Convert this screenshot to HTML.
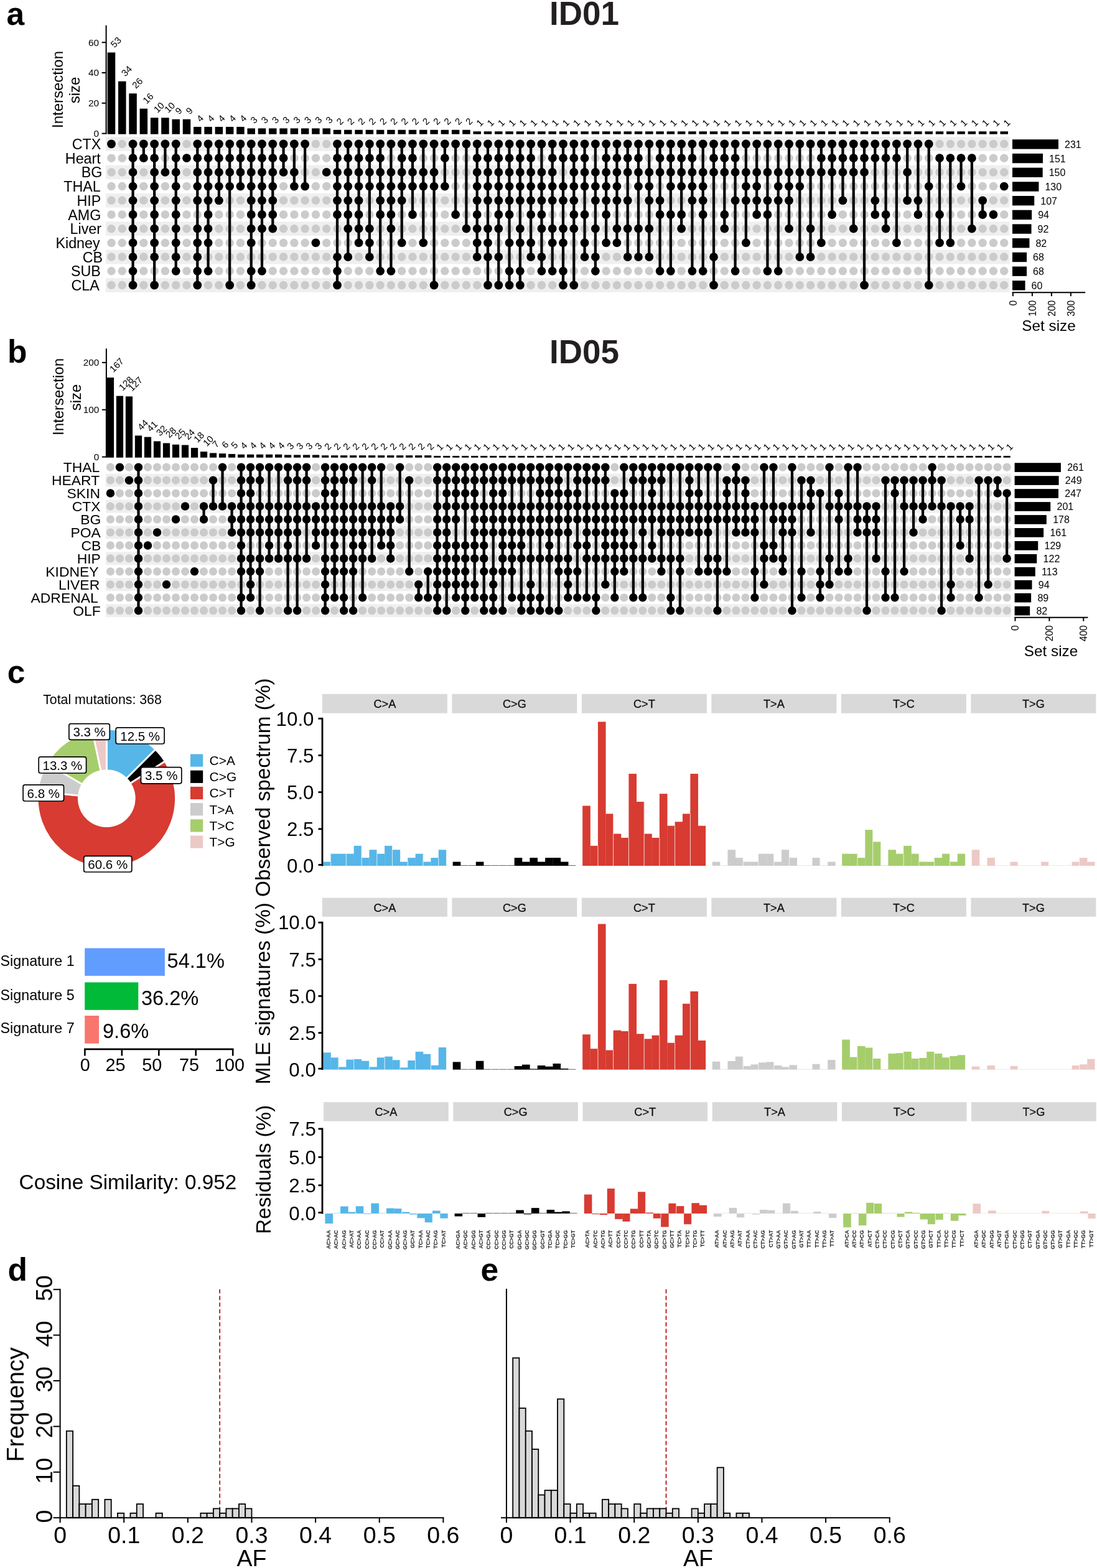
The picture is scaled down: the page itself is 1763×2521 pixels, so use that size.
<!DOCTYPE html>
<html lang="en"><head><meta charset="utf-8"><title>Figure</title>
<style>
html,body{margin:0;padding:0;background:#fff;}
body{width:1763px;height:2521px;overflow:hidden;font-family:"Liberation Sans",sans-serif;}
svg{display:block;}
</style></head><body>
<svg width="1763" height="2521" viewBox="0 0 1763 2521" font-family="'Liberation Sans', sans-serif" fill="#000">
<rect width="1763" height="2521" fill="#fff"/>
<g>
<rect x="169.9" y="220.15" width="1452.6" height="22.7" fill="#efefef"/>
<rect x="169.9" y="265.55" width="1452.6" height="22.7" fill="#efefef"/>
<rect x="169.9" y="310.95" width="1452.6" height="22.7" fill="#efefef"/>
<rect x="169.9" y="356.35" width="1452.6" height="22.7" fill="#efefef"/>
<rect x="169.9" y="401.75" width="1452.6" height="22.7" fill="#efefef"/>
<rect x="169.9" y="447.15" width="1452.6" height="22.7" fill="#efefef"/>
<g fill="#cbcbcb"><circle cx="179" cy="254.2" r="6.75"/><circle cx="179" cy="276.9" r="6.75"/><circle cx="179" cy="299.6" r="6.75"/><circle cx="179" cy="322.3" r="6.75"/><circle cx="179" cy="345" r="6.75"/><circle cx="179" cy="367.7" r="6.75"/><circle cx="179" cy="390.4" r="6.75"/><circle cx="179" cy="413.1" r="6.75"/><circle cx="179" cy="435.8" r="6.75"/><circle cx="179" cy="458.5" r="6.75"/><circle cx="196.29" cy="231.5" r="6.75"/><circle cx="196.29" cy="254.2" r="6.75"/><circle cx="196.29" cy="276.9" r="6.75"/><circle cx="196.29" cy="299.6" r="6.75"/><circle cx="196.29" cy="322.3" r="6.75"/><circle cx="196.29" cy="345" r="6.75"/><circle cx="196.29" cy="367.7" r="6.75"/><circle cx="196.29" cy="390.4" r="6.75"/><circle cx="196.29" cy="413.1" r="6.75"/><circle cx="196.29" cy="435.8" r="6.75"/><circle cx="196.29" cy="458.5" r="6.75"/><circle cx="230.86" cy="276.9" r="6.75"/><circle cx="230.86" cy="299.6" r="6.75"/><circle cx="230.86" cy="322.3" r="6.75"/><circle cx="230.86" cy="345" r="6.75"/><circle cx="230.86" cy="367.7" r="6.75"/><circle cx="230.86" cy="390.4" r="6.75"/><circle cx="230.86" cy="413.1" r="6.75"/><circle cx="230.86" cy="435.8" r="6.75"/><circle cx="230.86" cy="458.5" r="6.75"/><circle cx="248.14" cy="435.8" r="6.75"/><circle cx="265.43" cy="254.2" r="6.75"/><circle cx="265.43" cy="299.6" r="6.75"/><circle cx="265.43" cy="322.3" r="6.75"/><circle cx="265.43" cy="345" r="6.75"/><circle cx="265.43" cy="367.7" r="6.75"/><circle cx="265.43" cy="390.4" r="6.75"/><circle cx="265.43" cy="413.1" r="6.75"/><circle cx="265.43" cy="435.8" r="6.75"/><circle cx="265.43" cy="458.5" r="6.75"/><circle cx="282.72" cy="458.5" r="6.75"/><circle cx="300" cy="231.5" r="6.75"/><circle cx="300" cy="276.9" r="6.75"/><circle cx="300" cy="299.6" r="6.75"/><circle cx="300" cy="322.3" r="6.75"/><circle cx="300" cy="345" r="6.75"/><circle cx="300" cy="367.7" r="6.75"/><circle cx="300" cy="390.4" r="6.75"/><circle cx="300" cy="413.1" r="6.75"/><circle cx="300" cy="435.8" r="6.75"/><circle cx="300" cy="458.5" r="6.75"/><circle cx="317.29" cy="345" r="6.75"/><circle cx="334.57" cy="413.1" r="6.75"/><circle cx="334.57" cy="458.5" r="6.75"/><circle cx="351.86" cy="345" r="6.75"/><circle cx="351.86" cy="367.7" r="6.75"/><circle cx="351.86" cy="390.4" r="6.75"/><circle cx="351.86" cy="413.1" r="6.75"/><circle cx="351.86" cy="435.8" r="6.75"/><circle cx="351.86" cy="458.5" r="6.75"/><circle cx="369.15" cy="322.3" r="6.75"/><circle cx="369.15" cy="345" r="6.75"/><circle cx="369.15" cy="367.7" r="6.75"/><circle cx="369.15" cy="390.4" r="6.75"/><circle cx="369.15" cy="413.1" r="6.75"/><circle cx="369.15" cy="435.8" r="6.75"/><circle cx="386.43" cy="322.3" r="6.75"/><circle cx="386.43" cy="345" r="6.75"/><circle cx="386.43" cy="367.7" r="6.75"/><circle cx="386.43" cy="390.4" r="6.75"/><circle cx="386.43" cy="413.1" r="6.75"/><circle cx="386.43" cy="435.8" r="6.75"/><circle cx="386.43" cy="458.5" r="6.75"/><circle cx="403.72" cy="413.1" r="6.75"/><circle cx="421" cy="390.4" r="6.75"/><circle cx="421" cy="413.1" r="6.75"/><circle cx="421" cy="458.5" r="6.75"/><circle cx="438.29" cy="390.4" r="6.75"/><circle cx="438.29" cy="413.1" r="6.75"/><circle cx="438.29" cy="435.8" r="6.75"/><circle cx="438.29" cy="458.5" r="6.75"/><circle cx="455.58" cy="299.6" r="6.75"/><circle cx="455.58" cy="322.3" r="6.75"/><circle cx="455.58" cy="345" r="6.75"/><circle cx="455.58" cy="367.7" r="6.75"/><circle cx="455.58" cy="390.4" r="6.75"/><circle cx="455.58" cy="413.1" r="6.75"/><circle cx="455.58" cy="435.8" r="6.75"/><circle cx="455.58" cy="458.5" r="6.75"/><circle cx="472.86" cy="254.2" r="6.75"/><circle cx="472.86" cy="322.3" r="6.75"/><circle cx="472.86" cy="345" r="6.75"/><circle cx="472.86" cy="367.7" r="6.75"/><circle cx="472.86" cy="390.4" r="6.75"/><circle cx="472.86" cy="413.1" r="6.75"/><circle cx="472.86" cy="435.8" r="6.75"/><circle cx="472.86" cy="458.5" r="6.75"/><circle cx="490.15" cy="254.2" r="6.75"/><circle cx="490.15" cy="276.9" r="6.75"/><circle cx="490.15" cy="322.3" r="6.75"/><circle cx="490.15" cy="345" r="6.75"/><circle cx="490.15" cy="367.7" r="6.75"/><circle cx="490.15" cy="390.4" r="6.75"/><circle cx="490.15" cy="413.1" r="6.75"/><circle cx="490.15" cy="435.8" r="6.75"/><circle cx="490.15" cy="458.5" r="6.75"/><circle cx="507.43" cy="231.5" r="6.75"/><circle cx="507.43" cy="254.2" r="6.75"/><circle cx="507.43" cy="276.9" r="6.75"/><circle cx="507.43" cy="299.6" r="6.75"/><circle cx="507.43" cy="322.3" r="6.75"/><circle cx="507.43" cy="345" r="6.75"/><circle cx="507.43" cy="367.7" r="6.75"/><circle cx="507.43" cy="413.1" r="6.75"/><circle cx="507.43" cy="435.8" r="6.75"/><circle cx="507.43" cy="458.5" r="6.75"/><circle cx="524.72" cy="231.5" r="6.75"/><circle cx="524.72" cy="254.2" r="6.75"/><circle cx="524.72" cy="299.6" r="6.75"/><circle cx="524.72" cy="322.3" r="6.75"/><circle cx="524.72" cy="345" r="6.75"/><circle cx="524.72" cy="367.7" r="6.75"/><circle cx="524.72" cy="390.4" r="6.75"/><circle cx="524.72" cy="413.1" r="6.75"/><circle cx="524.72" cy="435.8" r="6.75"/><circle cx="524.72" cy="458.5" r="6.75"/><circle cx="542.01" cy="367.7" r="6.75"/><circle cx="542.01" cy="390.4" r="6.75"/><circle cx="559.29" cy="390.4" r="6.75"/><circle cx="559.29" cy="435.8" r="6.75"/><circle cx="559.29" cy="458.5" r="6.75"/><circle cx="576.58" cy="413.1" r="6.75"/><circle cx="576.58" cy="435.8" r="6.75"/><circle cx="576.58" cy="458.5" r="6.75"/><circle cx="593.86" cy="322.3" r="6.75"/><circle cx="593.86" cy="345" r="6.75"/><circle cx="593.86" cy="435.8" r="6.75"/><circle cx="593.86" cy="458.5" r="6.75"/><circle cx="611.15" cy="367.7" r="6.75"/><circle cx="611.15" cy="390.4" r="6.75"/><circle cx="611.15" cy="413.1" r="6.75"/><circle cx="611.15" cy="458.5" r="6.75"/><circle cx="628.44" cy="254.2" r="6.75"/><circle cx="628.44" cy="390.4" r="6.75"/><circle cx="628.44" cy="413.1" r="6.75"/><circle cx="628.44" cy="458.5" r="6.75"/><circle cx="645.72" cy="345" r="6.75"/><circle cx="645.72" cy="367.7" r="6.75"/><circle cx="645.72" cy="413.1" r="6.75"/><circle cx="645.72" cy="435.8" r="6.75"/><circle cx="645.72" cy="458.5" r="6.75"/><circle cx="663.01" cy="322.3" r="6.75"/><circle cx="663.01" cy="367.7" r="6.75"/><circle cx="663.01" cy="390.4" r="6.75"/><circle cx="663.01" cy="413.1" r="6.75"/><circle cx="663.01" cy="435.8" r="6.75"/><circle cx="663.01" cy="458.5" r="6.75"/><circle cx="680.29" cy="254.2" r="6.75"/><circle cx="680.29" cy="322.3" r="6.75"/><circle cx="680.29" cy="345" r="6.75"/><circle cx="680.29" cy="367.7" r="6.75"/><circle cx="680.29" cy="413.1" r="6.75"/><circle cx="680.29" cy="435.8" r="6.75"/><circle cx="680.29" cy="458.5" r="6.75"/><circle cx="697.58" cy="254.2" r="6.75"/><circle cx="697.58" cy="322.3" r="6.75"/><circle cx="697.58" cy="345" r="6.75"/><circle cx="697.58" cy="367.7" r="6.75"/><circle cx="697.58" cy="390.4" r="6.75"/><circle cx="697.58" cy="413.1" r="6.75"/><circle cx="697.58" cy="435.8" r="6.75"/><circle cx="714.87" cy="276.9" r="6.75"/><circle cx="714.87" cy="322.3" r="6.75"/><circle cx="714.87" cy="345" r="6.75"/><circle cx="714.87" cy="367.7" r="6.75"/><circle cx="714.87" cy="390.4" r="6.75"/><circle cx="714.87" cy="413.1" r="6.75"/><circle cx="714.87" cy="435.8" r="6.75"/><circle cx="714.87" cy="458.5" r="6.75"/><circle cx="732.15" cy="254.2" r="6.75"/><circle cx="732.15" cy="276.9" r="6.75"/><circle cx="732.15" cy="299.6" r="6.75"/><circle cx="732.15" cy="322.3" r="6.75"/><circle cx="732.15" cy="367.7" r="6.75"/><circle cx="732.15" cy="390.4" r="6.75"/><circle cx="732.15" cy="413.1" r="6.75"/><circle cx="732.15" cy="435.8" r="6.75"/><circle cx="732.15" cy="458.5" r="6.75"/><circle cx="749.44" cy="254.2" r="6.75"/><circle cx="749.44" cy="276.9" r="6.75"/><circle cx="749.44" cy="299.6" r="6.75"/><circle cx="749.44" cy="322.3" r="6.75"/><circle cx="749.44" cy="345" r="6.75"/><circle cx="749.44" cy="390.4" r="6.75"/><circle cx="749.44" cy="413.1" r="6.75"/><circle cx="749.44" cy="435.8" r="6.75"/><circle cx="749.44" cy="458.5" r="6.75"/><circle cx="766.72" cy="435.8" r="6.75"/><circle cx="766.72" cy="458.5" r="6.75"/><circle cx="784.01" cy="345" r="6.75"/><circle cx="784.01" cy="435.8" r="6.75"/><circle cx="801.3" cy="390.4" r="6.75"/><circle cx="801.3" cy="435.8" r="6.75"/><circle cx="818.58" cy="367.7" r="6.75"/><circle cx="818.58" cy="413.1" r="6.75"/><circle cx="835.87" cy="345" r="6.75"/><circle cx="835.87" cy="413.1" r="6.75"/><circle cx="853.15" cy="367.7" r="6.75"/><circle cx="853.15" cy="435.8" r="6.75"/><circle cx="853.15" cy="458.5" r="6.75"/><circle cx="870.44" cy="254.2" r="6.75"/><circle cx="870.44" cy="390.4" r="6.75"/><circle cx="870.44" cy="458.5" r="6.75"/><circle cx="887.73" cy="345" r="6.75"/><circle cx="887.73" cy="413.1" r="6.75"/><circle cx="887.73" cy="458.5" r="6.75"/><circle cx="905.01" cy="276.9" r="6.75"/><circle cx="905.01" cy="345" r="6.75"/><circle cx="905.01" cy="413.1" r="6.75"/><circle cx="922.3" cy="390.4" r="6.75"/><circle cx="922.3" cy="413.1" r="6.75"/><circle cx="922.3" cy="435.8" r="6.75"/><circle cx="939.58" cy="322.3" r="6.75"/><circle cx="939.58" cy="367.7" r="6.75"/><circle cx="939.58" cy="435.8" r="6.75"/><circle cx="939.58" cy="458.5" r="6.75"/><circle cx="956.87" cy="254.2" r="6.75"/><circle cx="956.87" cy="345" r="6.75"/><circle cx="956.87" cy="390.4" r="6.75"/><circle cx="956.87" cy="458.5" r="6.75"/><circle cx="974.16" cy="367.7" r="6.75"/><circle cx="974.16" cy="413.1" r="6.75"/><circle cx="974.16" cy="435.8" r="6.75"/><circle cx="974.16" cy="458.5" r="6.75"/><circle cx="991.44" cy="345" r="6.75"/><circle cx="991.44" cy="413.1" r="6.75"/><circle cx="991.44" cy="435.8" r="6.75"/><circle cx="991.44" cy="458.5" r="6.75"/><circle cx="1008.73" cy="299.6" r="6.75"/><circle cx="1008.73" cy="345" r="6.75"/><circle cx="1008.73" cy="390.4" r="6.75"/><circle cx="1008.73" cy="435.8" r="6.75"/><circle cx="1008.73" cy="458.5" r="6.75"/><circle cx="1026.01" cy="322.3" r="6.75"/><circle cx="1026.01" cy="345" r="6.75"/><circle cx="1026.01" cy="390.4" r="6.75"/><circle cx="1026.01" cy="435.8" r="6.75"/><circle cx="1026.01" cy="458.5" r="6.75"/><circle cx="1043.3" cy="254.2" r="6.75"/><circle cx="1043.3" cy="345" r="6.75"/><circle cx="1043.3" cy="390.4" r="6.75"/><circle cx="1043.3" cy="435.8" r="6.75"/><circle cx="1043.3" cy="458.5" r="6.75"/><circle cx="1060.59" cy="299.6" r="6.75"/><circle cx="1060.59" cy="367.7" r="6.75"/><circle cx="1060.59" cy="390.4" r="6.75"/><circle cx="1060.59" cy="413.1" r="6.75"/><circle cx="1060.59" cy="458.5" r="6.75"/><circle cx="1077.87" cy="322.3" r="6.75"/><circle cx="1077.87" cy="367.7" r="6.75"/><circle cx="1077.87" cy="390.4" r="6.75"/><circle cx="1077.87" cy="413.1" r="6.75"/><circle cx="1077.87" cy="458.5" r="6.75"/><circle cx="1095.16" cy="322.3" r="6.75"/><circle cx="1095.16" cy="390.4" r="6.75"/><circle cx="1095.16" cy="413.1" r="6.75"/><circle cx="1095.16" cy="435.8" r="6.75"/><circle cx="1095.16" cy="458.5" r="6.75"/><circle cx="1112.44" cy="345" r="6.75"/><circle cx="1112.44" cy="367.7" r="6.75"/><circle cx="1112.44" cy="390.4" r="6.75"/><circle cx="1112.44" cy="413.1" r="6.75"/><circle cx="1112.44" cy="458.5" r="6.75"/><circle cx="1129.73" cy="254.2" r="6.75"/><circle cx="1129.73" cy="367.7" r="6.75"/><circle cx="1129.73" cy="390.4" r="6.75"/><circle cx="1129.73" cy="413.1" r="6.75"/><circle cx="1129.73" cy="458.5" r="6.75"/><circle cx="1147.02" cy="299.6" r="6.75"/><circle cx="1147.02" cy="322.3" r="6.75"/><circle cx="1147.02" cy="345" r="6.75"/><circle cx="1147.02" cy="367.7" r="6.75"/><circle cx="1147.02" cy="390.4" r="6.75"/><circle cx="1147.02" cy="435.8" r="6.75"/><circle cx="1164.3" cy="299.6" r="6.75"/><circle cx="1164.3" cy="322.3" r="6.75"/><circle cx="1164.3" cy="390.4" r="6.75"/><circle cx="1164.3" cy="413.1" r="6.75"/><circle cx="1164.3" cy="435.8" r="6.75"/><circle cx="1164.3" cy="458.5" r="6.75"/><circle cx="1181.59" cy="299.6" r="6.75"/><circle cx="1181.59" cy="345" r="6.75"/><circle cx="1181.59" cy="367.7" r="6.75"/><circle cx="1181.59" cy="390.4" r="6.75"/><circle cx="1181.59" cy="413.1" r="6.75"/><circle cx="1181.59" cy="458.5" r="6.75"/><circle cx="1198.87" cy="254.2" r="6.75"/><circle cx="1198.87" cy="345" r="6.75"/><circle cx="1198.87" cy="367.7" r="6.75"/><circle cx="1198.87" cy="413.1" r="6.75"/><circle cx="1198.87" cy="435.8" r="6.75"/><circle cx="1198.87" cy="458.5" r="6.75"/><circle cx="1216.16" cy="254.2" r="6.75"/><circle cx="1216.16" cy="367.7" r="6.75"/><circle cx="1216.16" cy="390.4" r="6.75"/><circle cx="1216.16" cy="413.1" r="6.75"/><circle cx="1216.16" cy="435.8" r="6.75"/><circle cx="1216.16" cy="458.5" r="6.75"/><circle cx="1233.45" cy="254.2" r="6.75"/><circle cx="1233.45" cy="299.6" r="6.75"/><circle cx="1233.45" cy="367.7" r="6.75"/><circle cx="1233.45" cy="390.4" r="6.75"/><circle cx="1233.45" cy="413.1" r="6.75"/><circle cx="1233.45" cy="458.5" r="6.75"/><circle cx="1250.73" cy="254.2" r="6.75"/><circle cx="1250.73" cy="345" r="6.75"/><circle cx="1250.73" cy="367.7" r="6.75"/><circle cx="1250.73" cy="390.4" r="6.75"/><circle cx="1250.73" cy="413.1" r="6.75"/><circle cx="1250.73" cy="458.5" r="6.75"/><circle cx="1268.02" cy="254.2" r="6.75"/><circle cx="1268.02" cy="345" r="6.75"/><circle cx="1268.02" cy="390.4" r="6.75"/><circle cx="1268.02" cy="413.1" r="6.75"/><circle cx="1268.02" cy="435.8" r="6.75"/><circle cx="1268.02" cy="458.5" r="6.75"/><circle cx="1285.3" cy="254.2" r="6.75"/><circle cx="1285.3" cy="322.3" r="6.75"/><circle cx="1285.3" cy="345" r="6.75"/><circle cx="1285.3" cy="367.7" r="6.75"/><circle cx="1285.3" cy="390.4" r="6.75"/><circle cx="1285.3" cy="435.8" r="6.75"/><circle cx="1285.3" cy="458.5" r="6.75"/><circle cx="1302.59" cy="254.2" r="6.75"/><circle cx="1302.59" cy="299.6" r="6.75"/><circle cx="1302.59" cy="322.3" r="6.75"/><circle cx="1302.59" cy="345" r="6.75"/><circle cx="1302.59" cy="390.4" r="6.75"/><circle cx="1302.59" cy="435.8" r="6.75"/><circle cx="1302.59" cy="458.5" r="6.75"/><circle cx="1319.88" cy="299.6" r="6.75"/><circle cx="1319.88" cy="322.3" r="6.75"/><circle cx="1319.88" cy="345" r="6.75"/><circle cx="1319.88" cy="367.7" r="6.75"/><circle cx="1319.88" cy="413.1" r="6.75"/><circle cx="1319.88" cy="435.8" r="6.75"/><circle cx="1319.88" cy="458.5" r="6.75"/><circle cx="1337.16" cy="299.6" r="6.75"/><circle cx="1337.16" cy="322.3" r="6.75"/><circle cx="1337.16" cy="367.7" r="6.75"/><circle cx="1337.16" cy="390.4" r="6.75"/><circle cx="1337.16" cy="413.1" r="6.75"/><circle cx="1337.16" cy="435.8" r="6.75"/><circle cx="1337.16" cy="458.5" r="6.75"/><circle cx="1354.45" cy="299.6" r="6.75"/><circle cx="1354.45" cy="345" r="6.75"/><circle cx="1354.45" cy="367.7" r="6.75"/><circle cx="1354.45" cy="390.4" r="6.75"/><circle cx="1354.45" cy="413.1" r="6.75"/><circle cx="1354.45" cy="435.8" r="6.75"/><circle cx="1354.45" cy="458.5" r="6.75"/><circle cx="1371.73" cy="299.6" r="6.75"/><circle cx="1371.73" cy="322.3" r="6.75"/><circle cx="1371.73" cy="345" r="6.75"/><circle cx="1371.73" cy="390.4" r="6.75"/><circle cx="1371.73" cy="413.1" r="6.75"/><circle cx="1371.73" cy="435.8" r="6.75"/><circle cx="1371.73" cy="458.5" r="6.75"/><circle cx="1389.02" cy="299.6" r="6.75"/><circle cx="1389.02" cy="322.3" r="6.75"/><circle cx="1389.02" cy="345" r="6.75"/><circle cx="1389.02" cy="367.7" r="6.75"/><circle cx="1389.02" cy="390.4" r="6.75"/><circle cx="1389.02" cy="413.1" r="6.75"/><circle cx="1389.02" cy="435.8" r="6.75"/><circle cx="1406.31" cy="276.9" r="6.75"/><circle cx="1406.31" cy="299.6" r="6.75"/><circle cx="1406.31" cy="367.7" r="6.75"/><circle cx="1406.31" cy="390.4" r="6.75"/><circle cx="1406.31" cy="413.1" r="6.75"/><circle cx="1406.31" cy="435.8" r="6.75"/><circle cx="1406.31" cy="458.5" r="6.75"/><circle cx="1423.59" cy="276.9" r="6.75"/><circle cx="1423.59" cy="299.6" r="6.75"/><circle cx="1423.59" cy="322.3" r="6.75"/><circle cx="1423.59" cy="390.4" r="6.75"/><circle cx="1423.59" cy="413.1" r="6.75"/><circle cx="1423.59" cy="435.8" r="6.75"/><circle cx="1423.59" cy="458.5" r="6.75"/><circle cx="1440.88" cy="276.9" r="6.75"/><circle cx="1440.88" cy="299.6" r="6.75"/><circle cx="1440.88" cy="322.3" r="6.75"/><circle cx="1440.88" cy="345" r="6.75"/><circle cx="1440.88" cy="367.7" r="6.75"/><circle cx="1440.88" cy="413.1" r="6.75"/><circle cx="1440.88" cy="435.8" r="6.75"/><circle cx="1440.88" cy="458.5" r="6.75"/><circle cx="1458.16" cy="254.2" r="6.75"/><circle cx="1458.16" cy="299.6" r="6.75"/><circle cx="1458.16" cy="345" r="6.75"/><circle cx="1458.16" cy="367.7" r="6.75"/><circle cx="1458.16" cy="390.4" r="6.75"/><circle cx="1458.16" cy="413.1" r="6.75"/><circle cx="1458.16" cy="435.8" r="6.75"/><circle cx="1458.16" cy="458.5" r="6.75"/><circle cx="1475.45" cy="254.2" r="6.75"/><circle cx="1475.45" cy="276.9" r="6.75"/><circle cx="1475.45" cy="299.6" r="6.75"/><circle cx="1475.45" cy="367.7" r="6.75"/><circle cx="1475.45" cy="390.4" r="6.75"/><circle cx="1475.45" cy="413.1" r="6.75"/><circle cx="1475.45" cy="435.8" r="6.75"/><circle cx="1475.45" cy="458.5" r="6.75"/><circle cx="1492.74" cy="254.2" r="6.75"/><circle cx="1492.74" cy="276.9" r="6.75"/><circle cx="1492.74" cy="322.3" r="6.75"/><circle cx="1492.74" cy="345" r="6.75"/><circle cx="1492.74" cy="367.7" r="6.75"/><circle cx="1492.74" cy="390.4" r="6.75"/><circle cx="1492.74" cy="413.1" r="6.75"/><circle cx="1492.74" cy="435.8" r="6.75"/><circle cx="1510.02" cy="231.5" r="6.75"/><circle cx="1510.02" cy="276.9" r="6.75"/><circle cx="1510.02" cy="299.6" r="6.75"/><circle cx="1510.02" cy="322.3" r="6.75"/><circle cx="1510.02" cy="367.7" r="6.75"/><circle cx="1510.02" cy="413.1" r="6.75"/><circle cx="1510.02" cy="435.8" r="6.75"/><circle cx="1510.02" cy="458.5" r="6.75"/><circle cx="1527.31" cy="231.5" r="6.75"/><circle cx="1527.31" cy="276.9" r="6.75"/><circle cx="1527.31" cy="299.6" r="6.75"/><circle cx="1527.31" cy="322.3" r="6.75"/><circle cx="1527.31" cy="345" r="6.75"/><circle cx="1527.31" cy="367.7" r="6.75"/><circle cx="1527.31" cy="413.1" r="6.75"/><circle cx="1527.31" cy="435.8" r="6.75"/><circle cx="1527.31" cy="458.5" r="6.75"/><circle cx="1544.59" cy="231.5" r="6.75"/><circle cx="1544.59" cy="276.9" r="6.75"/><circle cx="1544.59" cy="322.3" r="6.75"/><circle cx="1544.59" cy="345" r="6.75"/><circle cx="1544.59" cy="367.7" r="6.75"/><circle cx="1544.59" cy="390.4" r="6.75"/><circle cx="1544.59" cy="413.1" r="6.75"/><circle cx="1544.59" cy="435.8" r="6.75"/><circle cx="1544.59" cy="458.5" r="6.75"/><circle cx="1561.88" cy="231.5" r="6.75"/><circle cx="1561.88" cy="276.9" r="6.75"/><circle cx="1561.88" cy="299.6" r="6.75"/><circle cx="1561.88" cy="322.3" r="6.75"/><circle cx="1561.88" cy="345" r="6.75"/><circle cx="1561.88" cy="390.4" r="6.75"/><circle cx="1561.88" cy="413.1" r="6.75"/><circle cx="1561.88" cy="435.8" r="6.75"/><circle cx="1561.88" cy="458.5" r="6.75"/><circle cx="1579.17" cy="231.5" r="6.75"/><circle cx="1579.17" cy="254.2" r="6.75"/><circle cx="1579.17" cy="276.9" r="6.75"/><circle cx="1579.17" cy="299.6" r="6.75"/><circle cx="1579.17" cy="367.7" r="6.75"/><circle cx="1579.17" cy="390.4" r="6.75"/><circle cx="1579.17" cy="413.1" r="6.75"/><circle cx="1579.17" cy="435.8" r="6.75"/><circle cx="1579.17" cy="458.5" r="6.75"/><circle cx="1596.45" cy="231.5" r="6.75"/><circle cx="1596.45" cy="254.2" r="6.75"/><circle cx="1596.45" cy="276.9" r="6.75"/><circle cx="1596.45" cy="299.6" r="6.75"/><circle cx="1596.45" cy="322.3" r="6.75"/><circle cx="1596.45" cy="367.7" r="6.75"/><circle cx="1596.45" cy="390.4" r="6.75"/><circle cx="1596.45" cy="413.1" r="6.75"/><circle cx="1596.45" cy="435.8" r="6.75"/><circle cx="1596.45" cy="458.5" r="6.75"/><circle cx="1613.74" cy="231.5" r="6.75"/><circle cx="1613.74" cy="254.2" r="6.75"/><circle cx="1613.74" cy="276.9" r="6.75"/><circle cx="1613.74" cy="322.3" r="6.75"/><circle cx="1613.74" cy="345" r="6.75"/><circle cx="1613.74" cy="367.7" r="6.75"/><circle cx="1613.74" cy="390.4" r="6.75"/><circle cx="1613.74" cy="413.1" r="6.75"/><circle cx="1613.74" cy="435.8" r="6.75"/><circle cx="1613.74" cy="458.5" r="6.75"/></g>
<g stroke="#000" stroke-width="4.2"><line x1="213.57" y1="231.5" x2="213.57" y2="458.5"/><line x1="230.86" y1="231.5" x2="230.86" y2="254.2"/><line x1="248.14" y1="231.5" x2="248.14" y2="458.5"/><line x1="265.43" y1="231.5" x2="265.43" y2="276.9"/><line x1="282.72" y1="231.5" x2="282.72" y2="435.8"/><line x1="317.29" y1="231.5" x2="317.29" y2="458.5"/><line x1="334.57" y1="231.5" x2="334.57" y2="435.8"/><line x1="351.86" y1="231.5" x2="351.86" y2="322.3"/><line x1="369.15" y1="231.5" x2="369.15" y2="458.5"/><line x1="386.43" y1="231.5" x2="386.43" y2="299.6"/><line x1="403.72" y1="231.5" x2="403.72" y2="458.5"/><line x1="421" y1="231.5" x2="421" y2="435.8"/><line x1="438.29" y1="231.5" x2="438.29" y2="367.7"/><line x1="455.58" y1="231.5" x2="455.58" y2="276.9"/><line x1="472.86" y1="231.5" x2="472.86" y2="299.6"/><line x1="490.15" y1="231.5" x2="490.15" y2="299.6"/><line x1="542.01" y1="231.5" x2="542.01" y2="458.5"/><line x1="559.29" y1="231.5" x2="559.29" y2="413.1"/><line x1="576.58" y1="231.5" x2="576.58" y2="390.4"/><line x1="593.86" y1="231.5" x2="593.86" y2="413.1"/><line x1="611.15" y1="231.5" x2="611.15" y2="435.8"/><line x1="628.44" y1="231.5" x2="628.44" y2="435.8"/><line x1="645.72" y1="231.5" x2="645.72" y2="390.4"/><line x1="663.01" y1="231.5" x2="663.01" y2="345"/><line x1="680.29" y1="231.5" x2="680.29" y2="390.4"/><line x1="697.58" y1="231.5" x2="697.58" y2="458.5"/><line x1="714.87" y1="231.5" x2="714.87" y2="299.6"/><line x1="732.15" y1="231.5" x2="732.15" y2="345"/><line x1="749.44" y1="231.5" x2="749.44" y2="367.7"/><line x1="766.72" y1="231.5" x2="766.72" y2="413.1"/><line x1="784.01" y1="231.5" x2="784.01" y2="458.5"/><line x1="801.3" y1="231.5" x2="801.3" y2="458.5"/><line x1="818.58" y1="231.5" x2="818.58" y2="458.5"/><line x1="835.87" y1="231.5" x2="835.87" y2="458.5"/><line x1="853.15" y1="231.5" x2="853.15" y2="413.1"/><line x1="870.44" y1="231.5" x2="870.44" y2="435.8"/><line x1="887.73" y1="231.5" x2="887.73" y2="435.8"/><line x1="905.01" y1="231.5" x2="905.01" y2="458.5"/><line x1="922.3" y1="231.5" x2="922.3" y2="458.5"/><line x1="939.58" y1="231.5" x2="939.58" y2="413.1"/><line x1="956.87" y1="231.5" x2="956.87" y2="435.8"/><line x1="974.16" y1="231.5" x2="974.16" y2="390.4"/><line x1="991.44" y1="231.5" x2="991.44" y2="390.4"/><line x1="1008.73" y1="231.5" x2="1008.73" y2="413.1"/><line x1="1026.01" y1="231.5" x2="1026.01" y2="413.1"/><line x1="1043.3" y1="231.5" x2="1043.3" y2="413.1"/><line x1="1060.59" y1="231.5" x2="1060.59" y2="435.8"/><line x1="1077.87" y1="231.5" x2="1077.87" y2="435.8"/><line x1="1095.16" y1="231.5" x2="1095.16" y2="367.7"/><line x1="1112.44" y1="231.5" x2="1112.44" y2="435.8"/><line x1="1129.73" y1="231.5" x2="1129.73" y2="435.8"/><line x1="1147.02" y1="231.5" x2="1147.02" y2="458.5"/><line x1="1164.3" y1="231.5" x2="1164.3" y2="367.7"/><line x1="1181.59" y1="231.5" x2="1181.59" y2="435.8"/><line x1="1198.87" y1="231.5" x2="1198.87" y2="390.4"/><line x1="1216.16" y1="231.5" x2="1216.16" y2="345"/><line x1="1233.45" y1="231.5" x2="1233.45" y2="435.8"/><line x1="1250.73" y1="231.5" x2="1250.73" y2="435.8"/><line x1="1268.02" y1="231.5" x2="1268.02" y2="367.7"/><line x1="1285.3" y1="231.5" x2="1285.3" y2="413.1"/><line x1="1302.59" y1="231.5" x2="1302.59" y2="413.1"/><line x1="1319.88" y1="231.5" x2="1319.88" y2="390.4"/><line x1="1337.16" y1="231.5" x2="1337.16" y2="345"/><line x1="1354.45" y1="231.5" x2="1354.45" y2="322.3"/><line x1="1371.73" y1="231.5" x2="1371.73" y2="367.7"/><line x1="1389.02" y1="231.5" x2="1389.02" y2="458.5"/><line x1="1406.31" y1="231.5" x2="1406.31" y2="345"/><line x1="1423.59" y1="231.5" x2="1423.59" y2="367.7"/><line x1="1440.88" y1="231.5" x2="1440.88" y2="390.4"/><line x1="1458.16" y1="231.5" x2="1458.16" y2="322.3"/><line x1="1475.45" y1="231.5" x2="1475.45" y2="345"/><line x1="1492.74" y1="231.5" x2="1492.74" y2="458.5"/><line x1="1510.02" y1="254.2" x2="1510.02" y2="390.4"/><line x1="1527.31" y1="254.2" x2="1527.31" y2="390.4"/><line x1="1544.59" y1="254.2" x2="1544.59" y2="299.6"/><line x1="1561.88" y1="254.2" x2="1561.88" y2="367.7"/><line x1="1579.17" y1="322.3" x2="1579.17" y2="345"/></g>
<g fill="#000"><circle cx="179" cy="231.5" r="6.9"/><circle cx="213.57" cy="231.5" r="6.9"/><circle cx="213.57" cy="254.2" r="6.9"/><circle cx="213.57" cy="276.9" r="6.9"/><circle cx="213.57" cy="299.6" r="6.9"/><circle cx="213.57" cy="322.3" r="6.9"/><circle cx="213.57" cy="345" r="6.9"/><circle cx="213.57" cy="367.7" r="6.9"/><circle cx="213.57" cy="390.4" r="6.9"/><circle cx="213.57" cy="413.1" r="6.9"/><circle cx="213.57" cy="435.8" r="6.9"/><circle cx="213.57" cy="458.5" r="6.9"/><circle cx="230.86" cy="231.5" r="6.9"/><circle cx="230.86" cy="254.2" r="6.9"/><circle cx="248.14" cy="231.5" r="6.9"/><circle cx="248.14" cy="254.2" r="6.9"/><circle cx="248.14" cy="276.9" r="6.9"/><circle cx="248.14" cy="299.6" r="6.9"/><circle cx="248.14" cy="322.3" r="6.9"/><circle cx="248.14" cy="345" r="6.9"/><circle cx="248.14" cy="367.7" r="6.9"/><circle cx="248.14" cy="390.4" r="6.9"/><circle cx="248.14" cy="413.1" r="6.9"/><circle cx="248.14" cy="458.5" r="6.9"/><circle cx="265.43" cy="231.5" r="6.9"/><circle cx="265.43" cy="276.9" r="6.9"/><circle cx="282.72" cy="231.5" r="6.9"/><circle cx="282.72" cy="254.2" r="6.9"/><circle cx="282.72" cy="276.9" r="6.9"/><circle cx="282.72" cy="299.6" r="6.9"/><circle cx="282.72" cy="322.3" r="6.9"/><circle cx="282.72" cy="345" r="6.9"/><circle cx="282.72" cy="367.7" r="6.9"/><circle cx="282.72" cy="390.4" r="6.9"/><circle cx="282.72" cy="413.1" r="6.9"/><circle cx="282.72" cy="435.8" r="6.9"/><circle cx="300" cy="254.2" r="6.9"/><circle cx="317.29" cy="231.5" r="6.9"/><circle cx="317.29" cy="254.2" r="6.9"/><circle cx="317.29" cy="276.9" r="6.9"/><circle cx="317.29" cy="299.6" r="6.9"/><circle cx="317.29" cy="322.3" r="6.9"/><circle cx="317.29" cy="367.7" r="6.9"/><circle cx="317.29" cy="390.4" r="6.9"/><circle cx="317.29" cy="413.1" r="6.9"/><circle cx="317.29" cy="435.8" r="6.9"/><circle cx="317.29" cy="458.5" r="6.9"/><circle cx="334.57" cy="231.5" r="6.9"/><circle cx="334.57" cy="254.2" r="6.9"/><circle cx="334.57" cy="276.9" r="6.9"/><circle cx="334.57" cy="299.6" r="6.9"/><circle cx="334.57" cy="322.3" r="6.9"/><circle cx="334.57" cy="345" r="6.9"/><circle cx="334.57" cy="367.7" r="6.9"/><circle cx="334.57" cy="390.4" r="6.9"/><circle cx="334.57" cy="435.8" r="6.9"/><circle cx="351.86" cy="231.5" r="6.9"/><circle cx="351.86" cy="254.2" r="6.9"/><circle cx="351.86" cy="276.9" r="6.9"/><circle cx="351.86" cy="299.6" r="6.9"/><circle cx="351.86" cy="322.3" r="6.9"/><circle cx="369.15" cy="231.5" r="6.9"/><circle cx="369.15" cy="254.2" r="6.9"/><circle cx="369.15" cy="276.9" r="6.9"/><circle cx="369.15" cy="299.6" r="6.9"/><circle cx="369.15" cy="458.5" r="6.9"/><circle cx="386.43" cy="231.5" r="6.9"/><circle cx="386.43" cy="254.2" r="6.9"/><circle cx="386.43" cy="276.9" r="6.9"/><circle cx="386.43" cy="299.6" r="6.9"/><circle cx="403.72" cy="231.5" r="6.9"/><circle cx="403.72" cy="254.2" r="6.9"/><circle cx="403.72" cy="276.9" r="6.9"/><circle cx="403.72" cy="299.6" r="6.9"/><circle cx="403.72" cy="322.3" r="6.9"/><circle cx="403.72" cy="345" r="6.9"/><circle cx="403.72" cy="367.7" r="6.9"/><circle cx="403.72" cy="390.4" r="6.9"/><circle cx="403.72" cy="435.8" r="6.9"/><circle cx="403.72" cy="458.5" r="6.9"/><circle cx="421" cy="231.5" r="6.9"/><circle cx="421" cy="254.2" r="6.9"/><circle cx="421" cy="276.9" r="6.9"/><circle cx="421" cy="299.6" r="6.9"/><circle cx="421" cy="322.3" r="6.9"/><circle cx="421" cy="345" r="6.9"/><circle cx="421" cy="367.7" r="6.9"/><circle cx="421" cy="435.8" r="6.9"/><circle cx="438.29" cy="231.5" r="6.9"/><circle cx="438.29" cy="254.2" r="6.9"/><circle cx="438.29" cy="276.9" r="6.9"/><circle cx="438.29" cy="299.6" r="6.9"/><circle cx="438.29" cy="322.3" r="6.9"/><circle cx="438.29" cy="345" r="6.9"/><circle cx="438.29" cy="367.7" r="6.9"/><circle cx="455.58" cy="231.5" r="6.9"/><circle cx="455.58" cy="254.2" r="6.9"/><circle cx="455.58" cy="276.9" r="6.9"/><circle cx="472.86" cy="231.5" r="6.9"/><circle cx="472.86" cy="276.9" r="6.9"/><circle cx="472.86" cy="299.6" r="6.9"/><circle cx="490.15" cy="231.5" r="6.9"/><circle cx="490.15" cy="299.6" r="6.9"/><circle cx="507.43" cy="390.4" r="6.9"/><circle cx="524.72" cy="276.9" r="6.9"/><circle cx="542.01" cy="231.5" r="6.9"/><circle cx="542.01" cy="254.2" r="6.9"/><circle cx="542.01" cy="276.9" r="6.9"/><circle cx="542.01" cy="299.6" r="6.9"/><circle cx="542.01" cy="322.3" r="6.9"/><circle cx="542.01" cy="345" r="6.9"/><circle cx="542.01" cy="413.1" r="6.9"/><circle cx="542.01" cy="435.8" r="6.9"/><circle cx="542.01" cy="458.5" r="6.9"/><circle cx="559.29" cy="231.5" r="6.9"/><circle cx="559.29" cy="254.2" r="6.9"/><circle cx="559.29" cy="276.9" r="6.9"/><circle cx="559.29" cy="299.6" r="6.9"/><circle cx="559.29" cy="322.3" r="6.9"/><circle cx="559.29" cy="345" r="6.9"/><circle cx="559.29" cy="367.7" r="6.9"/><circle cx="559.29" cy="413.1" r="6.9"/><circle cx="576.58" cy="231.5" r="6.9"/><circle cx="576.58" cy="254.2" r="6.9"/><circle cx="576.58" cy="276.9" r="6.9"/><circle cx="576.58" cy="299.6" r="6.9"/><circle cx="576.58" cy="322.3" r="6.9"/><circle cx="576.58" cy="345" r="6.9"/><circle cx="576.58" cy="367.7" r="6.9"/><circle cx="576.58" cy="390.4" r="6.9"/><circle cx="593.86" cy="231.5" r="6.9"/><circle cx="593.86" cy="254.2" r="6.9"/><circle cx="593.86" cy="276.9" r="6.9"/><circle cx="593.86" cy="299.6" r="6.9"/><circle cx="593.86" cy="367.7" r="6.9"/><circle cx="593.86" cy="390.4" r="6.9"/><circle cx="593.86" cy="413.1" r="6.9"/><circle cx="611.15" cy="231.5" r="6.9"/><circle cx="611.15" cy="254.2" r="6.9"/><circle cx="611.15" cy="276.9" r="6.9"/><circle cx="611.15" cy="299.6" r="6.9"/><circle cx="611.15" cy="322.3" r="6.9"/><circle cx="611.15" cy="345" r="6.9"/><circle cx="611.15" cy="435.8" r="6.9"/><circle cx="628.44" cy="231.5" r="6.9"/><circle cx="628.44" cy="276.9" r="6.9"/><circle cx="628.44" cy="299.6" r="6.9"/><circle cx="628.44" cy="322.3" r="6.9"/><circle cx="628.44" cy="345" r="6.9"/><circle cx="628.44" cy="367.7" r="6.9"/><circle cx="628.44" cy="435.8" r="6.9"/><circle cx="645.72" cy="231.5" r="6.9"/><circle cx="645.72" cy="254.2" r="6.9"/><circle cx="645.72" cy="276.9" r="6.9"/><circle cx="645.72" cy="299.6" r="6.9"/><circle cx="645.72" cy="322.3" r="6.9"/><circle cx="645.72" cy="390.4" r="6.9"/><circle cx="663.01" cy="231.5" r="6.9"/><circle cx="663.01" cy="254.2" r="6.9"/><circle cx="663.01" cy="276.9" r="6.9"/><circle cx="663.01" cy="299.6" r="6.9"/><circle cx="663.01" cy="345" r="6.9"/><circle cx="680.29" cy="231.5" r="6.9"/><circle cx="680.29" cy="276.9" r="6.9"/><circle cx="680.29" cy="299.6" r="6.9"/><circle cx="680.29" cy="390.4" r="6.9"/><circle cx="697.58" cy="231.5" r="6.9"/><circle cx="697.58" cy="276.9" r="6.9"/><circle cx="697.58" cy="299.6" r="6.9"/><circle cx="697.58" cy="458.5" r="6.9"/><circle cx="714.87" cy="231.5" r="6.9"/><circle cx="714.87" cy="254.2" r="6.9"/><circle cx="714.87" cy="299.6" r="6.9"/><circle cx="732.15" cy="231.5" r="6.9"/><circle cx="732.15" cy="345" r="6.9"/><circle cx="749.44" cy="231.5" r="6.9"/><circle cx="749.44" cy="367.7" r="6.9"/><circle cx="766.72" cy="231.5" r="6.9"/><circle cx="766.72" cy="254.2" r="6.9"/><circle cx="766.72" cy="276.9" r="6.9"/><circle cx="766.72" cy="299.6" r="6.9"/><circle cx="766.72" cy="322.3" r="6.9"/><circle cx="766.72" cy="345" r="6.9"/><circle cx="766.72" cy="367.7" r="6.9"/><circle cx="766.72" cy="390.4" r="6.9"/><circle cx="766.72" cy="413.1" r="6.9"/><circle cx="784.01" cy="231.5" r="6.9"/><circle cx="784.01" cy="254.2" r="6.9"/><circle cx="784.01" cy="276.9" r="6.9"/><circle cx="784.01" cy="299.6" r="6.9"/><circle cx="784.01" cy="322.3" r="6.9"/><circle cx="784.01" cy="367.7" r="6.9"/><circle cx="784.01" cy="390.4" r="6.9"/><circle cx="784.01" cy="413.1" r="6.9"/><circle cx="784.01" cy="458.5" r="6.9"/><circle cx="801.3" cy="231.5" r="6.9"/><circle cx="801.3" cy="254.2" r="6.9"/><circle cx="801.3" cy="276.9" r="6.9"/><circle cx="801.3" cy="299.6" r="6.9"/><circle cx="801.3" cy="322.3" r="6.9"/><circle cx="801.3" cy="345" r="6.9"/><circle cx="801.3" cy="367.7" r="6.9"/><circle cx="801.3" cy="413.1" r="6.9"/><circle cx="801.3" cy="458.5" r="6.9"/><circle cx="818.58" cy="231.5" r="6.9"/><circle cx="818.58" cy="254.2" r="6.9"/><circle cx="818.58" cy="276.9" r="6.9"/><circle cx="818.58" cy="299.6" r="6.9"/><circle cx="818.58" cy="322.3" r="6.9"/><circle cx="818.58" cy="345" r="6.9"/><circle cx="818.58" cy="390.4" r="6.9"/><circle cx="818.58" cy="435.8" r="6.9"/><circle cx="818.58" cy="458.5" r="6.9"/><circle cx="835.87" cy="231.5" r="6.9"/><circle cx="835.87" cy="254.2" r="6.9"/><circle cx="835.87" cy="276.9" r="6.9"/><circle cx="835.87" cy="299.6" r="6.9"/><circle cx="835.87" cy="322.3" r="6.9"/><circle cx="835.87" cy="367.7" r="6.9"/><circle cx="835.87" cy="390.4" r="6.9"/><circle cx="835.87" cy="435.8" r="6.9"/><circle cx="835.87" cy="458.5" r="6.9"/><circle cx="853.15" cy="231.5" r="6.9"/><circle cx="853.15" cy="254.2" r="6.9"/><circle cx="853.15" cy="276.9" r="6.9"/><circle cx="853.15" cy="299.6" r="6.9"/><circle cx="853.15" cy="322.3" r="6.9"/><circle cx="853.15" cy="345" r="6.9"/><circle cx="853.15" cy="390.4" r="6.9"/><circle cx="853.15" cy="413.1" r="6.9"/><circle cx="870.44" cy="231.5" r="6.9"/><circle cx="870.44" cy="276.9" r="6.9"/><circle cx="870.44" cy="299.6" r="6.9"/><circle cx="870.44" cy="322.3" r="6.9"/><circle cx="870.44" cy="345" r="6.9"/><circle cx="870.44" cy="367.7" r="6.9"/><circle cx="870.44" cy="413.1" r="6.9"/><circle cx="870.44" cy="435.8" r="6.9"/><circle cx="887.73" cy="231.5" r="6.9"/><circle cx="887.73" cy="254.2" r="6.9"/><circle cx="887.73" cy="276.9" r="6.9"/><circle cx="887.73" cy="299.6" r="6.9"/><circle cx="887.73" cy="322.3" r="6.9"/><circle cx="887.73" cy="367.7" r="6.9"/><circle cx="887.73" cy="390.4" r="6.9"/><circle cx="887.73" cy="435.8" r="6.9"/><circle cx="905.01" cy="231.5" r="6.9"/><circle cx="905.01" cy="254.2" r="6.9"/><circle cx="905.01" cy="299.6" r="6.9"/><circle cx="905.01" cy="322.3" r="6.9"/><circle cx="905.01" cy="367.7" r="6.9"/><circle cx="905.01" cy="390.4" r="6.9"/><circle cx="905.01" cy="435.8" r="6.9"/><circle cx="905.01" cy="458.5" r="6.9"/><circle cx="922.3" cy="231.5" r="6.9"/><circle cx="922.3" cy="254.2" r="6.9"/><circle cx="922.3" cy="276.9" r="6.9"/><circle cx="922.3" cy="299.6" r="6.9"/><circle cx="922.3" cy="322.3" r="6.9"/><circle cx="922.3" cy="345" r="6.9"/><circle cx="922.3" cy="367.7" r="6.9"/><circle cx="922.3" cy="458.5" r="6.9"/><circle cx="939.58" cy="231.5" r="6.9"/><circle cx="939.58" cy="254.2" r="6.9"/><circle cx="939.58" cy="276.9" r="6.9"/><circle cx="939.58" cy="299.6" r="6.9"/><circle cx="939.58" cy="345" r="6.9"/><circle cx="939.58" cy="390.4" r="6.9"/><circle cx="939.58" cy="413.1" r="6.9"/><circle cx="956.87" cy="231.5" r="6.9"/><circle cx="956.87" cy="276.9" r="6.9"/><circle cx="956.87" cy="299.6" r="6.9"/><circle cx="956.87" cy="322.3" r="6.9"/><circle cx="956.87" cy="367.7" r="6.9"/><circle cx="956.87" cy="413.1" r="6.9"/><circle cx="956.87" cy="435.8" r="6.9"/><circle cx="974.16" cy="231.5" r="6.9"/><circle cx="974.16" cy="254.2" r="6.9"/><circle cx="974.16" cy="276.9" r="6.9"/><circle cx="974.16" cy="299.6" r="6.9"/><circle cx="974.16" cy="322.3" r="6.9"/><circle cx="974.16" cy="345" r="6.9"/><circle cx="974.16" cy="390.4" r="6.9"/><circle cx="991.44" cy="231.5" r="6.9"/><circle cx="991.44" cy="254.2" r="6.9"/><circle cx="991.44" cy="276.9" r="6.9"/><circle cx="991.44" cy="299.6" r="6.9"/><circle cx="991.44" cy="322.3" r="6.9"/><circle cx="991.44" cy="367.7" r="6.9"/><circle cx="991.44" cy="390.4" r="6.9"/><circle cx="1008.73" cy="231.5" r="6.9"/><circle cx="1008.73" cy="254.2" r="6.9"/><circle cx="1008.73" cy="276.9" r="6.9"/><circle cx="1008.73" cy="322.3" r="6.9"/><circle cx="1008.73" cy="367.7" r="6.9"/><circle cx="1008.73" cy="413.1" r="6.9"/><circle cx="1026.01" cy="231.5" r="6.9"/><circle cx="1026.01" cy="254.2" r="6.9"/><circle cx="1026.01" cy="276.9" r="6.9"/><circle cx="1026.01" cy="299.6" r="6.9"/><circle cx="1026.01" cy="367.7" r="6.9"/><circle cx="1026.01" cy="413.1" r="6.9"/><circle cx="1043.3" cy="231.5" r="6.9"/><circle cx="1043.3" cy="276.9" r="6.9"/><circle cx="1043.3" cy="299.6" r="6.9"/><circle cx="1043.3" cy="322.3" r="6.9"/><circle cx="1043.3" cy="367.7" r="6.9"/><circle cx="1043.3" cy="413.1" r="6.9"/><circle cx="1060.59" cy="231.5" r="6.9"/><circle cx="1060.59" cy="254.2" r="6.9"/><circle cx="1060.59" cy="276.9" r="6.9"/><circle cx="1060.59" cy="322.3" r="6.9"/><circle cx="1060.59" cy="345" r="6.9"/><circle cx="1060.59" cy="435.8" r="6.9"/><circle cx="1077.87" cy="231.5" r="6.9"/><circle cx="1077.87" cy="254.2" r="6.9"/><circle cx="1077.87" cy="276.9" r="6.9"/><circle cx="1077.87" cy="299.6" r="6.9"/><circle cx="1077.87" cy="345" r="6.9"/><circle cx="1077.87" cy="435.8" r="6.9"/><circle cx="1095.16" cy="231.5" r="6.9"/><circle cx="1095.16" cy="254.2" r="6.9"/><circle cx="1095.16" cy="276.9" r="6.9"/><circle cx="1095.16" cy="299.6" r="6.9"/><circle cx="1095.16" cy="345" r="6.9"/><circle cx="1095.16" cy="367.7" r="6.9"/><circle cx="1112.44" cy="231.5" r="6.9"/><circle cx="1112.44" cy="254.2" r="6.9"/><circle cx="1112.44" cy="276.9" r="6.9"/><circle cx="1112.44" cy="299.6" r="6.9"/><circle cx="1112.44" cy="322.3" r="6.9"/><circle cx="1112.44" cy="435.8" r="6.9"/><circle cx="1129.73" cy="231.5" r="6.9"/><circle cx="1129.73" cy="276.9" r="6.9"/><circle cx="1129.73" cy="299.6" r="6.9"/><circle cx="1129.73" cy="322.3" r="6.9"/><circle cx="1129.73" cy="345" r="6.9"/><circle cx="1129.73" cy="435.8" r="6.9"/><circle cx="1147.02" cy="231.5" r="6.9"/><circle cx="1147.02" cy="254.2" r="6.9"/><circle cx="1147.02" cy="276.9" r="6.9"/><circle cx="1147.02" cy="413.1" r="6.9"/><circle cx="1147.02" cy="458.5" r="6.9"/><circle cx="1164.3" cy="231.5" r="6.9"/><circle cx="1164.3" cy="254.2" r="6.9"/><circle cx="1164.3" cy="276.9" r="6.9"/><circle cx="1164.3" cy="345" r="6.9"/><circle cx="1164.3" cy="367.7" r="6.9"/><circle cx="1181.59" cy="231.5" r="6.9"/><circle cx="1181.59" cy="254.2" r="6.9"/><circle cx="1181.59" cy="276.9" r="6.9"/><circle cx="1181.59" cy="322.3" r="6.9"/><circle cx="1181.59" cy="435.8" r="6.9"/><circle cx="1198.87" cy="231.5" r="6.9"/><circle cx="1198.87" cy="276.9" r="6.9"/><circle cx="1198.87" cy="299.6" r="6.9"/><circle cx="1198.87" cy="322.3" r="6.9"/><circle cx="1198.87" cy="390.4" r="6.9"/><circle cx="1216.16" cy="231.5" r="6.9"/><circle cx="1216.16" cy="276.9" r="6.9"/><circle cx="1216.16" cy="299.6" r="6.9"/><circle cx="1216.16" cy="322.3" r="6.9"/><circle cx="1216.16" cy="345" r="6.9"/><circle cx="1233.45" cy="231.5" r="6.9"/><circle cx="1233.45" cy="276.9" r="6.9"/><circle cx="1233.45" cy="322.3" r="6.9"/><circle cx="1233.45" cy="345" r="6.9"/><circle cx="1233.45" cy="435.8" r="6.9"/><circle cx="1250.73" cy="231.5" r="6.9"/><circle cx="1250.73" cy="276.9" r="6.9"/><circle cx="1250.73" cy="299.6" r="6.9"/><circle cx="1250.73" cy="322.3" r="6.9"/><circle cx="1250.73" cy="435.8" r="6.9"/><circle cx="1268.02" cy="231.5" r="6.9"/><circle cx="1268.02" cy="276.9" r="6.9"/><circle cx="1268.02" cy="299.6" r="6.9"/><circle cx="1268.02" cy="322.3" r="6.9"/><circle cx="1268.02" cy="367.7" r="6.9"/><circle cx="1285.3" cy="231.5" r="6.9"/><circle cx="1285.3" cy="276.9" r="6.9"/><circle cx="1285.3" cy="299.6" r="6.9"/><circle cx="1285.3" cy="413.1" r="6.9"/><circle cx="1302.59" cy="231.5" r="6.9"/><circle cx="1302.59" cy="276.9" r="6.9"/><circle cx="1302.59" cy="367.7" r="6.9"/><circle cx="1302.59" cy="413.1" r="6.9"/><circle cx="1319.88" cy="231.5" r="6.9"/><circle cx="1319.88" cy="254.2" r="6.9"/><circle cx="1319.88" cy="276.9" r="6.9"/><circle cx="1319.88" cy="390.4" r="6.9"/><circle cx="1337.16" cy="231.5" r="6.9"/><circle cx="1337.16" cy="254.2" r="6.9"/><circle cx="1337.16" cy="276.9" r="6.9"/><circle cx="1337.16" cy="345" r="6.9"/><circle cx="1354.45" cy="231.5" r="6.9"/><circle cx="1354.45" cy="254.2" r="6.9"/><circle cx="1354.45" cy="276.9" r="6.9"/><circle cx="1354.45" cy="322.3" r="6.9"/><circle cx="1371.73" cy="231.5" r="6.9"/><circle cx="1371.73" cy="254.2" r="6.9"/><circle cx="1371.73" cy="276.9" r="6.9"/><circle cx="1371.73" cy="367.7" r="6.9"/><circle cx="1389.02" cy="231.5" r="6.9"/><circle cx="1389.02" cy="254.2" r="6.9"/><circle cx="1389.02" cy="276.9" r="6.9"/><circle cx="1389.02" cy="458.5" r="6.9"/><circle cx="1406.31" cy="231.5" r="6.9"/><circle cx="1406.31" cy="254.2" r="6.9"/><circle cx="1406.31" cy="322.3" r="6.9"/><circle cx="1406.31" cy="345" r="6.9"/><circle cx="1423.59" cy="231.5" r="6.9"/><circle cx="1423.59" cy="254.2" r="6.9"/><circle cx="1423.59" cy="345" r="6.9"/><circle cx="1423.59" cy="367.7" r="6.9"/><circle cx="1440.88" cy="231.5" r="6.9"/><circle cx="1440.88" cy="254.2" r="6.9"/><circle cx="1440.88" cy="390.4" r="6.9"/><circle cx="1458.16" cy="231.5" r="6.9"/><circle cx="1458.16" cy="276.9" r="6.9"/><circle cx="1458.16" cy="322.3" r="6.9"/><circle cx="1475.45" cy="231.5" r="6.9"/><circle cx="1475.45" cy="322.3" r="6.9"/><circle cx="1475.45" cy="345" r="6.9"/><circle cx="1492.74" cy="231.5" r="6.9"/><circle cx="1492.74" cy="299.6" r="6.9"/><circle cx="1492.74" cy="458.5" r="6.9"/><circle cx="1510.02" cy="254.2" r="6.9"/><circle cx="1510.02" cy="345" r="6.9"/><circle cx="1510.02" cy="390.4" r="6.9"/><circle cx="1527.31" cy="254.2" r="6.9"/><circle cx="1527.31" cy="390.4" r="6.9"/><circle cx="1544.59" cy="254.2" r="6.9"/><circle cx="1544.59" cy="299.6" r="6.9"/><circle cx="1561.88" cy="254.2" r="6.9"/><circle cx="1561.88" cy="367.7" r="6.9"/><circle cx="1579.17" cy="322.3" r="6.9"/><circle cx="1579.17" cy="345" r="6.9"/><circle cx="1596.45" cy="345" r="6.9"/><circle cx="1613.74" cy="299.6" r="6.9"/></g>
<g fill="#000"><rect x="172.75" y="84.38" width="12.5" height="131.32"/><rect x="190.04" y="130.74" width="12.5" height="84.96"/><rect x="207.32" y="150.26" width="12.5" height="65.44"/><rect x="224.61" y="174.66" width="12.5" height="41.04"/><rect x="241.89" y="189.3" width="12.5" height="26.4"/><rect x="259.18" y="189.3" width="12.5" height="26.4"/><rect x="276.47" y="191.74" width="12.5" height="23.96"/><rect x="293.75" y="191.74" width="12.5" height="23.96"/><rect x="311.04" y="203.94" width="12.5" height="11.76"/><rect x="328.32" y="203.94" width="12.5" height="11.76"/><rect x="345.61" y="203.94" width="12.5" height="11.76"/><rect x="362.9" y="203.94" width="12.5" height="11.76"/><rect x="380.18" y="203.94" width="12.5" height="11.76"/><rect x="397.47" y="206.38" width="12.5" height="9.32"/><rect x="414.75" y="206.38" width="12.5" height="9.32"/><rect x="432.04" y="206.38" width="12.5" height="9.32"/><rect x="449.33" y="206.38" width="12.5" height="9.32"/><rect x="466.61" y="206.38" width="12.5" height="9.32"/><rect x="483.9" y="206.38" width="12.5" height="9.32"/><rect x="501.18" y="206.38" width="12.5" height="9.32"/><rect x="518.47" y="206.38" width="12.5" height="9.32"/><rect x="535.76" y="208.82" width="12.5" height="6.88"/><rect x="553.04" y="208.82" width="12.5" height="6.88"/><rect x="570.33" y="208.82" width="12.5" height="6.88"/><rect x="587.61" y="208.82" width="12.5" height="6.88"/><rect x="604.9" y="208.82" width="12.5" height="6.88"/><rect x="622.19" y="208.82" width="12.5" height="6.88"/><rect x="639.47" y="208.82" width="12.5" height="6.88"/><rect x="656.76" y="208.82" width="12.5" height="6.88"/><rect x="674.04" y="208.82" width="12.5" height="6.88"/><rect x="691.33" y="208.82" width="12.5" height="6.88"/><rect x="708.62" y="208.82" width="12.5" height="6.88"/><rect x="725.9" y="208.82" width="12.5" height="6.88"/><rect x="743.19" y="208.82" width="12.5" height="6.88"/><rect x="760.47" y="211.26" width="12.5" height="4.44"/><rect x="777.76" y="211.26" width="12.5" height="4.44"/><rect x="795.05" y="211.26" width="12.5" height="4.44"/><rect x="812.33" y="211.26" width="12.5" height="4.44"/><rect x="829.62" y="211.26" width="12.5" height="4.44"/><rect x="846.9" y="211.26" width="12.5" height="4.44"/><rect x="864.19" y="211.26" width="12.5" height="4.44"/><rect x="881.48" y="211.26" width="12.5" height="4.44"/><rect x="898.76" y="211.26" width="12.5" height="4.44"/><rect x="916.05" y="211.26" width="12.5" height="4.44"/><rect x="933.33" y="211.26" width="12.5" height="4.44"/><rect x="950.62" y="211.26" width="12.5" height="4.44"/><rect x="967.91" y="211.26" width="12.5" height="4.44"/><rect x="985.19" y="211.26" width="12.5" height="4.44"/><rect x="1002.48" y="211.26" width="12.5" height="4.44"/><rect x="1019.76" y="211.26" width="12.5" height="4.44"/><rect x="1037.05" y="211.26" width="12.5" height="4.44"/><rect x="1054.34" y="211.26" width="12.5" height="4.44"/><rect x="1071.62" y="211.26" width="12.5" height="4.44"/><rect x="1088.91" y="211.26" width="12.5" height="4.44"/><rect x="1106.19" y="211.26" width="12.5" height="4.44"/><rect x="1123.48" y="211.26" width="12.5" height="4.44"/><rect x="1140.77" y="211.26" width="12.5" height="4.44"/><rect x="1158.05" y="211.26" width="12.5" height="4.44"/><rect x="1175.34" y="211.26" width="12.5" height="4.44"/><rect x="1192.62" y="211.26" width="12.5" height="4.44"/><rect x="1209.91" y="211.26" width="12.5" height="4.44"/><rect x="1227.2" y="211.26" width="12.5" height="4.44"/><rect x="1244.48" y="211.26" width="12.5" height="4.44"/><rect x="1261.77" y="211.26" width="12.5" height="4.44"/><rect x="1279.05" y="211.26" width="12.5" height="4.44"/><rect x="1296.34" y="211.26" width="12.5" height="4.44"/><rect x="1313.63" y="211.26" width="12.5" height="4.44"/><rect x="1330.91" y="211.26" width="12.5" height="4.44"/><rect x="1348.2" y="211.26" width="12.5" height="4.44"/><rect x="1365.48" y="211.26" width="12.5" height="4.44"/><rect x="1382.77" y="211.26" width="12.5" height="4.44"/><rect x="1400.06" y="211.26" width="12.5" height="4.44"/><rect x="1417.34" y="211.26" width="12.5" height="4.44"/><rect x="1434.63" y="211.26" width="12.5" height="4.44"/><rect x="1451.91" y="211.26" width="12.5" height="4.44"/><rect x="1469.2" y="211.26" width="12.5" height="4.44"/><rect x="1486.49" y="211.26" width="12.5" height="4.44"/><rect x="1503.77" y="211.26" width="12.5" height="4.44"/><rect x="1521.06" y="211.26" width="12.5" height="4.44"/><rect x="1538.34" y="211.26" width="12.5" height="4.44"/><rect x="1555.63" y="211.26" width="12.5" height="4.44"/><rect x="1572.92" y="211.26" width="12.5" height="4.44"/><rect x="1590.2" y="211.26" width="12.5" height="4.44"/><rect x="1607.49" y="211.26" width="12.5" height="4.44"/></g>
<g font-size="15">
<text transform="translate(184 77.38) rotate(-45)">53</text>
<text transform="translate(201.29 123.74) rotate(-45)">34</text>
<text transform="translate(218.57 143.26) rotate(-45)">26</text>
<text transform="translate(235.86 167.66) rotate(-45)">16</text>
<text transform="translate(253.14 182.3) rotate(-45)">10</text>
<text transform="translate(270.43 182.3) rotate(-45)">10</text>
<text transform="translate(287.72 184.74) rotate(-45)">9</text>
<text transform="translate(305 184.74) rotate(-45)">9</text>
<text transform="translate(322.29 196.94) rotate(-45)">4</text>
<text transform="translate(339.57 196.94) rotate(-45)">4</text>
<text transform="translate(356.86 196.94) rotate(-45)">4</text>
<text transform="translate(374.15 196.94) rotate(-45)">4</text>
<text transform="translate(391.43 196.94) rotate(-45)">4</text>
<text transform="translate(408.72 199.38) rotate(-45)">3</text>
<text transform="translate(426 199.38) rotate(-45)">3</text>
<text transform="translate(443.29 199.38) rotate(-45)">3</text>
<text transform="translate(460.58 199.38) rotate(-45)">3</text>
<text transform="translate(477.86 199.38) rotate(-45)">3</text>
<text transform="translate(495.15 199.38) rotate(-45)">3</text>
<text transform="translate(512.43 199.38) rotate(-45)">3</text>
<text transform="translate(529.72 199.38) rotate(-45)">3</text>
<text transform="translate(547.01 201.82) rotate(-45)">2</text>
<text transform="translate(564.29 201.82) rotate(-45)">2</text>
<text transform="translate(581.58 201.82) rotate(-45)">2</text>
<text transform="translate(598.86 201.82) rotate(-45)">2</text>
<text transform="translate(616.15 201.82) rotate(-45)">2</text>
<text transform="translate(633.44 201.82) rotate(-45)">2</text>
<text transform="translate(650.72 201.82) rotate(-45)">2</text>
<text transform="translate(668.01 201.82) rotate(-45)">2</text>
<text transform="translate(685.29 201.82) rotate(-45)">2</text>
<text transform="translate(702.58 201.82) rotate(-45)">2</text>
<text transform="translate(719.87 201.82) rotate(-45)">2</text>
<text transform="translate(737.15 201.82) rotate(-45)">2</text>
<text transform="translate(754.44 201.82) rotate(-45)">2</text>
<text transform="translate(771.72 204.26) rotate(-45)">1</text>
<text transform="translate(789.01 204.26) rotate(-45)">1</text>
<text transform="translate(806.3 204.26) rotate(-45)">1</text>
<text transform="translate(823.58 204.26) rotate(-45)">1</text>
<text transform="translate(840.87 204.26) rotate(-45)">1</text>
<text transform="translate(858.15 204.26) rotate(-45)">1</text>
<text transform="translate(875.44 204.26) rotate(-45)">1</text>
<text transform="translate(892.73 204.26) rotate(-45)">1</text>
<text transform="translate(910.01 204.26) rotate(-45)">1</text>
<text transform="translate(927.3 204.26) rotate(-45)">1</text>
<text transform="translate(944.58 204.26) rotate(-45)">1</text>
<text transform="translate(961.87 204.26) rotate(-45)">1</text>
<text transform="translate(979.16 204.26) rotate(-45)">1</text>
<text transform="translate(996.44 204.26) rotate(-45)">1</text>
<text transform="translate(1013.73 204.26) rotate(-45)">1</text>
<text transform="translate(1031.01 204.26) rotate(-45)">1</text>
<text transform="translate(1048.3 204.26) rotate(-45)">1</text>
<text transform="translate(1065.59 204.26) rotate(-45)">1</text>
<text transform="translate(1082.87 204.26) rotate(-45)">1</text>
<text transform="translate(1100.16 204.26) rotate(-45)">1</text>
<text transform="translate(1117.44 204.26) rotate(-45)">1</text>
<text transform="translate(1134.73 204.26) rotate(-45)">1</text>
<text transform="translate(1152.02 204.26) rotate(-45)">1</text>
<text transform="translate(1169.3 204.26) rotate(-45)">1</text>
<text transform="translate(1186.59 204.26) rotate(-45)">1</text>
<text transform="translate(1203.87 204.26) rotate(-45)">1</text>
<text transform="translate(1221.16 204.26) rotate(-45)">1</text>
<text transform="translate(1238.45 204.26) rotate(-45)">1</text>
<text transform="translate(1255.73 204.26) rotate(-45)">1</text>
<text transform="translate(1273.02 204.26) rotate(-45)">1</text>
<text transform="translate(1290.3 204.26) rotate(-45)">1</text>
<text transform="translate(1307.59 204.26) rotate(-45)">1</text>
<text transform="translate(1324.88 204.26) rotate(-45)">1</text>
<text transform="translate(1342.16 204.26) rotate(-45)">1</text>
<text transform="translate(1359.45 204.26) rotate(-45)">1</text>
<text transform="translate(1376.73 204.26) rotate(-45)">1</text>
<text transform="translate(1394.02 204.26) rotate(-45)">1</text>
<text transform="translate(1411.31 204.26) rotate(-45)">1</text>
<text transform="translate(1428.59 204.26) rotate(-45)">1</text>
<text transform="translate(1445.88 204.26) rotate(-45)">1</text>
<text transform="translate(1463.16 204.26) rotate(-45)">1</text>
<text transform="translate(1480.45 204.26) rotate(-45)">1</text>
<text transform="translate(1497.74 204.26) rotate(-45)">1</text>
<text transform="translate(1515.02 204.26) rotate(-45)">1</text>
<text transform="translate(1532.31 204.26) rotate(-45)">1</text>
<text transform="translate(1549.59 204.26) rotate(-45)">1</text>
<text transform="translate(1566.88 204.26) rotate(-45)">1</text>
<text transform="translate(1584.17 204.26) rotate(-45)">1</text>
<text transform="translate(1601.45 204.26) rotate(-45)">1</text>
<text transform="translate(1618.74 204.26) rotate(-45)">1</text>
</g>
<line x1="170.6" y1="40.7" x2="170.6" y2="215.6" stroke="#000" stroke-width="2"/>
<line x1="163.6" y1="214.6" x2="170.6" y2="214.6" stroke="#000" stroke-width="2"/>
<text x="159.1" y="220" text-anchor="end" font-size="15.4">0</text>
<line x1="163.6" y1="165.8" x2="170.6" y2="165.8" stroke="#000" stroke-width="2"/>
<text x="159.1" y="171.2" text-anchor="end" font-size="15.4">20</text>
<line x1="163.6" y1="117" x2="170.6" y2="117" stroke="#000" stroke-width="2"/>
<text x="159.1" y="122.4" text-anchor="end" font-size="15.4">40</text>
<line x1="163.6" y1="68.2" x2="170.6" y2="68.2" stroke="#000" stroke-width="2"/>
<text x="159.1" y="73.6" text-anchor="end" font-size="15.4">60</text>
<text text-anchor="middle" transform="translate(100.8 144) rotate(-90)" font-size="24">Intersection</text>
<text text-anchor="middle" transform="translate(128 145) rotate(-90)" font-size="24">size</text>
<text x="162.3" y="240" text-anchor="end" font-size="23.3">CTX</text>
<text x="161.8" y="262.7" text-anchor="end" font-size="23.3">Heart</text>
<text x="164.5" y="285.4" text-anchor="end" font-size="23.3">BG</text>
<text x="161.8" y="308.1" text-anchor="end" font-size="23.3">THAL</text>
<text x="162.3" y="330.8" text-anchor="end" font-size="23.3">HIP</text>
<text x="162.3" y="353.5" text-anchor="end" font-size="23.3">AMG</text>
<text x="163.1" y="376.2" text-anchor="end" font-size="23.3">Liver</text>
<text x="160.7" y="398.9" text-anchor="end" font-size="23.3">Kidney</text>
<text x="165" y="421.6" text-anchor="end" font-size="23.3">CB</text>
<text x="161.8" y="444.3" text-anchor="end" font-size="23.3">SUB</text>
<text x="159.8" y="467" text-anchor="end" font-size="23.3">CLA</text>
<rect x="1627" y="224.2" width="73.99" height="15.4" fill="#000"/>
<text x="1710.99" y="237.8" font-size="16">231</text>
<rect x="1627" y="246.9" width="48.99" height="15.4" fill="#000"/>
<text x="1685.99" y="260.5" font-size="16">151</text>
<rect x="1627" y="269.6" width="48.67" height="15.4" fill="#000"/>
<text x="1685.67" y="283.2" font-size="16">150</text>
<rect x="1627" y="292.3" width="42.42" height="15.4" fill="#000"/>
<text x="1679.42" y="305.9" font-size="16">130</text>
<rect x="1627" y="315" width="35.24" height="15.4" fill="#000"/>
<text x="1672.24" y="328.6" font-size="16">107</text>
<rect x="1627" y="337.7" width="31.18" height="15.4" fill="#000"/>
<text x="1668.17" y="351.3" font-size="16">94</text>
<rect x="1627" y="360.4" width="30.55" height="15.4" fill="#000"/>
<text x="1667.55" y="374" font-size="16">92</text>
<rect x="1627" y="383.1" width="27.43" height="15.4" fill="#000"/>
<text x="1664.42" y="396.7" font-size="16">82</text>
<rect x="1627" y="405.8" width="23.05" height="15.4" fill="#000"/>
<text x="1660.05" y="419.4" font-size="16">68</text>
<rect x="1627" y="428.5" width="23.05" height="15.4" fill="#000"/>
<text x="1660.05" y="442.1" font-size="16">68</text>
<rect x="1627" y="451.2" width="20.55" height="15.4" fill="#000"/>
<text x="1657.55" y="464.8" font-size="16">60</text>
<line x1="1626.7" y1="470.2" x2="1744.2" y2="470.2" stroke="#000" stroke-width="2"/>
<line x1="1627.9" y1="470.2" x2="1627.9" y2="476.2" stroke="#000" stroke-width="2"/>
<text text-anchor="end" transform="translate(1633.5 482.7) rotate(-90)" font-size="15.6">0</text>
<line x1="1658.9" y1="470.2" x2="1658.9" y2="476.2" stroke="#000" stroke-width="2"/>
<text text-anchor="end" transform="translate(1664.5 482.7) rotate(-90)" font-size="15.6">100</text>
<line x1="1689.9" y1="470.2" x2="1689.9" y2="476.2" stroke="#000" stroke-width="2"/>
<text text-anchor="end" transform="translate(1695.5 482.7) rotate(-90)" font-size="15.6">200</text>
<line x1="1720.9" y1="470.2" x2="1720.9" y2="476.2" stroke="#000" stroke-width="2"/>
<text text-anchor="end" transform="translate(1726.5 482.7) rotate(-90)" font-size="15.6">300</text>
<text x="1685.5" y="531.9" text-anchor="middle" font-size="24.3">Set size</text>
<text x="939" y="39.8" text-anchor="middle" font-weight="bold" fill="#231f20" font-size="53">ID01</text>
<text x="10.6" y="40.2" font-weight="bold" font-size="51.5">a</text>
</g>
<g>
<rect x="169.86" y="761.67" width="1455.64" height="20.96" fill="#efefef"/>
<rect x="169.86" y="803.58" width="1455.64" height="20.96" fill="#efefef"/>
<rect x="169.86" y="845.5" width="1455.64" height="20.96" fill="#efefef"/>
<rect x="169.86" y="887.41" width="1455.64" height="20.96" fill="#efefef"/>
<rect x="169.86" y="929.32" width="1455.64" height="20.96" fill="#efefef"/>
<rect x="169.86" y="971.24" width="1455.64" height="20.96" fill="#efefef"/>
<g fill="#cbcbcb"><circle cx="177.47" cy="751.19" r="6.6"/><circle cx="177.47" cy="772.15" r="6.6"/><circle cx="177.47" cy="814.06" r="6.6"/><circle cx="177.47" cy="835.02" r="6.6"/><circle cx="177.47" cy="855.98" r="6.6"/><circle cx="177.47" cy="876.93" r="6.6"/><circle cx="177.47" cy="897.89" r="6.6"/><circle cx="177.47" cy="918.85" r="6.6"/><circle cx="177.47" cy="939.8" r="6.6"/><circle cx="177.47" cy="960.76" r="6.6"/><circle cx="177.47" cy="981.72" r="6.6"/><circle cx="192.48" cy="772.15" r="6.6"/><circle cx="192.48" cy="793.1" r="6.6"/><circle cx="192.48" cy="814.06" r="6.6"/><circle cx="192.48" cy="835.02" r="6.6"/><circle cx="192.48" cy="855.98" r="6.6"/><circle cx="192.48" cy="876.93" r="6.6"/><circle cx="192.48" cy="897.89" r="6.6"/><circle cx="192.48" cy="918.85" r="6.6"/><circle cx="192.48" cy="939.8" r="6.6"/><circle cx="192.48" cy="960.76" r="6.6"/><circle cx="192.48" cy="981.72" r="6.6"/><circle cx="207.48" cy="751.19" r="6.6"/><circle cx="207.48" cy="793.1" r="6.6"/><circle cx="207.48" cy="814.06" r="6.6"/><circle cx="207.48" cy="835.02" r="6.6"/><circle cx="207.48" cy="855.98" r="6.6"/><circle cx="207.48" cy="876.93" r="6.6"/><circle cx="207.48" cy="897.89" r="6.6"/><circle cx="207.48" cy="918.85" r="6.6"/><circle cx="207.48" cy="939.8" r="6.6"/><circle cx="207.48" cy="960.76" r="6.6"/><circle cx="207.48" cy="981.72" r="6.6"/><circle cx="237.5" cy="751.19" r="6.6"/><circle cx="237.5" cy="772.15" r="6.6"/><circle cx="237.5" cy="793.1" r="6.6"/><circle cx="237.5" cy="814.06" r="6.6"/><circle cx="237.5" cy="835.02" r="6.6"/><circle cx="237.5" cy="855.98" r="6.6"/><circle cx="237.5" cy="897.89" r="6.6"/><circle cx="237.5" cy="918.85" r="6.6"/><circle cx="237.5" cy="939.8" r="6.6"/><circle cx="237.5" cy="960.76" r="6.6"/><circle cx="237.5" cy="981.72" r="6.6"/><circle cx="252.5" cy="751.19" r="6.6"/><circle cx="252.5" cy="772.15" r="6.6"/><circle cx="252.5" cy="793.1" r="6.6"/><circle cx="252.5" cy="814.06" r="6.6"/><circle cx="252.5" cy="835.02" r="6.6"/><circle cx="252.5" cy="876.93" r="6.6"/><circle cx="252.5" cy="897.89" r="6.6"/><circle cx="252.5" cy="918.85" r="6.6"/><circle cx="252.5" cy="939.8" r="6.6"/><circle cx="252.5" cy="960.76" r="6.6"/><circle cx="252.5" cy="981.72" r="6.6"/><circle cx="267.51" cy="751.19" r="6.6"/><circle cx="267.51" cy="772.15" r="6.6"/><circle cx="267.51" cy="793.1" r="6.6"/><circle cx="267.51" cy="814.06" r="6.6"/><circle cx="267.51" cy="835.02" r="6.6"/><circle cx="267.51" cy="855.98" r="6.6"/><circle cx="267.51" cy="876.93" r="6.6"/><circle cx="267.51" cy="897.89" r="6.6"/><circle cx="267.51" cy="918.85" r="6.6"/><circle cx="267.51" cy="960.76" r="6.6"/><circle cx="267.51" cy="981.72" r="6.6"/><circle cx="282.52" cy="751.19" r="6.6"/><circle cx="282.52" cy="772.15" r="6.6"/><circle cx="282.52" cy="793.1" r="6.6"/><circle cx="282.52" cy="814.06" r="6.6"/><circle cx="282.52" cy="855.98" r="6.6"/><circle cx="282.52" cy="876.93" r="6.6"/><circle cx="282.52" cy="897.89" r="6.6"/><circle cx="282.52" cy="918.85" r="6.6"/><circle cx="282.52" cy="939.8" r="6.6"/><circle cx="282.52" cy="960.76" r="6.6"/><circle cx="282.52" cy="981.72" r="6.6"/><circle cx="297.53" cy="751.19" r="6.6"/><circle cx="297.53" cy="772.15" r="6.6"/><circle cx="297.53" cy="793.1" r="6.6"/><circle cx="297.53" cy="835.02" r="6.6"/><circle cx="297.53" cy="855.98" r="6.6"/><circle cx="297.53" cy="876.93" r="6.6"/><circle cx="297.53" cy="897.89" r="6.6"/><circle cx="297.53" cy="918.85" r="6.6"/><circle cx="297.53" cy="939.8" r="6.6"/><circle cx="297.53" cy="960.76" r="6.6"/><circle cx="297.53" cy="981.72" r="6.6"/><circle cx="312.53" cy="751.19" r="6.6"/><circle cx="312.53" cy="772.15" r="6.6"/><circle cx="312.53" cy="793.1" r="6.6"/><circle cx="312.53" cy="814.06" r="6.6"/><circle cx="312.53" cy="835.02" r="6.6"/><circle cx="312.53" cy="855.98" r="6.6"/><circle cx="312.53" cy="876.93" r="6.6"/><circle cx="312.53" cy="897.89" r="6.6"/><circle cx="312.53" cy="939.8" r="6.6"/><circle cx="312.53" cy="960.76" r="6.6"/><circle cx="312.53" cy="981.72" r="6.6"/><circle cx="327.54" cy="751.19" r="6.6"/><circle cx="327.54" cy="772.15" r="6.6"/><circle cx="327.54" cy="793.1" r="6.6"/><circle cx="327.54" cy="855.98" r="6.6"/><circle cx="327.54" cy="876.93" r="6.6"/><circle cx="327.54" cy="897.89" r="6.6"/><circle cx="327.54" cy="918.85" r="6.6"/><circle cx="327.54" cy="939.8" r="6.6"/><circle cx="327.54" cy="960.76" r="6.6"/><circle cx="327.54" cy="981.72" r="6.6"/><circle cx="342.55" cy="751.19" r="6.6"/><circle cx="342.55" cy="793.1" r="6.6"/><circle cx="342.55" cy="835.02" r="6.6"/><circle cx="342.55" cy="855.98" r="6.6"/><circle cx="342.55" cy="876.93" r="6.6"/><circle cx="342.55" cy="897.89" r="6.6"/><circle cx="342.55" cy="918.85" r="6.6"/><circle cx="342.55" cy="939.8" r="6.6"/><circle cx="342.55" cy="960.76" r="6.6"/><circle cx="342.55" cy="981.72" r="6.6"/><circle cx="357.55" cy="772.15" r="6.6"/><circle cx="357.55" cy="793.1" r="6.6"/><circle cx="357.55" cy="835.02" r="6.6"/><circle cx="357.55" cy="855.98" r="6.6"/><circle cx="357.55" cy="876.93" r="6.6"/><circle cx="357.55" cy="897.89" r="6.6"/><circle cx="357.55" cy="918.85" r="6.6"/><circle cx="357.55" cy="939.8" r="6.6"/><circle cx="357.55" cy="960.76" r="6.6"/><circle cx="357.55" cy="981.72" r="6.6"/><circle cx="372.56" cy="751.19" r="6.6"/><circle cx="372.56" cy="772.15" r="6.6"/><circle cx="372.56" cy="793.1" r="6.6"/><circle cx="372.56" cy="876.93" r="6.6"/><circle cx="372.56" cy="897.89" r="6.6"/><circle cx="372.56" cy="918.85" r="6.6"/><circle cx="372.56" cy="939.8" r="6.6"/><circle cx="372.56" cy="960.76" r="6.6"/><circle cx="372.56" cy="981.72" r="6.6"/><circle cx="387.57" cy="939.8" r="6.6"/><circle cx="402.57" cy="876.93" r="6.6"/><circle cx="402.57" cy="981.72" r="6.6"/><circle cx="417.58" cy="793.1" r="6.6"/><circle cx="417.58" cy="876.93" r="6.6"/><circle cx="417.58" cy="939.8" r="6.6"/><circle cx="417.58" cy="960.76" r="6.6"/><circle cx="432.59" cy="772.15" r="6.6"/><circle cx="432.59" cy="793.1" r="6.6"/><circle cx="432.59" cy="918.85" r="6.6"/><circle cx="432.59" cy="939.8" r="6.6"/><circle cx="432.59" cy="960.76" r="6.6"/><circle cx="432.59" cy="981.72" r="6.6"/><circle cx="447.6" cy="772.15" r="6.6"/><circle cx="447.6" cy="793.1" r="6.6"/><circle cx="447.6" cy="876.93" r="6.6"/><circle cx="447.6" cy="918.85" r="6.6"/><circle cx="447.6" cy="939.8" r="6.6"/><circle cx="447.6" cy="960.76" r="6.6"/><circle cx="447.6" cy="981.72" r="6.6"/><circle cx="462.6" cy="793.1" r="6.6"/><circle cx="462.6" cy="918.85" r="6.6"/><circle cx="462.6" cy="939.8" r="6.6"/><circle cx="462.6" cy="960.76" r="6.6"/><circle cx="477.61" cy="793.1" r="6.6"/><circle cx="477.61" cy="876.93" r="6.6"/><circle cx="477.61" cy="918.85" r="6.6"/><circle cx="477.61" cy="939.8" r="6.6"/><circle cx="477.61" cy="960.76" r="6.6"/><circle cx="492.62" cy="793.1" r="6.6"/><circle cx="492.62" cy="855.98" r="6.6"/><circle cx="492.62" cy="876.93" r="6.6"/><circle cx="492.62" cy="918.85" r="6.6"/><circle cx="492.62" cy="939.8" r="6.6"/><circle cx="492.62" cy="960.76" r="6.6"/><circle cx="492.62" cy="981.72" r="6.6"/><circle cx="507.62" cy="751.19" r="6.6"/><circle cx="507.62" cy="772.15" r="6.6"/><circle cx="507.62" cy="793.1" r="6.6"/><circle cx="507.62" cy="897.89" r="6.6"/><circle cx="507.62" cy="918.85" r="6.6"/><circle cx="507.62" cy="939.8" r="6.6"/><circle cx="507.62" cy="960.76" r="6.6"/><circle cx="507.62" cy="981.72" r="6.6"/><circle cx="522.63" cy="876.93" r="6.6"/><circle cx="537.64" cy="939.8" r="6.6"/><circle cx="537.64" cy="981.72" r="6.6"/><circle cx="552.64" cy="793.1" r="6.6"/><circle cx="552.64" cy="876.93" r="6.6"/><circle cx="552.64" cy="939.8" r="6.6"/><circle cx="567.65" cy="793.1" r="6.6"/><circle cx="567.65" cy="939.8" r="6.6"/><circle cx="567.65" cy="960.76" r="6.6"/><circle cx="582.66" cy="772.15" r="6.6"/><circle cx="582.66" cy="793.1" r="6.6"/><circle cx="582.66" cy="918.85" r="6.6"/><circle cx="582.66" cy="939.8" r="6.6"/><circle cx="582.66" cy="981.72" r="6.6"/><circle cx="597.67" cy="793.1" r="6.6"/><circle cx="597.67" cy="876.93" r="6.6"/><circle cx="597.67" cy="918.85" r="6.6"/><circle cx="597.67" cy="939.8" r="6.6"/><circle cx="597.67" cy="960.76" r="6.6"/><circle cx="597.67" cy="981.72" r="6.6"/><circle cx="612.67" cy="772.15" r="6.6"/><circle cx="612.67" cy="793.1" r="6.6"/><circle cx="612.67" cy="897.89" r="6.6"/><circle cx="612.67" cy="918.85" r="6.6"/><circle cx="612.67" cy="939.8" r="6.6"/><circle cx="612.67" cy="960.76" r="6.6"/><circle cx="612.67" cy="981.72" r="6.6"/><circle cx="627.68" cy="751.19" r="6.6"/><circle cx="627.68" cy="772.15" r="6.6"/><circle cx="627.68" cy="793.1" r="6.6"/><circle cx="627.68" cy="918.85" r="6.6"/><circle cx="627.68" cy="939.8" r="6.6"/><circle cx="627.68" cy="960.76" r="6.6"/><circle cx="627.68" cy="981.72" r="6.6"/><circle cx="642.69" cy="772.15" r="6.6"/><circle cx="642.69" cy="793.1" r="6.6"/><circle cx="642.69" cy="855.98" r="6.6"/><circle cx="642.69" cy="876.93" r="6.6"/><circle cx="642.69" cy="897.89" r="6.6"/><circle cx="642.69" cy="918.85" r="6.6"/><circle cx="642.69" cy="939.8" r="6.6"/><circle cx="642.69" cy="960.76" r="6.6"/><circle cx="642.69" cy="981.72" r="6.6"/><circle cx="657.69" cy="751.19" r="6.6"/><circle cx="657.69" cy="793.1" r="6.6"/><circle cx="657.69" cy="814.06" r="6.6"/><circle cx="657.69" cy="835.02" r="6.6"/><circle cx="657.69" cy="855.98" r="6.6"/><circle cx="657.69" cy="876.93" r="6.6"/><circle cx="657.69" cy="897.89" r="6.6"/><circle cx="657.69" cy="939.8" r="6.6"/><circle cx="657.69" cy="960.76" r="6.6"/><circle cx="657.69" cy="981.72" r="6.6"/><circle cx="672.7" cy="751.19" r="6.6"/><circle cx="672.7" cy="772.15" r="6.6"/><circle cx="672.7" cy="793.1" r="6.6"/><circle cx="672.7" cy="814.06" r="6.6"/><circle cx="672.7" cy="835.02" r="6.6"/><circle cx="672.7" cy="855.98" r="6.6"/><circle cx="672.7" cy="876.93" r="6.6"/><circle cx="672.7" cy="897.89" r="6.6"/><circle cx="672.7" cy="918.85" r="6.6"/><circle cx="672.7" cy="981.72" r="6.6"/><circle cx="687.71" cy="751.19" r="6.6"/><circle cx="687.71" cy="772.15" r="6.6"/><circle cx="687.71" cy="793.1" r="6.6"/><circle cx="687.71" cy="814.06" r="6.6"/><circle cx="687.71" cy="835.02" r="6.6"/><circle cx="687.71" cy="855.98" r="6.6"/><circle cx="687.71" cy="876.93" r="6.6"/><circle cx="687.71" cy="897.89" r="6.6"/><circle cx="687.71" cy="939.8" r="6.6"/><circle cx="687.71" cy="981.72" r="6.6"/><circle cx="702.72" cy="793.1" r="6.6"/><circle cx="717.72" cy="960.76" r="6.6"/><circle cx="732.73" cy="855.98" r="6.6"/><circle cx="732.73" cy="981.72" r="6.6"/><circle cx="747.74" cy="835.02" r="6.6"/><circle cx="747.74" cy="855.98" r="6.6"/><circle cx="762.74" cy="918.85" r="6.6"/><circle cx="762.74" cy="981.72" r="6.6"/><circle cx="777.75" cy="793.1" r="6.6"/><circle cx="777.75" cy="939.8" r="6.6"/><circle cx="792.76" cy="876.93" r="6.6"/><circle cx="792.76" cy="897.89" r="6.6"/><circle cx="807.76" cy="939.8" r="6.6"/><circle cx="807.76" cy="960.76" r="6.6"/><circle cx="822.77" cy="793.1" r="6.6"/><circle cx="822.77" cy="939.8" r="6.6"/><circle cx="822.77" cy="981.72" r="6.6"/><circle cx="837.78" cy="793.1" r="6.6"/><circle cx="837.78" cy="918.85" r="6.6"/><circle cx="837.78" cy="939.8" r="6.6"/><circle cx="852.78" cy="793.1" r="6.6"/><circle cx="852.78" cy="876.93" r="6.6"/><circle cx="852.78" cy="918.85" r="6.6"/><circle cx="867.79" cy="876.93" r="6.6"/><circle cx="867.79" cy="918.85" r="6.6"/><circle cx="867.79" cy="939.8" r="6.6"/><circle cx="882.8" cy="918.85" r="6.6"/><circle cx="882.8" cy="939.8" r="6.6"/><circle cx="882.8" cy="960.76" r="6.6"/><circle cx="897.81" cy="876.93" r="6.6"/><circle cx="897.81" cy="939.8" r="6.6"/><circle cx="897.81" cy="960.76" r="6.6"/><circle cx="912.81" cy="772.15" r="6.6"/><circle cx="912.81" cy="876.93" r="6.6"/><circle cx="912.81" cy="981.72" r="6.6"/><circle cx="927.82" cy="855.98" r="6.6"/><circle cx="927.82" cy="897.89" r="6.6"/><circle cx="927.82" cy="939.8" r="6.6"/><circle cx="927.82" cy="981.72" r="6.6"/><circle cx="942.83" cy="793.1" r="6.6"/><circle cx="942.83" cy="918.85" r="6.6"/><circle cx="942.83" cy="939.8" r="6.6"/><circle cx="942.83" cy="981.72" r="6.6"/><circle cx="957.83" cy="793.1" r="6.6"/><circle cx="957.83" cy="876.93" r="6.6"/><circle cx="957.83" cy="918.85" r="6.6"/><circle cx="957.83" cy="939.8" r="6.6"/><circle cx="972.84" cy="793.1" r="6.6"/><circle cx="972.84" cy="918.85" r="6.6"/><circle cx="972.84" cy="960.76" r="6.6"/><circle cx="972.84" cy="981.72" r="6.6"/><circle cx="987.85" cy="751.19" r="6.6"/><circle cx="987.85" cy="772.15" r="6.6"/><circle cx="987.85" cy="939.8" r="6.6"/><circle cx="987.85" cy="981.72" r="6.6"/><circle cx="1002.86" cy="772.15" r="6.6"/><circle cx="1002.86" cy="939.8" r="6.6"/><circle cx="1002.86" cy="960.76" r="6.6"/><circle cx="1002.86" cy="981.72" r="6.6"/><circle cx="1017.86" cy="793.1" r="6.6"/><circle cx="1017.86" cy="855.98" r="6.6"/><circle cx="1017.86" cy="918.85" r="6.6"/><circle cx="1017.86" cy="939.8" r="6.6"/><circle cx="1017.86" cy="981.72" r="6.6"/><circle cx="1032.87" cy="793.1" r="6.6"/><circle cx="1032.87" cy="876.93" r="6.6"/><circle cx="1032.87" cy="918.85" r="6.6"/><circle cx="1032.87" cy="939.8" r="6.6"/><circle cx="1032.87" cy="981.72" r="6.6"/><circle cx="1047.88" cy="855.98" r="6.6"/><circle cx="1047.88" cy="918.85" r="6.6"/><circle cx="1047.88" cy="939.8" r="6.6"/><circle cx="1047.88" cy="960.76" r="6.6"/><circle cx="1047.88" cy="981.72" r="6.6"/><circle cx="1062.88" cy="793.1" r="6.6"/><circle cx="1062.88" cy="876.93" r="6.6"/><circle cx="1062.88" cy="939.8" r="6.6"/><circle cx="1062.88" cy="960.76" r="6.6"/><circle cx="1062.88" cy="981.72" r="6.6"/><circle cx="1077.89" cy="772.15" r="6.6"/><circle cx="1077.89" cy="793.1" r="6.6"/><circle cx="1077.89" cy="876.93" r="6.6"/><circle cx="1077.89" cy="918.85" r="6.6"/><circle cx="1077.89" cy="939.8" r="6.6"/><circle cx="1092.9" cy="772.15" r="6.6"/><circle cx="1092.9" cy="793.1" r="6.6"/><circle cx="1092.9" cy="876.93" r="6.6"/><circle cx="1092.9" cy="939.8" r="6.6"/><circle cx="1092.9" cy="960.76" r="6.6"/><circle cx="1107.9" cy="876.93" r="6.6"/><circle cx="1107.9" cy="897.89" r="6.6"/><circle cx="1107.9" cy="918.85" r="6.6"/><circle cx="1107.9" cy="939.8" r="6.6"/><circle cx="1107.9" cy="960.76" r="6.6"/><circle cx="1107.9" cy="981.72" r="6.6"/><circle cx="1122.91" cy="772.15" r="6.6"/><circle cx="1122.91" cy="876.93" r="6.6"/><circle cx="1122.91" cy="897.89" r="6.6"/><circle cx="1122.91" cy="939.8" r="6.6"/><circle cx="1122.91" cy="960.76" r="6.6"/><circle cx="1122.91" cy="981.72" r="6.6"/><circle cx="1137.92" cy="772.15" r="6.6"/><circle cx="1137.92" cy="793.1" r="6.6"/><circle cx="1137.92" cy="876.93" r="6.6"/><circle cx="1137.92" cy="939.8" r="6.6"/><circle cx="1137.92" cy="960.76" r="6.6"/><circle cx="1137.92" cy="981.72" r="6.6"/><circle cx="1152.92" cy="772.15" r="6.6"/><circle cx="1152.92" cy="793.1" r="6.6"/><circle cx="1152.92" cy="855.98" r="6.6"/><circle cx="1152.92" cy="876.93" r="6.6"/><circle cx="1152.92" cy="939.8" r="6.6"/><circle cx="1152.92" cy="960.76" r="6.6"/><circle cx="1167.93" cy="751.19" r="6.6"/><circle cx="1167.93" cy="855.98" r="6.6"/><circle cx="1167.93" cy="876.93" r="6.6"/><circle cx="1167.93" cy="897.89" r="6.6"/><circle cx="1167.93" cy="939.8" r="6.6"/><circle cx="1167.93" cy="960.76" r="6.6"/><circle cx="1167.93" cy="981.72" r="6.6"/><circle cx="1182.94" cy="793.1" r="6.6"/><circle cx="1182.94" cy="876.93" r="6.6"/><circle cx="1182.94" cy="897.89" r="6.6"/><circle cx="1182.94" cy="918.85" r="6.6"/><circle cx="1182.94" cy="939.8" r="6.6"/><circle cx="1182.94" cy="960.76" r="6.6"/><circle cx="1182.94" cy="981.72" r="6.6"/><circle cx="1197.95" cy="751.19" r="6.6"/><circle cx="1197.95" cy="876.93" r="6.6"/><circle cx="1197.95" cy="897.89" r="6.6"/><circle cx="1197.95" cy="918.85" r="6.6"/><circle cx="1197.95" cy="939.8" r="6.6"/><circle cx="1197.95" cy="960.76" r="6.6"/><circle cx="1197.95" cy="981.72" r="6.6"/><circle cx="1212.95" cy="751.19" r="6.6"/><circle cx="1212.95" cy="772.15" r="6.6"/><circle cx="1212.95" cy="793.1" r="6.6"/><circle cx="1212.95" cy="876.93" r="6.6"/><circle cx="1212.95" cy="897.89" r="6.6"/><circle cx="1212.95" cy="939.8" r="6.6"/><circle cx="1212.95" cy="981.72" r="6.6"/><circle cx="1227.96" cy="772.15" r="6.6"/><circle cx="1227.96" cy="793.1" r="6.6"/><circle cx="1227.96" cy="835.02" r="6.6"/><circle cx="1227.96" cy="855.98" r="6.6"/><circle cx="1227.96" cy="918.85" r="6.6"/><circle cx="1227.96" cy="960.76" r="6.6"/><circle cx="1227.96" cy="981.72" r="6.6"/><circle cx="1242.97" cy="772.15" r="6.6"/><circle cx="1242.97" cy="793.1" r="6.6"/><circle cx="1242.97" cy="855.98" r="6.6"/><circle cx="1242.97" cy="918.85" r="6.6"/><circle cx="1242.97" cy="939.8" r="6.6"/><circle cx="1242.97" cy="960.76" r="6.6"/><circle cx="1242.97" cy="981.72" r="6.6"/><circle cx="1257.97" cy="751.19" r="6.6"/><circle cx="1257.97" cy="772.15" r="6.6"/><circle cx="1257.97" cy="793.1" r="6.6"/><circle cx="1257.97" cy="876.93" r="6.6"/><circle cx="1257.97" cy="939.8" r="6.6"/><circle cx="1257.97" cy="960.76" r="6.6"/><circle cx="1257.97" cy="981.72" r="6.6"/><circle cx="1272.98" cy="772.15" r="6.6"/><circle cx="1272.98" cy="793.1" r="6.6"/><circle cx="1272.98" cy="876.93" r="6.6"/><circle cx="1272.98" cy="897.89" r="6.6"/><circle cx="1272.98" cy="918.85" r="6.6"/><circle cx="1272.98" cy="939.8" r="6.6"/><circle cx="1272.98" cy="960.76" r="6.6"/><circle cx="1287.99" cy="751.19" r="6.6"/><circle cx="1287.99" cy="793.1" r="6.6"/><circle cx="1287.99" cy="835.02" r="6.6"/><circle cx="1287.99" cy="855.98" r="6.6"/><circle cx="1287.99" cy="876.93" r="6.6"/><circle cx="1287.99" cy="897.89" r="6.6"/><circle cx="1287.99" cy="939.8" r="6.6"/><circle cx="1287.99" cy="981.72" r="6.6"/><circle cx="1302.99" cy="751.19" r="6.6"/><circle cx="1302.99" cy="835.02" r="6.6"/><circle cx="1302.99" cy="876.93" r="6.6"/><circle cx="1302.99" cy="897.89" r="6.6"/><circle cx="1302.99" cy="918.85" r="6.6"/><circle cx="1302.99" cy="939.8" r="6.6"/><circle cx="1302.99" cy="960.76" r="6.6"/><circle cx="1302.99" cy="981.72" r="6.6"/><circle cx="1318" cy="751.19" r="6.6"/><circle cx="1318" cy="772.15" r="6.6"/><circle cx="1318" cy="814.06" r="6.6"/><circle cx="1318" cy="835.02" r="6.6"/><circle cx="1318" cy="855.98" r="6.6"/><circle cx="1318" cy="876.93" r="6.6"/><circle cx="1318" cy="897.89" r="6.6"/><circle cx="1318" cy="981.72" r="6.6"/><circle cx="1333.01" cy="772.15" r="6.6"/><circle cx="1333.01" cy="793.1" r="6.6"/><circle cx="1333.01" cy="835.02" r="6.6"/><circle cx="1333.01" cy="855.98" r="6.6"/><circle cx="1333.01" cy="876.93" r="6.6"/><circle cx="1333.01" cy="918.85" r="6.6"/><circle cx="1333.01" cy="960.76" r="6.6"/><circle cx="1333.01" cy="981.72" r="6.6"/><circle cx="1348.02" cy="751.19" r="6.6"/><circle cx="1348.02" cy="772.15" r="6.6"/><circle cx="1348.02" cy="855.98" r="6.6"/><circle cx="1348.02" cy="876.93" r="6.6"/><circle cx="1348.02" cy="897.89" r="6.6"/><circle cx="1348.02" cy="939.8" r="6.6"/><circle cx="1348.02" cy="960.76" r="6.6"/><circle cx="1348.02" cy="981.72" r="6.6"/><circle cx="1363.02" cy="772.15" r="6.6"/><circle cx="1363.02" cy="793.1" r="6.6"/><circle cx="1363.02" cy="835.02" r="6.6"/><circle cx="1363.02" cy="855.98" r="6.6"/><circle cx="1363.02" cy="876.93" r="6.6"/><circle cx="1363.02" cy="939.8" r="6.6"/><circle cx="1363.02" cy="960.76" r="6.6"/><circle cx="1363.02" cy="981.72" r="6.6"/><circle cx="1378.03" cy="772.15" r="6.6"/><circle cx="1378.03" cy="793.1" r="6.6"/><circle cx="1378.03" cy="876.93" r="6.6"/><circle cx="1378.03" cy="897.89" r="6.6"/><circle cx="1378.03" cy="918.85" r="6.6"/><circle cx="1378.03" cy="939.8" r="6.6"/><circle cx="1378.03" cy="960.76" r="6.6"/><circle cx="1378.03" cy="981.72" r="6.6"/><circle cx="1393.04" cy="751.19" r="6.6"/><circle cx="1393.04" cy="772.15" r="6.6"/><circle cx="1393.04" cy="793.1" r="6.6"/><circle cx="1393.04" cy="876.93" r="6.6"/><circle cx="1393.04" cy="897.89" r="6.6"/><circle cx="1393.04" cy="918.85" r="6.6"/><circle cx="1393.04" cy="939.8" r="6.6"/><circle cx="1393.04" cy="960.76" r="6.6"/><circle cx="1408.04" cy="751.19" r="6.6"/><circle cx="1408.04" cy="772.15" r="6.6"/><circle cx="1408.04" cy="793.1" r="6.6"/><circle cx="1408.04" cy="876.93" r="6.6"/><circle cx="1408.04" cy="918.85" r="6.6"/><circle cx="1408.04" cy="939.8" r="6.6"/><circle cx="1408.04" cy="960.76" r="6.6"/><circle cx="1408.04" cy="981.72" r="6.6"/><circle cx="1423.05" cy="751.19" r="6.6"/><circle cx="1423.05" cy="793.1" r="6.6"/><circle cx="1423.05" cy="814.06" r="6.6"/><circle cx="1423.05" cy="835.02" r="6.6"/><circle cx="1423.05" cy="855.98" r="6.6"/><circle cx="1423.05" cy="876.93" r="6.6"/><circle cx="1423.05" cy="897.89" r="6.6"/><circle cx="1423.05" cy="939.8" r="6.6"/><circle cx="1423.05" cy="981.72" r="6.6"/><circle cx="1438.06" cy="751.19" r="6.6"/><circle cx="1438.06" cy="814.06" r="6.6"/><circle cx="1438.06" cy="835.02" r="6.6"/><circle cx="1438.06" cy="855.98" r="6.6"/><circle cx="1438.06" cy="876.93" r="6.6"/><circle cx="1438.06" cy="897.89" r="6.6"/><circle cx="1438.06" cy="918.85" r="6.6"/><circle cx="1438.06" cy="939.8" r="6.6"/><circle cx="1438.06" cy="981.72" r="6.6"/><circle cx="1453.07" cy="751.19" r="6.6"/><circle cx="1453.07" cy="793.1" r="6.6"/><circle cx="1453.07" cy="835.02" r="6.6"/><circle cx="1453.07" cy="855.98" r="6.6"/><circle cx="1453.07" cy="876.93" r="6.6"/><circle cx="1453.07" cy="897.89" r="6.6"/><circle cx="1453.07" cy="939.8" r="6.6"/><circle cx="1453.07" cy="960.76" r="6.6"/><circle cx="1453.07" cy="981.72" r="6.6"/><circle cx="1468.07" cy="751.19" r="6.6"/><circle cx="1468.07" cy="793.1" r="6.6"/><circle cx="1468.07" cy="835.02" r="6.6"/><circle cx="1468.07" cy="876.93" r="6.6"/><circle cx="1468.07" cy="897.89" r="6.6"/><circle cx="1468.07" cy="918.85" r="6.6"/><circle cx="1468.07" cy="939.8" r="6.6"/><circle cx="1468.07" cy="960.76" r="6.6"/><circle cx="1468.07" cy="981.72" r="6.6"/><circle cx="1483.08" cy="751.19" r="6.6"/><circle cx="1483.08" cy="793.1" r="6.6"/><circle cx="1483.08" cy="855.98" r="6.6"/><circle cx="1483.08" cy="876.93" r="6.6"/><circle cx="1483.08" cy="897.89" r="6.6"/><circle cx="1483.08" cy="918.85" r="6.6"/><circle cx="1483.08" cy="939.8" r="6.6"/><circle cx="1483.08" cy="960.76" r="6.6"/><circle cx="1483.08" cy="981.72" r="6.6"/><circle cx="1498.09" cy="793.1" r="6.6"/><circle cx="1498.09" cy="835.02" r="6.6"/><circle cx="1498.09" cy="855.98" r="6.6"/><circle cx="1498.09" cy="876.93" r="6.6"/><circle cx="1498.09" cy="897.89" r="6.6"/><circle cx="1498.09" cy="918.85" r="6.6"/><circle cx="1498.09" cy="939.8" r="6.6"/><circle cx="1498.09" cy="960.76" r="6.6"/><circle cx="1498.09" cy="981.72" r="6.6"/><circle cx="1513.09" cy="751.19" r="6.6"/><circle cx="1513.09" cy="793.1" r="6.6"/><circle cx="1513.09" cy="835.02" r="6.6"/><circle cx="1513.09" cy="855.98" r="6.6"/><circle cx="1513.09" cy="876.93" r="6.6"/><circle cx="1513.09" cy="897.89" r="6.6"/><circle cx="1513.09" cy="918.85" r="6.6"/><circle cx="1513.09" cy="939.8" r="6.6"/><circle cx="1513.09" cy="960.76" r="6.6"/><circle cx="1528.1" cy="751.19" r="6.6"/><circle cx="1528.1" cy="772.15" r="6.6"/><circle cx="1528.1" cy="793.1" r="6.6"/><circle cx="1528.1" cy="835.02" r="6.6"/><circle cx="1528.1" cy="855.98" r="6.6"/><circle cx="1528.1" cy="876.93" r="6.6"/><circle cx="1528.1" cy="897.89" r="6.6"/><circle cx="1528.1" cy="918.85" r="6.6"/><circle cx="1528.1" cy="981.72" r="6.6"/><circle cx="1543.11" cy="751.19" r="6.6"/><circle cx="1543.11" cy="772.15" r="6.6"/><circle cx="1543.11" cy="793.1" r="6.6"/><circle cx="1543.11" cy="855.98" r="6.6"/><circle cx="1543.11" cy="897.89" r="6.6"/><circle cx="1543.11" cy="918.85" r="6.6"/><circle cx="1543.11" cy="939.8" r="6.6"/><circle cx="1543.11" cy="960.76" r="6.6"/><circle cx="1543.11" cy="981.72" r="6.6"/><circle cx="1558.11" cy="751.19" r="6.6"/><circle cx="1558.11" cy="772.15" r="6.6"/><circle cx="1558.11" cy="793.1" r="6.6"/><circle cx="1558.11" cy="855.98" r="6.6"/><circle cx="1558.11" cy="876.93" r="6.6"/><circle cx="1558.11" cy="918.85" r="6.6"/><circle cx="1558.11" cy="939.8" r="6.6"/><circle cx="1558.11" cy="960.76" r="6.6"/><circle cx="1558.11" cy="981.72" r="6.6"/><circle cx="1573.12" cy="751.19" r="6.6"/><circle cx="1573.12" cy="793.1" r="6.6"/><circle cx="1573.12" cy="814.06" r="6.6"/><circle cx="1573.12" cy="835.02" r="6.6"/><circle cx="1573.12" cy="855.98" r="6.6"/><circle cx="1573.12" cy="876.93" r="6.6"/><circle cx="1573.12" cy="897.89" r="6.6"/><circle cx="1573.12" cy="918.85" r="6.6"/><circle cx="1573.12" cy="939.8" r="6.6"/><circle cx="1573.12" cy="981.72" r="6.6"/><circle cx="1588.13" cy="751.19" r="6.6"/><circle cx="1588.13" cy="793.1" r="6.6"/><circle cx="1588.13" cy="814.06" r="6.6"/><circle cx="1588.13" cy="835.02" r="6.6"/><circle cx="1588.13" cy="855.98" r="6.6"/><circle cx="1588.13" cy="876.93" r="6.6"/><circle cx="1588.13" cy="897.89" r="6.6"/><circle cx="1588.13" cy="918.85" r="6.6"/><circle cx="1588.13" cy="960.76" r="6.6"/><circle cx="1588.13" cy="981.72" r="6.6"/><circle cx="1603.13" cy="751.19" r="6.6"/><circle cx="1603.13" cy="814.06" r="6.6"/><circle cx="1603.13" cy="835.02" r="6.6"/><circle cx="1603.13" cy="855.98" r="6.6"/><circle cx="1603.13" cy="876.93" r="6.6"/><circle cx="1603.13" cy="897.89" r="6.6"/><circle cx="1603.13" cy="918.85" r="6.6"/><circle cx="1603.13" cy="939.8" r="6.6"/><circle cx="1603.13" cy="960.76" r="6.6"/><circle cx="1603.13" cy="981.72" r="6.6"/><circle cx="1618.14" cy="751.19" r="6.6"/><circle cx="1618.14" cy="772.15" r="6.6"/><circle cx="1618.14" cy="814.06" r="6.6"/><circle cx="1618.14" cy="835.02" r="6.6"/><circle cx="1618.14" cy="855.98" r="6.6"/><circle cx="1618.14" cy="876.93" r="6.6"/><circle cx="1618.14" cy="918.85" r="6.6"/><circle cx="1618.14" cy="939.8" r="6.6"/><circle cx="1618.14" cy="960.76" r="6.6"/><circle cx="1618.14" cy="981.72" r="6.6"/></g>
<g stroke="#000" stroke-width="4.2"><line x1="222.49" y1="751.19" x2="222.49" y2="981.72"/><line x1="327.54" y1="814.06" x2="327.54" y2="835.02"/><line x1="342.55" y1="772.15" x2="342.55" y2="814.06"/><line x1="357.55" y1="751.19" x2="357.55" y2="814.06"/><line x1="372.56" y1="814.06" x2="372.56" y2="855.98"/><line x1="387.57" y1="751.19" x2="387.57" y2="981.72"/><line x1="402.57" y1="751.19" x2="402.57" y2="960.76"/><line x1="417.58" y1="751.19" x2="417.58" y2="981.72"/><line x1="432.59" y1="751.19" x2="432.59" y2="897.89"/><line x1="447.6" y1="751.19" x2="447.6" y2="897.89"/><line x1="462.6" y1="751.19" x2="462.6" y2="981.72"/><line x1="477.61" y1="751.19" x2="477.61" y2="981.72"/><line x1="492.62" y1="751.19" x2="492.62" y2="897.89"/><line x1="507.62" y1="814.06" x2="507.62" y2="876.93"/><line x1="522.63" y1="751.19" x2="522.63" y2="981.72"/><line x1="537.64" y1="751.19" x2="537.64" y2="960.76"/><line x1="552.64" y1="751.19" x2="552.64" y2="981.72"/><line x1="567.65" y1="751.19" x2="567.65" y2="981.72"/><line x1="582.66" y1="751.19" x2="582.66" y2="960.76"/><line x1="597.67" y1="751.19" x2="597.67" y2="897.89"/><line x1="612.67" y1="751.19" x2="612.67" y2="876.93"/><line x1="627.68" y1="814.06" x2="627.68" y2="897.89"/><line x1="642.69" y1="751.19" x2="642.69" y2="835.02"/><line x1="657.69" y1="772.15" x2="657.69" y2="918.85"/><line x1="672.7" y1="939.8" x2="672.7" y2="960.76"/><line x1="687.71" y1="918.85" x2="687.71" y2="960.76"/><line x1="702.72" y1="751.19" x2="702.72" y2="981.72"/><line x1="717.72" y1="751.19" x2="717.72" y2="981.72"/><line x1="732.73" y1="751.19" x2="732.73" y2="960.76"/><line x1="747.74" y1="751.19" x2="747.74" y2="981.72"/><line x1="762.74" y1="751.19" x2="762.74" y2="960.76"/><line x1="777.75" y1="751.19" x2="777.75" y2="981.72"/><line x1="792.76" y1="751.19" x2="792.76" y2="981.72"/><line x1="807.76" y1="751.19" x2="807.76" y2="981.72"/><line x1="822.77" y1="751.19" x2="822.77" y2="960.76"/><line x1="837.78" y1="751.19" x2="837.78" y2="981.72"/><line x1="852.78" y1="751.19" x2="852.78" y2="981.72"/><line x1="867.79" y1="751.19" x2="867.79" y2="981.72"/><line x1="882.8" y1="751.19" x2="882.8" y2="981.72"/><line x1="897.81" y1="751.19" x2="897.81" y2="981.72"/><line x1="912.81" y1="751.19" x2="912.81" y2="960.76"/><line x1="927.82" y1="751.19" x2="927.82" y2="960.76"/><line x1="942.83" y1="751.19" x2="942.83" y2="960.76"/><line x1="957.83" y1="751.19" x2="957.83" y2="981.72"/><line x1="972.84" y1="751.19" x2="972.84" y2="939.8"/><line x1="987.85" y1="793.1" x2="987.85" y2="960.76"/><line x1="1002.86" y1="751.19" x2="1002.86" y2="918.85"/><line x1="1017.86" y1="751.19" x2="1017.86" y2="960.76"/><line x1="1032.87" y1="751.19" x2="1032.87" y2="960.76"/><line x1="1047.88" y1="751.19" x2="1047.88" y2="897.89"/><line x1="1062.88" y1="751.19" x2="1062.88" y2="918.85"/><line x1="1077.89" y1="751.19" x2="1077.89" y2="981.72"/><line x1="1092.9" y1="751.19" x2="1092.9" y2="981.72"/><line x1="1107.9" y1="751.19" x2="1107.9" y2="855.98"/><line x1="1122.91" y1="751.19" x2="1122.91" y2="918.85"/><line x1="1137.92" y1="751.19" x2="1137.92" y2="918.85"/><line x1="1152.92" y1="751.19" x2="1152.92" y2="981.72"/><line x1="1167.93" y1="772.15" x2="1167.93" y2="918.85"/><line x1="1182.94" y1="751.19" x2="1182.94" y2="855.98"/><line x1="1197.95" y1="772.15" x2="1197.95" y2="855.98"/><line x1="1212.95" y1="814.06" x2="1212.95" y2="960.76"/><line x1="1227.96" y1="751.19" x2="1227.96" y2="939.8"/><line x1="1242.97" y1="751.19" x2="1242.97" y2="897.89"/><line x1="1257.97" y1="814.06" x2="1257.97" y2="918.85"/><line x1="1272.98" y1="751.19" x2="1272.98" y2="981.72"/><line x1="1287.99" y1="772.15" x2="1287.99" y2="960.76"/><line x1="1302.99" y1="772.15" x2="1302.99" y2="855.98"/><line x1="1318" y1="793.1" x2="1318" y2="960.76"/><line x1="1333.01" y1="751.19" x2="1333.01" y2="939.8"/><line x1="1348.02" y1="793.1" x2="1348.02" y2="918.85"/><line x1="1363.02" y1="751.19" x2="1363.02" y2="918.85"/><line x1="1378.03" y1="751.19" x2="1378.03" y2="855.98"/><line x1="1393.04" y1="814.06" x2="1393.04" y2="981.72"/><line x1="1408.04" y1="814.06" x2="1408.04" y2="897.89"/><line x1="1423.05" y1="772.15" x2="1423.05" y2="960.76"/><line x1="1438.06" y1="772.15" x2="1438.06" y2="960.76"/><line x1="1453.07" y1="772.15" x2="1453.07" y2="918.85"/><line x1="1468.07" y1="772.15" x2="1468.07" y2="855.98"/><line x1="1483.08" y1="772.15" x2="1483.08" y2="835.02"/><line x1="1498.09" y1="751.19" x2="1498.09" y2="814.06"/><line x1="1513.09" y1="772.15" x2="1513.09" y2="981.72"/><line x1="1528.1" y1="814.06" x2="1528.1" y2="960.76"/><line x1="1543.11" y1="814.06" x2="1543.11" y2="876.93"/><line x1="1558.11" y1="814.06" x2="1558.11" y2="897.89"/><line x1="1573.12" y1="772.15" x2="1573.12" y2="960.76"/><line x1="1588.13" y1="772.15" x2="1588.13" y2="939.8"/><line x1="1603.13" y1="772.15" x2="1603.13" y2="793.1"/><line x1="1618.14" y1="793.1" x2="1618.14" y2="897.89"/></g>
<g fill="#000"><circle cx="177.47" cy="793.1" r="6.75"/><circle cx="192.48" cy="751.19" r="6.75"/><circle cx="207.48" cy="772.15" r="6.75"/><circle cx="222.49" cy="751.19" r="6.75"/><circle cx="222.49" cy="772.15" r="6.75"/><circle cx="222.49" cy="793.1" r="6.75"/><circle cx="222.49" cy="814.06" r="6.75"/><circle cx="222.49" cy="835.02" r="6.75"/><circle cx="222.49" cy="855.98" r="6.75"/><circle cx="222.49" cy="876.93" r="6.75"/><circle cx="222.49" cy="897.89" r="6.75"/><circle cx="222.49" cy="918.85" r="6.75"/><circle cx="222.49" cy="939.8" r="6.75"/><circle cx="222.49" cy="960.76" r="6.75"/><circle cx="222.49" cy="981.72" r="6.75"/><circle cx="237.5" cy="876.93" r="6.75"/><circle cx="252.5" cy="855.98" r="6.75"/><circle cx="267.51" cy="939.8" r="6.75"/><circle cx="282.52" cy="835.02" r="6.75"/><circle cx="297.53" cy="814.06" r="6.75"/><circle cx="312.53" cy="918.85" r="6.75"/><circle cx="327.54" cy="814.06" r="6.75"/><circle cx="327.54" cy="835.02" r="6.75"/><circle cx="342.55" cy="772.15" r="6.75"/><circle cx="342.55" cy="814.06" r="6.75"/><circle cx="357.55" cy="751.19" r="6.75"/><circle cx="357.55" cy="814.06" r="6.75"/><circle cx="372.56" cy="814.06" r="6.75"/><circle cx="372.56" cy="835.02" r="6.75"/><circle cx="372.56" cy="855.98" r="6.75"/><circle cx="387.57" cy="751.19" r="6.75"/><circle cx="387.57" cy="772.15" r="6.75"/><circle cx="387.57" cy="793.1" r="6.75"/><circle cx="387.57" cy="814.06" r="6.75"/><circle cx="387.57" cy="835.02" r="6.75"/><circle cx="387.57" cy="855.98" r="6.75"/><circle cx="387.57" cy="876.93" r="6.75"/><circle cx="387.57" cy="897.89" r="6.75"/><circle cx="387.57" cy="918.85" r="6.75"/><circle cx="387.57" cy="960.76" r="6.75"/><circle cx="387.57" cy="981.72" r="6.75"/><circle cx="402.57" cy="751.19" r="6.75"/><circle cx="402.57" cy="772.15" r="6.75"/><circle cx="402.57" cy="793.1" r="6.75"/><circle cx="402.57" cy="814.06" r="6.75"/><circle cx="402.57" cy="835.02" r="6.75"/><circle cx="402.57" cy="855.98" r="6.75"/><circle cx="402.57" cy="897.89" r="6.75"/><circle cx="402.57" cy="918.85" r="6.75"/><circle cx="402.57" cy="939.8" r="6.75"/><circle cx="402.57" cy="960.76" r="6.75"/><circle cx="417.58" cy="751.19" r="6.75"/><circle cx="417.58" cy="772.15" r="6.75"/><circle cx="417.58" cy="814.06" r="6.75"/><circle cx="417.58" cy="835.02" r="6.75"/><circle cx="417.58" cy="855.98" r="6.75"/><circle cx="417.58" cy="897.89" r="6.75"/><circle cx="417.58" cy="918.85" r="6.75"/><circle cx="417.58" cy="981.72" r="6.75"/><circle cx="432.59" cy="751.19" r="6.75"/><circle cx="432.59" cy="814.06" r="6.75"/><circle cx="432.59" cy="835.02" r="6.75"/><circle cx="432.59" cy="855.98" r="6.75"/><circle cx="432.59" cy="876.93" r="6.75"/><circle cx="432.59" cy="897.89" r="6.75"/><circle cx="447.6" cy="751.19" r="6.75"/><circle cx="447.6" cy="814.06" r="6.75"/><circle cx="447.6" cy="835.02" r="6.75"/><circle cx="447.6" cy="855.98" r="6.75"/><circle cx="447.6" cy="897.89" r="6.75"/><circle cx="462.6" cy="751.19" r="6.75"/><circle cx="462.6" cy="772.15" r="6.75"/><circle cx="462.6" cy="814.06" r="6.75"/><circle cx="462.6" cy="835.02" r="6.75"/><circle cx="462.6" cy="855.98" r="6.75"/><circle cx="462.6" cy="876.93" r="6.75"/><circle cx="462.6" cy="897.89" r="6.75"/><circle cx="462.6" cy="981.72" r="6.75"/><circle cx="477.61" cy="751.19" r="6.75"/><circle cx="477.61" cy="772.15" r="6.75"/><circle cx="477.61" cy="814.06" r="6.75"/><circle cx="477.61" cy="835.02" r="6.75"/><circle cx="477.61" cy="855.98" r="6.75"/><circle cx="477.61" cy="897.89" r="6.75"/><circle cx="477.61" cy="981.72" r="6.75"/><circle cx="492.62" cy="751.19" r="6.75"/><circle cx="492.62" cy="772.15" r="6.75"/><circle cx="492.62" cy="814.06" r="6.75"/><circle cx="492.62" cy="835.02" r="6.75"/><circle cx="492.62" cy="897.89" r="6.75"/><circle cx="507.62" cy="814.06" r="6.75"/><circle cx="507.62" cy="835.02" r="6.75"/><circle cx="507.62" cy="855.98" r="6.75"/><circle cx="507.62" cy="876.93" r="6.75"/><circle cx="522.63" cy="751.19" r="6.75"/><circle cx="522.63" cy="772.15" r="6.75"/><circle cx="522.63" cy="793.1" r="6.75"/><circle cx="522.63" cy="814.06" r="6.75"/><circle cx="522.63" cy="835.02" r="6.75"/><circle cx="522.63" cy="855.98" r="6.75"/><circle cx="522.63" cy="897.89" r="6.75"/><circle cx="522.63" cy="918.85" r="6.75"/><circle cx="522.63" cy="939.8" r="6.75"/><circle cx="522.63" cy="960.76" r="6.75"/><circle cx="522.63" cy="981.72" r="6.75"/><circle cx="537.64" cy="751.19" r="6.75"/><circle cx="537.64" cy="772.15" r="6.75"/><circle cx="537.64" cy="793.1" r="6.75"/><circle cx="537.64" cy="814.06" r="6.75"/><circle cx="537.64" cy="835.02" r="6.75"/><circle cx="537.64" cy="855.98" r="6.75"/><circle cx="537.64" cy="876.93" r="6.75"/><circle cx="537.64" cy="897.89" r="6.75"/><circle cx="537.64" cy="918.85" r="6.75"/><circle cx="537.64" cy="960.76" r="6.75"/><circle cx="552.64" cy="751.19" r="6.75"/><circle cx="552.64" cy="772.15" r="6.75"/><circle cx="552.64" cy="814.06" r="6.75"/><circle cx="552.64" cy="835.02" r="6.75"/><circle cx="552.64" cy="855.98" r="6.75"/><circle cx="552.64" cy="897.89" r="6.75"/><circle cx="552.64" cy="918.85" r="6.75"/><circle cx="552.64" cy="960.76" r="6.75"/><circle cx="552.64" cy="981.72" r="6.75"/><circle cx="567.65" cy="751.19" r="6.75"/><circle cx="567.65" cy="772.15" r="6.75"/><circle cx="567.65" cy="814.06" r="6.75"/><circle cx="567.65" cy="835.02" r="6.75"/><circle cx="567.65" cy="855.98" r="6.75"/><circle cx="567.65" cy="876.93" r="6.75"/><circle cx="567.65" cy="897.89" r="6.75"/><circle cx="567.65" cy="918.85" r="6.75"/><circle cx="567.65" cy="981.72" r="6.75"/><circle cx="582.66" cy="751.19" r="6.75"/><circle cx="582.66" cy="814.06" r="6.75"/><circle cx="582.66" cy="835.02" r="6.75"/><circle cx="582.66" cy="855.98" r="6.75"/><circle cx="582.66" cy="876.93" r="6.75"/><circle cx="582.66" cy="897.89" r="6.75"/><circle cx="582.66" cy="960.76" r="6.75"/><circle cx="597.67" cy="751.19" r="6.75"/><circle cx="597.67" cy="772.15" r="6.75"/><circle cx="597.67" cy="814.06" r="6.75"/><circle cx="597.67" cy="835.02" r="6.75"/><circle cx="597.67" cy="855.98" r="6.75"/><circle cx="597.67" cy="897.89" r="6.75"/><circle cx="612.67" cy="751.19" r="6.75"/><circle cx="612.67" cy="814.06" r="6.75"/><circle cx="612.67" cy="835.02" r="6.75"/><circle cx="612.67" cy="855.98" r="6.75"/><circle cx="612.67" cy="876.93" r="6.75"/><circle cx="627.68" cy="814.06" r="6.75"/><circle cx="627.68" cy="835.02" r="6.75"/><circle cx="627.68" cy="855.98" r="6.75"/><circle cx="627.68" cy="876.93" r="6.75"/><circle cx="627.68" cy="897.89" r="6.75"/><circle cx="642.69" cy="751.19" r="6.75"/><circle cx="642.69" cy="814.06" r="6.75"/><circle cx="642.69" cy="835.02" r="6.75"/><circle cx="657.69" cy="772.15" r="6.75"/><circle cx="657.69" cy="918.85" r="6.75"/><circle cx="672.7" cy="939.8" r="6.75"/><circle cx="672.7" cy="960.76" r="6.75"/><circle cx="687.71" cy="918.85" r="6.75"/><circle cx="687.71" cy="960.76" r="6.75"/><circle cx="702.72" cy="751.19" r="6.75"/><circle cx="702.72" cy="772.15" r="6.75"/><circle cx="702.72" cy="814.06" r="6.75"/><circle cx="702.72" cy="835.02" r="6.75"/><circle cx="702.72" cy="855.98" r="6.75"/><circle cx="702.72" cy="876.93" r="6.75"/><circle cx="702.72" cy="897.89" r="6.75"/><circle cx="702.72" cy="918.85" r="6.75"/><circle cx="702.72" cy="939.8" r="6.75"/><circle cx="702.72" cy="960.76" r="6.75"/><circle cx="702.72" cy="981.72" r="6.75"/><circle cx="717.72" cy="751.19" r="6.75"/><circle cx="717.72" cy="772.15" r="6.75"/><circle cx="717.72" cy="793.1" r="6.75"/><circle cx="717.72" cy="814.06" r="6.75"/><circle cx="717.72" cy="835.02" r="6.75"/><circle cx="717.72" cy="855.98" r="6.75"/><circle cx="717.72" cy="876.93" r="6.75"/><circle cx="717.72" cy="897.89" r="6.75"/><circle cx="717.72" cy="918.85" r="6.75"/><circle cx="717.72" cy="939.8" r="6.75"/><circle cx="717.72" cy="981.72" r="6.75"/><circle cx="732.73" cy="751.19" r="6.75"/><circle cx="732.73" cy="772.15" r="6.75"/><circle cx="732.73" cy="793.1" r="6.75"/><circle cx="732.73" cy="814.06" r="6.75"/><circle cx="732.73" cy="835.02" r="6.75"/><circle cx="732.73" cy="876.93" r="6.75"/><circle cx="732.73" cy="897.89" r="6.75"/><circle cx="732.73" cy="918.85" r="6.75"/><circle cx="732.73" cy="939.8" r="6.75"/><circle cx="732.73" cy="960.76" r="6.75"/><circle cx="747.74" cy="751.19" r="6.75"/><circle cx="747.74" cy="772.15" r="6.75"/><circle cx="747.74" cy="793.1" r="6.75"/><circle cx="747.74" cy="814.06" r="6.75"/><circle cx="747.74" cy="876.93" r="6.75"/><circle cx="747.74" cy="897.89" r="6.75"/><circle cx="747.74" cy="918.85" r="6.75"/><circle cx="747.74" cy="939.8" r="6.75"/><circle cx="747.74" cy="960.76" r="6.75"/><circle cx="747.74" cy="981.72" r="6.75"/><circle cx="762.74" cy="751.19" r="6.75"/><circle cx="762.74" cy="772.15" r="6.75"/><circle cx="762.74" cy="793.1" r="6.75"/><circle cx="762.74" cy="814.06" r="6.75"/><circle cx="762.74" cy="835.02" r="6.75"/><circle cx="762.74" cy="855.98" r="6.75"/><circle cx="762.74" cy="876.93" r="6.75"/><circle cx="762.74" cy="897.89" r="6.75"/><circle cx="762.74" cy="939.8" r="6.75"/><circle cx="762.74" cy="960.76" r="6.75"/><circle cx="777.75" cy="751.19" r="6.75"/><circle cx="777.75" cy="772.15" r="6.75"/><circle cx="777.75" cy="814.06" r="6.75"/><circle cx="777.75" cy="835.02" r="6.75"/><circle cx="777.75" cy="855.98" r="6.75"/><circle cx="777.75" cy="876.93" r="6.75"/><circle cx="777.75" cy="897.89" r="6.75"/><circle cx="777.75" cy="918.85" r="6.75"/><circle cx="777.75" cy="960.76" r="6.75"/><circle cx="777.75" cy="981.72" r="6.75"/><circle cx="792.76" cy="751.19" r="6.75"/><circle cx="792.76" cy="772.15" r="6.75"/><circle cx="792.76" cy="793.1" r="6.75"/><circle cx="792.76" cy="814.06" r="6.75"/><circle cx="792.76" cy="835.02" r="6.75"/><circle cx="792.76" cy="855.98" r="6.75"/><circle cx="792.76" cy="918.85" r="6.75"/><circle cx="792.76" cy="939.8" r="6.75"/><circle cx="792.76" cy="960.76" r="6.75"/><circle cx="792.76" cy="981.72" r="6.75"/><circle cx="807.76" cy="751.19" r="6.75"/><circle cx="807.76" cy="772.15" r="6.75"/><circle cx="807.76" cy="793.1" r="6.75"/><circle cx="807.76" cy="814.06" r="6.75"/><circle cx="807.76" cy="835.02" r="6.75"/><circle cx="807.76" cy="855.98" r="6.75"/><circle cx="807.76" cy="876.93" r="6.75"/><circle cx="807.76" cy="897.89" r="6.75"/><circle cx="807.76" cy="918.85" r="6.75"/><circle cx="807.76" cy="981.72" r="6.75"/><circle cx="822.77" cy="751.19" r="6.75"/><circle cx="822.77" cy="772.15" r="6.75"/><circle cx="822.77" cy="814.06" r="6.75"/><circle cx="822.77" cy="835.02" r="6.75"/><circle cx="822.77" cy="855.98" r="6.75"/><circle cx="822.77" cy="876.93" r="6.75"/><circle cx="822.77" cy="897.89" r="6.75"/><circle cx="822.77" cy="918.85" r="6.75"/><circle cx="822.77" cy="960.76" r="6.75"/><circle cx="837.78" cy="751.19" r="6.75"/><circle cx="837.78" cy="772.15" r="6.75"/><circle cx="837.78" cy="814.06" r="6.75"/><circle cx="837.78" cy="835.02" r="6.75"/><circle cx="837.78" cy="855.98" r="6.75"/><circle cx="837.78" cy="876.93" r="6.75"/><circle cx="837.78" cy="897.89" r="6.75"/><circle cx="837.78" cy="960.76" r="6.75"/><circle cx="837.78" cy="981.72" r="6.75"/><circle cx="852.78" cy="751.19" r="6.75"/><circle cx="852.78" cy="772.15" r="6.75"/><circle cx="852.78" cy="814.06" r="6.75"/><circle cx="852.78" cy="835.02" r="6.75"/><circle cx="852.78" cy="855.98" r="6.75"/><circle cx="852.78" cy="897.89" r="6.75"/><circle cx="852.78" cy="939.8" r="6.75"/><circle cx="852.78" cy="960.76" r="6.75"/><circle cx="852.78" cy="981.72" r="6.75"/><circle cx="867.79" cy="751.19" r="6.75"/><circle cx="867.79" cy="772.15" r="6.75"/><circle cx="867.79" cy="793.1" r="6.75"/><circle cx="867.79" cy="814.06" r="6.75"/><circle cx="867.79" cy="835.02" r="6.75"/><circle cx="867.79" cy="855.98" r="6.75"/><circle cx="867.79" cy="897.89" r="6.75"/><circle cx="867.79" cy="960.76" r="6.75"/><circle cx="867.79" cy="981.72" r="6.75"/><circle cx="882.8" cy="751.19" r="6.75"/><circle cx="882.8" cy="772.15" r="6.75"/><circle cx="882.8" cy="793.1" r="6.75"/><circle cx="882.8" cy="814.06" r="6.75"/><circle cx="882.8" cy="835.02" r="6.75"/><circle cx="882.8" cy="855.98" r="6.75"/><circle cx="882.8" cy="876.93" r="6.75"/><circle cx="882.8" cy="897.89" r="6.75"/><circle cx="882.8" cy="981.72" r="6.75"/><circle cx="897.81" cy="751.19" r="6.75"/><circle cx="897.81" cy="772.15" r="6.75"/><circle cx="897.81" cy="793.1" r="6.75"/><circle cx="897.81" cy="814.06" r="6.75"/><circle cx="897.81" cy="835.02" r="6.75"/><circle cx="897.81" cy="855.98" r="6.75"/><circle cx="897.81" cy="897.89" r="6.75"/><circle cx="897.81" cy="918.85" r="6.75"/><circle cx="897.81" cy="981.72" r="6.75"/><circle cx="912.81" cy="751.19" r="6.75"/><circle cx="912.81" cy="793.1" r="6.75"/><circle cx="912.81" cy="814.06" r="6.75"/><circle cx="912.81" cy="835.02" r="6.75"/><circle cx="912.81" cy="855.98" r="6.75"/><circle cx="912.81" cy="897.89" r="6.75"/><circle cx="912.81" cy="918.85" r="6.75"/><circle cx="912.81" cy="939.8" r="6.75"/><circle cx="912.81" cy="960.76" r="6.75"/><circle cx="927.82" cy="751.19" r="6.75"/><circle cx="927.82" cy="772.15" r="6.75"/><circle cx="927.82" cy="793.1" r="6.75"/><circle cx="927.82" cy="814.06" r="6.75"/><circle cx="927.82" cy="835.02" r="6.75"/><circle cx="927.82" cy="876.93" r="6.75"/><circle cx="927.82" cy="918.85" r="6.75"/><circle cx="927.82" cy="960.76" r="6.75"/><circle cx="942.83" cy="751.19" r="6.75"/><circle cx="942.83" cy="772.15" r="6.75"/><circle cx="942.83" cy="814.06" r="6.75"/><circle cx="942.83" cy="835.02" r="6.75"/><circle cx="942.83" cy="855.98" r="6.75"/><circle cx="942.83" cy="876.93" r="6.75"/><circle cx="942.83" cy="897.89" r="6.75"/><circle cx="942.83" cy="960.76" r="6.75"/><circle cx="957.83" cy="751.19" r="6.75"/><circle cx="957.83" cy="772.15" r="6.75"/><circle cx="957.83" cy="814.06" r="6.75"/><circle cx="957.83" cy="835.02" r="6.75"/><circle cx="957.83" cy="855.98" r="6.75"/><circle cx="957.83" cy="897.89" r="6.75"/><circle cx="957.83" cy="960.76" r="6.75"/><circle cx="957.83" cy="981.72" r="6.75"/><circle cx="972.84" cy="751.19" r="6.75"/><circle cx="972.84" cy="772.15" r="6.75"/><circle cx="972.84" cy="814.06" r="6.75"/><circle cx="972.84" cy="835.02" r="6.75"/><circle cx="972.84" cy="855.98" r="6.75"/><circle cx="972.84" cy="876.93" r="6.75"/><circle cx="972.84" cy="897.89" r="6.75"/><circle cx="972.84" cy="939.8" r="6.75"/><circle cx="987.85" cy="793.1" r="6.75"/><circle cx="987.85" cy="814.06" r="6.75"/><circle cx="987.85" cy="835.02" r="6.75"/><circle cx="987.85" cy="855.98" r="6.75"/><circle cx="987.85" cy="876.93" r="6.75"/><circle cx="987.85" cy="897.89" r="6.75"/><circle cx="987.85" cy="918.85" r="6.75"/><circle cx="987.85" cy="960.76" r="6.75"/><circle cx="1002.86" cy="751.19" r="6.75"/><circle cx="1002.86" cy="793.1" r="6.75"/><circle cx="1002.86" cy="814.06" r="6.75"/><circle cx="1002.86" cy="835.02" r="6.75"/><circle cx="1002.86" cy="855.98" r="6.75"/><circle cx="1002.86" cy="876.93" r="6.75"/><circle cx="1002.86" cy="897.89" r="6.75"/><circle cx="1002.86" cy="918.85" r="6.75"/><circle cx="1017.86" cy="751.19" r="6.75"/><circle cx="1017.86" cy="772.15" r="6.75"/><circle cx="1017.86" cy="814.06" r="6.75"/><circle cx="1017.86" cy="835.02" r="6.75"/><circle cx="1017.86" cy="876.93" r="6.75"/><circle cx="1017.86" cy="897.89" r="6.75"/><circle cx="1017.86" cy="960.76" r="6.75"/><circle cx="1032.87" cy="751.19" r="6.75"/><circle cx="1032.87" cy="772.15" r="6.75"/><circle cx="1032.87" cy="814.06" r="6.75"/><circle cx="1032.87" cy="835.02" r="6.75"/><circle cx="1032.87" cy="855.98" r="6.75"/><circle cx="1032.87" cy="897.89" r="6.75"/><circle cx="1032.87" cy="960.76" r="6.75"/><circle cx="1047.88" cy="751.19" r="6.75"/><circle cx="1047.88" cy="772.15" r="6.75"/><circle cx="1047.88" cy="793.1" r="6.75"/><circle cx="1047.88" cy="814.06" r="6.75"/><circle cx="1047.88" cy="835.02" r="6.75"/><circle cx="1047.88" cy="876.93" r="6.75"/><circle cx="1047.88" cy="897.89" r="6.75"/><circle cx="1062.88" cy="751.19" r="6.75"/><circle cx="1062.88" cy="772.15" r="6.75"/><circle cx="1062.88" cy="814.06" r="6.75"/><circle cx="1062.88" cy="835.02" r="6.75"/><circle cx="1062.88" cy="855.98" r="6.75"/><circle cx="1062.88" cy="897.89" r="6.75"/><circle cx="1062.88" cy="918.85" r="6.75"/><circle cx="1077.89" cy="751.19" r="6.75"/><circle cx="1077.89" cy="814.06" r="6.75"/><circle cx="1077.89" cy="835.02" r="6.75"/><circle cx="1077.89" cy="855.98" r="6.75"/><circle cx="1077.89" cy="897.89" r="6.75"/><circle cx="1077.89" cy="960.76" r="6.75"/><circle cx="1077.89" cy="981.72" r="6.75"/><circle cx="1092.9" cy="751.19" r="6.75"/><circle cx="1092.9" cy="814.06" r="6.75"/><circle cx="1092.9" cy="835.02" r="6.75"/><circle cx="1092.9" cy="855.98" r="6.75"/><circle cx="1092.9" cy="897.89" r="6.75"/><circle cx="1092.9" cy="918.85" r="6.75"/><circle cx="1092.9" cy="981.72" r="6.75"/><circle cx="1107.9" cy="751.19" r="6.75"/><circle cx="1107.9" cy="772.15" r="6.75"/><circle cx="1107.9" cy="793.1" r="6.75"/><circle cx="1107.9" cy="814.06" r="6.75"/><circle cx="1107.9" cy="835.02" r="6.75"/><circle cx="1107.9" cy="855.98" r="6.75"/><circle cx="1122.91" cy="751.19" r="6.75"/><circle cx="1122.91" cy="793.1" r="6.75"/><circle cx="1122.91" cy="814.06" r="6.75"/><circle cx="1122.91" cy="835.02" r="6.75"/><circle cx="1122.91" cy="855.98" r="6.75"/><circle cx="1122.91" cy="918.85" r="6.75"/><circle cx="1137.92" cy="751.19" r="6.75"/><circle cx="1137.92" cy="814.06" r="6.75"/><circle cx="1137.92" cy="835.02" r="6.75"/><circle cx="1137.92" cy="855.98" r="6.75"/><circle cx="1137.92" cy="897.89" r="6.75"/><circle cx="1137.92" cy="918.85" r="6.75"/><circle cx="1152.92" cy="751.19" r="6.75"/><circle cx="1152.92" cy="814.06" r="6.75"/><circle cx="1152.92" cy="835.02" r="6.75"/><circle cx="1152.92" cy="897.89" r="6.75"/><circle cx="1152.92" cy="918.85" r="6.75"/><circle cx="1152.92" cy="981.72" r="6.75"/><circle cx="1167.93" cy="772.15" r="6.75"/><circle cx="1167.93" cy="793.1" r="6.75"/><circle cx="1167.93" cy="814.06" r="6.75"/><circle cx="1167.93" cy="835.02" r="6.75"/><circle cx="1167.93" cy="918.85" r="6.75"/><circle cx="1182.94" cy="751.19" r="6.75"/><circle cx="1182.94" cy="772.15" r="6.75"/><circle cx="1182.94" cy="814.06" r="6.75"/><circle cx="1182.94" cy="835.02" r="6.75"/><circle cx="1182.94" cy="855.98" r="6.75"/><circle cx="1197.95" cy="772.15" r="6.75"/><circle cx="1197.95" cy="793.1" r="6.75"/><circle cx="1197.95" cy="814.06" r="6.75"/><circle cx="1197.95" cy="835.02" r="6.75"/><circle cx="1197.95" cy="855.98" r="6.75"/><circle cx="1212.95" cy="814.06" r="6.75"/><circle cx="1212.95" cy="835.02" r="6.75"/><circle cx="1212.95" cy="855.98" r="6.75"/><circle cx="1212.95" cy="918.85" r="6.75"/><circle cx="1212.95" cy="960.76" r="6.75"/><circle cx="1227.96" cy="751.19" r="6.75"/><circle cx="1227.96" cy="814.06" r="6.75"/><circle cx="1227.96" cy="876.93" r="6.75"/><circle cx="1227.96" cy="897.89" r="6.75"/><circle cx="1227.96" cy="939.8" r="6.75"/><circle cx="1242.97" cy="751.19" r="6.75"/><circle cx="1242.97" cy="814.06" r="6.75"/><circle cx="1242.97" cy="835.02" r="6.75"/><circle cx="1242.97" cy="876.93" r="6.75"/><circle cx="1242.97" cy="897.89" r="6.75"/><circle cx="1257.97" cy="814.06" r="6.75"/><circle cx="1257.97" cy="835.02" r="6.75"/><circle cx="1257.97" cy="855.98" r="6.75"/><circle cx="1257.97" cy="897.89" r="6.75"/><circle cx="1257.97" cy="918.85" r="6.75"/><circle cx="1272.98" cy="751.19" r="6.75"/><circle cx="1272.98" cy="814.06" r="6.75"/><circle cx="1272.98" cy="835.02" r="6.75"/><circle cx="1272.98" cy="855.98" r="6.75"/><circle cx="1272.98" cy="981.72" r="6.75"/><circle cx="1287.99" cy="772.15" r="6.75"/><circle cx="1287.99" cy="814.06" r="6.75"/><circle cx="1287.99" cy="918.85" r="6.75"/><circle cx="1287.99" cy="960.76" r="6.75"/><circle cx="1302.99" cy="772.15" r="6.75"/><circle cx="1302.99" cy="793.1" r="6.75"/><circle cx="1302.99" cy="814.06" r="6.75"/><circle cx="1302.99" cy="855.98" r="6.75"/><circle cx="1318" cy="793.1" r="6.75"/><circle cx="1318" cy="918.85" r="6.75"/><circle cx="1318" cy="939.8" r="6.75"/><circle cx="1318" cy="960.76" r="6.75"/><circle cx="1333.01" cy="751.19" r="6.75"/><circle cx="1333.01" cy="814.06" r="6.75"/><circle cx="1333.01" cy="897.89" r="6.75"/><circle cx="1333.01" cy="939.8" r="6.75"/><circle cx="1348.02" cy="793.1" r="6.75"/><circle cx="1348.02" cy="814.06" r="6.75"/><circle cx="1348.02" cy="835.02" r="6.75"/><circle cx="1348.02" cy="918.85" r="6.75"/><circle cx="1363.02" cy="751.19" r="6.75"/><circle cx="1363.02" cy="814.06" r="6.75"/><circle cx="1363.02" cy="897.89" r="6.75"/><circle cx="1363.02" cy="918.85" r="6.75"/><circle cx="1378.03" cy="751.19" r="6.75"/><circle cx="1378.03" cy="814.06" r="6.75"/><circle cx="1378.03" cy="835.02" r="6.75"/><circle cx="1378.03" cy="855.98" r="6.75"/><circle cx="1393.04" cy="814.06" r="6.75"/><circle cx="1393.04" cy="835.02" r="6.75"/><circle cx="1393.04" cy="855.98" r="6.75"/><circle cx="1393.04" cy="981.72" r="6.75"/><circle cx="1408.04" cy="814.06" r="6.75"/><circle cx="1408.04" cy="835.02" r="6.75"/><circle cx="1408.04" cy="855.98" r="6.75"/><circle cx="1408.04" cy="897.89" r="6.75"/><circle cx="1423.05" cy="772.15" r="6.75"/><circle cx="1423.05" cy="918.85" r="6.75"/><circle cx="1423.05" cy="960.76" r="6.75"/><circle cx="1438.06" cy="772.15" r="6.75"/><circle cx="1438.06" cy="793.1" r="6.75"/><circle cx="1438.06" cy="960.76" r="6.75"/><circle cx="1453.07" cy="772.15" r="6.75"/><circle cx="1453.07" cy="814.06" r="6.75"/><circle cx="1453.07" cy="918.85" r="6.75"/><circle cx="1468.07" cy="772.15" r="6.75"/><circle cx="1468.07" cy="814.06" r="6.75"/><circle cx="1468.07" cy="855.98" r="6.75"/><circle cx="1483.08" cy="772.15" r="6.75"/><circle cx="1483.08" cy="814.06" r="6.75"/><circle cx="1483.08" cy="835.02" r="6.75"/><circle cx="1498.09" cy="751.19" r="6.75"/><circle cx="1498.09" cy="772.15" r="6.75"/><circle cx="1498.09" cy="814.06" r="6.75"/><circle cx="1513.09" cy="772.15" r="6.75"/><circle cx="1513.09" cy="814.06" r="6.75"/><circle cx="1513.09" cy="981.72" r="6.75"/><circle cx="1528.1" cy="814.06" r="6.75"/><circle cx="1528.1" cy="939.8" r="6.75"/><circle cx="1528.1" cy="960.76" r="6.75"/><circle cx="1543.11" cy="814.06" r="6.75"/><circle cx="1543.11" cy="835.02" r="6.75"/><circle cx="1543.11" cy="876.93" r="6.75"/><circle cx="1558.11" cy="814.06" r="6.75"/><circle cx="1558.11" cy="835.02" r="6.75"/><circle cx="1558.11" cy="897.89" r="6.75"/><circle cx="1573.12" cy="772.15" r="6.75"/><circle cx="1573.12" cy="960.76" r="6.75"/><circle cx="1588.13" cy="772.15" r="6.75"/><circle cx="1588.13" cy="939.8" r="6.75"/><circle cx="1603.13" cy="772.15" r="6.75"/><circle cx="1603.13" cy="793.1" r="6.75"/><circle cx="1618.14" cy="793.1" r="6.75"/><circle cx="1618.14" cy="897.89" r="6.75"/></g>
<g fill="#000"><rect x="171.87" y="607.03" width="11.2" height="128.67"/><rect x="186.88" y="636.61" width="11.2" height="99.09"/><rect x="201.88" y="637.37" width="11.2" height="98.33"/><rect x="216.89" y="700.33" width="11.2" height="35.37"/><rect x="231.9" y="702.6" width="11.2" height="33.1"/><rect x="246.91" y="709.43" width="11.2" height="26.27"/><rect x="261.91" y="712.46" width="11.2" height="23.24"/><rect x="276.92" y="714.74" width="11.2" height="20.96"/><rect x="291.93" y="715.5" width="11.2" height="20.2"/><rect x="306.93" y="720.05" width="11.2" height="15.65"/><rect x="321.94" y="726.12" width="11.2" height="9.59"/><rect x="336.95" y="728.39" width="11.2" height="7.31"/><rect x="351.95" y="729.15" width="11.2" height="6.55"/><rect x="366.96" y="729.91" width="11.2" height="5.79"/><rect x="381.97" y="730.67" width="11.2" height="5.03"/><rect x="396.97" y="730.67" width="11.2" height="5.03"/><rect x="411.98" y="730.67" width="11.2" height="5.03"/><rect x="426.99" y="730.67" width="11.2" height="5.03"/><rect x="442" y="730.67" width="11.2" height="5.03"/><rect x="457" y="731.42" width="11.2" height="4.28"/><rect x="472.01" y="731.42" width="11.2" height="4.28"/><rect x="487.02" y="731.42" width="11.2" height="4.28"/><rect x="502.02" y="731.42" width="11.2" height="4.28"/><rect x="517.03" y="732.18" width="11.2" height="3.52"/><rect x="532.04" y="732.18" width="11.2" height="3.52"/><rect x="547.04" y="732.18" width="11.2" height="3.52"/><rect x="562.05" y="732.18" width="11.2" height="3.52"/><rect x="577.06" y="732.18" width="11.2" height="3.52"/><rect x="592.07" y="732.18" width="11.2" height="3.52"/><rect x="607.07" y="732.18" width="11.2" height="3.52"/><rect x="622.08" y="732.18" width="11.2" height="3.52"/><rect x="637.09" y="732.18" width="11.2" height="3.52"/><rect x="652.09" y="732.18" width="11.2" height="3.52"/><rect x="667.1" y="732.18" width="11.2" height="3.52"/><rect x="682.11" y="732.18" width="11.2" height="3.52"/><rect x="697.12" y="732.94" width="11.2" height="2.76"/><rect x="712.12" y="732.94" width="11.2" height="2.76"/><rect x="727.13" y="732.94" width="11.2" height="2.76"/><rect x="742.14" y="732.94" width="11.2" height="2.76"/><rect x="757.14" y="732.94" width="11.2" height="2.76"/><rect x="772.15" y="732.94" width="11.2" height="2.76"/><rect x="787.16" y="732.94" width="11.2" height="2.76"/><rect x="802.16" y="732.94" width="11.2" height="2.76"/><rect x="817.17" y="732.94" width="11.2" height="2.76"/><rect x="832.18" y="732.94" width="11.2" height="2.76"/><rect x="847.18" y="732.94" width="11.2" height="2.76"/><rect x="862.19" y="732.94" width="11.2" height="2.76"/><rect x="877.2" y="732.94" width="11.2" height="2.76"/><rect x="892.21" y="732.94" width="11.2" height="2.76"/><rect x="907.21" y="732.94" width="11.2" height="2.76"/><rect x="922.22" y="732.94" width="11.2" height="2.76"/><rect x="937.23" y="732.94" width="11.2" height="2.76"/><rect x="952.23" y="732.94" width="11.2" height="2.76"/><rect x="967.24" y="732.94" width="11.2" height="2.76"/><rect x="982.25" y="732.94" width="11.2" height="2.76"/><rect x="997.25" y="732.94" width="11.2" height="2.76"/><rect x="1012.26" y="732.94" width="11.2" height="2.76"/><rect x="1027.27" y="732.94" width="11.2" height="2.76"/><rect x="1042.28" y="732.94" width="11.2" height="2.76"/><rect x="1057.28" y="732.94" width="11.2" height="2.76"/><rect x="1072.29" y="732.94" width="11.2" height="2.76"/><rect x="1087.3" y="732.94" width="11.2" height="2.76"/><rect x="1102.3" y="732.94" width="11.2" height="2.76"/><rect x="1117.31" y="732.94" width="11.2" height="2.76"/><rect x="1132.32" y="732.94" width="11.2" height="2.76"/><rect x="1147.33" y="732.94" width="11.2" height="2.76"/><rect x="1162.33" y="732.94" width="11.2" height="2.76"/><rect x="1177.34" y="732.94" width="11.2" height="2.76"/><rect x="1192.35" y="732.94" width="11.2" height="2.76"/><rect x="1207.35" y="732.94" width="11.2" height="2.76"/><rect x="1222.36" y="732.94" width="11.2" height="2.76"/><rect x="1237.37" y="732.94" width="11.2" height="2.76"/><rect x="1252.37" y="732.94" width="11.2" height="2.76"/><rect x="1267.38" y="732.94" width="11.2" height="2.76"/><rect x="1282.39" y="732.94" width="11.2" height="2.76"/><rect x="1297.39" y="732.94" width="11.2" height="2.76"/><rect x="1312.4" y="732.94" width="11.2" height="2.76"/><rect x="1327.41" y="732.94" width="11.2" height="2.76"/><rect x="1342.42" y="732.94" width="11.2" height="2.76"/><rect x="1357.42" y="732.94" width="11.2" height="2.76"/><rect x="1372.43" y="732.94" width="11.2" height="2.76"/><rect x="1387.44" y="732.94" width="11.2" height="2.76"/><rect x="1402.44" y="732.94" width="11.2" height="2.76"/><rect x="1417.45" y="732.94" width="11.2" height="2.76"/><rect x="1432.46" y="732.94" width="11.2" height="2.76"/><rect x="1447.47" y="732.94" width="11.2" height="2.76"/><rect x="1462.47" y="732.94" width="11.2" height="2.76"/><rect x="1477.48" y="732.94" width="11.2" height="2.76"/><rect x="1492.49" y="732.94" width="11.2" height="2.76"/><rect x="1507.49" y="732.94" width="11.2" height="2.76"/><rect x="1522.5" y="732.94" width="11.2" height="2.76"/><rect x="1537.51" y="732.94" width="11.2" height="2.76"/><rect x="1552.51" y="732.94" width="11.2" height="2.76"/><rect x="1567.52" y="732.94" width="11.2" height="2.76"/><rect x="1582.53" y="732.94" width="11.2" height="2.76"/><rect x="1597.54" y="732.94" width="11.2" height="2.76"/><rect x="1612.54" y="732.94" width="11.2" height="2.76"/></g>
<g font-size="15">
<text transform="translate(182.32 599.43) rotate(-45)">167</text>
<text transform="translate(197.33 629.01) rotate(-45)">128</text>
<text transform="translate(212.33 629.77) rotate(-45)">127</text>
<text transform="translate(227.34 692.73) rotate(-45)">44</text>
<text transform="translate(242.35 695) rotate(-45)">41</text>
<text transform="translate(257.36 701.83) rotate(-45)">32</text>
<text transform="translate(272.36 704.86) rotate(-45)">28</text>
<text transform="translate(287.37 707.14) rotate(-45)">25</text>
<text transform="translate(302.38 707.9) rotate(-45)">24</text>
<text transform="translate(317.38 712.45) rotate(-45)">18</text>
<text transform="translate(332.39 718.51) rotate(-45)">10</text>
<text transform="translate(347.4 720.79) rotate(-45)">7</text>
<text transform="translate(362.4 721.55) rotate(-45)">6</text>
<text transform="translate(377.41 722.31) rotate(-45)">5</text>
<text transform="translate(392.42 723.07) rotate(-45)">4</text>
<text transform="translate(407.43 723.07) rotate(-45)">4</text>
<text transform="translate(422.43 723.07) rotate(-45)">4</text>
<text transform="translate(437.44 723.07) rotate(-45)">4</text>
<text transform="translate(452.45 723.07) rotate(-45)">4</text>
<text transform="translate(467.45 723.82) rotate(-45)">3</text>
<text transform="translate(482.46 723.82) rotate(-45)">3</text>
<text transform="translate(497.47 723.82) rotate(-45)">3</text>
<text transform="translate(512.47 723.82) rotate(-45)">3</text>
<text transform="translate(527.48 724.58) rotate(-45)">2</text>
<text transform="translate(542.49 724.58) rotate(-45)">2</text>
<text transform="translate(557.5 724.58) rotate(-45)">2</text>
<text transform="translate(572.5 724.58) rotate(-45)">2</text>
<text transform="translate(587.51 724.58) rotate(-45)">2</text>
<text transform="translate(602.52 724.58) rotate(-45)">2</text>
<text transform="translate(617.52 724.58) rotate(-45)">2</text>
<text transform="translate(632.53 724.58) rotate(-45)">2</text>
<text transform="translate(647.54 724.58) rotate(-45)">2</text>
<text transform="translate(662.54 724.58) rotate(-45)">2</text>
<text transform="translate(677.55 724.58) rotate(-45)">2</text>
<text transform="translate(692.56 724.58) rotate(-45)">2</text>
<text transform="translate(707.57 725.34) rotate(-45)">1</text>
<text transform="translate(722.57 725.34) rotate(-45)">1</text>
<text transform="translate(737.58 725.34) rotate(-45)">1</text>
<text transform="translate(752.59 725.34) rotate(-45)">1</text>
<text transform="translate(767.59 725.34) rotate(-45)">1</text>
<text transform="translate(782.6 725.34) rotate(-45)">1</text>
<text transform="translate(797.61 725.34) rotate(-45)">1</text>
<text transform="translate(812.61 725.34) rotate(-45)">1</text>
<text transform="translate(827.62 725.34) rotate(-45)">1</text>
<text transform="translate(842.63 725.34) rotate(-45)">1</text>
<text transform="translate(857.63 725.34) rotate(-45)">1</text>
<text transform="translate(872.64 725.34) rotate(-45)">1</text>
<text transform="translate(887.65 725.34) rotate(-45)">1</text>
<text transform="translate(902.66 725.34) rotate(-45)">1</text>
<text transform="translate(917.66 725.34) rotate(-45)">1</text>
<text transform="translate(932.67 725.34) rotate(-45)">1</text>
<text transform="translate(947.68 725.34) rotate(-45)">1</text>
<text transform="translate(962.68 725.34) rotate(-45)">1</text>
<text transform="translate(977.69 725.34) rotate(-45)">1</text>
<text transform="translate(992.7 725.34) rotate(-45)">1</text>
<text transform="translate(1007.71 725.34) rotate(-45)">1</text>
<text transform="translate(1022.71 725.34) rotate(-45)">1</text>
<text transform="translate(1037.72 725.34) rotate(-45)">1</text>
<text transform="translate(1052.73 725.34) rotate(-45)">1</text>
<text transform="translate(1067.73 725.34) rotate(-45)">1</text>
<text transform="translate(1082.74 725.34) rotate(-45)">1</text>
<text transform="translate(1097.75 725.34) rotate(-45)">1</text>
<text transform="translate(1112.75 725.34) rotate(-45)">1</text>
<text transform="translate(1127.76 725.34) rotate(-45)">1</text>
<text transform="translate(1142.77 725.34) rotate(-45)">1</text>
<text transform="translate(1157.77 725.34) rotate(-45)">1</text>
<text transform="translate(1172.78 725.34) rotate(-45)">1</text>
<text transform="translate(1187.79 725.34) rotate(-45)">1</text>
<text transform="translate(1202.8 725.34) rotate(-45)">1</text>
<text transform="translate(1217.8 725.34) rotate(-45)">1</text>
<text transform="translate(1232.81 725.34) rotate(-45)">1</text>
<text transform="translate(1247.82 725.34) rotate(-45)">1</text>
<text transform="translate(1262.82 725.34) rotate(-45)">1</text>
<text transform="translate(1277.83 725.34) rotate(-45)">1</text>
<text transform="translate(1292.84 725.34) rotate(-45)">1</text>
<text transform="translate(1307.84 725.34) rotate(-45)">1</text>
<text transform="translate(1322.85 725.34) rotate(-45)">1</text>
<text transform="translate(1337.86 725.34) rotate(-45)">1</text>
<text transform="translate(1352.87 725.34) rotate(-45)">1</text>
<text transform="translate(1367.87 725.34) rotate(-45)">1</text>
<text transform="translate(1382.88 725.34) rotate(-45)">1</text>
<text transform="translate(1397.89 725.34) rotate(-45)">1</text>
<text transform="translate(1412.89 725.34) rotate(-45)">1</text>
<text transform="translate(1427.9 725.34) rotate(-45)">1</text>
<text transform="translate(1442.91 725.34) rotate(-45)">1</text>
<text transform="translate(1457.91 725.34) rotate(-45)">1</text>
<text transform="translate(1472.92 725.34) rotate(-45)">1</text>
<text transform="translate(1487.93 725.34) rotate(-45)">1</text>
<text transform="translate(1502.94 725.34) rotate(-45)">1</text>
<text transform="translate(1517.94 725.34) rotate(-45)">1</text>
<text transform="translate(1532.95 725.34) rotate(-45)">1</text>
<text transform="translate(1547.96 725.34) rotate(-45)">1</text>
<text transform="translate(1562.96 725.34) rotate(-45)">1</text>
<text transform="translate(1577.97 725.34) rotate(-45)">1</text>
<text transform="translate(1592.98 725.34) rotate(-45)">1</text>
<text transform="translate(1607.98 725.34) rotate(-45)">1</text>
<text transform="translate(1622.99 725.34) rotate(-45)">1</text>
</g>
<line x1="170.9" y1="560.4" x2="170.9" y2="735.6" stroke="#000" stroke-width="2"/>
<line x1="163.9" y1="734.6" x2="170.9" y2="734.6" stroke="#000" stroke-width="2"/>
<text x="159.4" y="740" text-anchor="end" font-size="15.4">0</text>
<line x1="163.9" y1="658.75" x2="170.9" y2="658.75" stroke="#000" stroke-width="2"/>
<text x="159.4" y="664.15" text-anchor="end" font-size="15.4">100</text>
<line x1="163.9" y1="582.9" x2="170.9" y2="582.9" stroke="#000" stroke-width="2"/>
<text x="159.4" y="588.3" text-anchor="end" font-size="15.4">200</text>
<text text-anchor="middle" transform="translate(101.8 638) rotate(-90)" font-size="24">Intersection</text>
<text text-anchor="middle" transform="translate(130 639) rotate(-90)" font-size="24">size</text>
<text x="160.2" y="759.49" text-anchor="end" font-size="22.9">THAL</text>
<text x="160.2" y="780.45" text-anchor="end" font-size="22.9">HEART</text>
<text x="161" y="801.4" text-anchor="end" font-size="22.9">SKIN</text>
<text x="161.5" y="822.36" text-anchor="end" font-size="22.9">CTX</text>
<text x="162.3" y="843.32" text-anchor="end" font-size="22.9">BG</text>
<text x="161.8" y="864.27" text-anchor="end" font-size="22.9">POA</text>
<text x="162.3" y="885.23" text-anchor="end" font-size="22.9">CB</text>
<text x="161.8" y="906.19" text-anchor="end" font-size="22.9">HIP</text>
<text x="158.5" y="927.15" text-anchor="end" font-size="22.9">KIDNEY</text>
<text x="160.2" y="948.1" text-anchor="end" font-size="22.9">LIVER</text>
<text x="157.7" y="969.06" text-anchor="end" font-size="22.9">ADRENAL</text>
<text x="161.8" y="990.02" text-anchor="end" font-size="22.9">OLF</text>
<rect x="1630.6" y="744.24" width="74.31" height="14.7" fill="#000"/>
<text x="1715.21" y="757.49" font-size="16">261</text>
<rect x="1630.6" y="765.2" width="70.97" height="14.7" fill="#000"/>
<text x="1711.87" y="778.45" font-size="16">249</text>
<rect x="1630.6" y="786.15" width="70.42" height="14.7" fill="#000"/>
<text x="1711.32" y="799.4" font-size="16">247</text>
<rect x="1630.6" y="807.11" width="57.64" height="14.7" fill="#000"/>
<text x="1698.54" y="820.36" font-size="16">201</text>
<rect x="1630.6" y="828.07" width="51.25" height="14.7" fill="#000"/>
<text x="1692.15" y="841.32" font-size="16">178</text>
<rect x="1630.6" y="849.02" width="46.53" height="14.7" fill="#000"/>
<text x="1687.43" y="862.27" font-size="16">161</text>
<rect x="1630.6" y="869.98" width="37.64" height="14.7" fill="#000"/>
<text x="1678.54" y="883.23" font-size="16">129</text>
<rect x="1630.6" y="890.94" width="35.69" height="14.7" fill="#000"/>
<text x="1676.59" y="904.19" font-size="16">122</text>
<rect x="1630.6" y="911.9" width="33.19" height="14.7" fill="#000"/>
<text x="1674.09" y="925.15" font-size="16">113</text>
<rect x="1630.6" y="932.85" width="27.91" height="14.7" fill="#000"/>
<text x="1668.81" y="946.1" font-size="16">94</text>
<rect x="1630.6" y="953.81" width="26.52" height="14.7" fill="#000"/>
<text x="1667.42" y="967.06" font-size="16">89</text>
<rect x="1630.6" y="974.77" width="24.58" height="14.7" fill="#000"/>
<text x="1665.48" y="988.02" font-size="16">82</text>
<line x1="1630.3" y1="992.7" x2="1748.4" y2="992.7" stroke="#000" stroke-width="2"/>
<line x1="1631.5" y1="992.7" x2="1631.5" y2="998.7" stroke="#000" stroke-width="2"/>
<text text-anchor="end" transform="translate(1637.1 1005.2) rotate(-90)" font-size="15.6">0</text>
<line x1="1686.4" y1="992.7" x2="1686.4" y2="998.7" stroke="#000" stroke-width="2"/>
<text text-anchor="end" transform="translate(1692 1005.2) rotate(-90)" font-size="15.6">200</text>
<line x1="1741.3" y1="992.7" x2="1741.3" y2="998.7" stroke="#000" stroke-width="2"/>
<text text-anchor="end" transform="translate(1746.9 1005.2) rotate(-90)" font-size="15.6">400</text>
<text x="1689" y="1055.1" text-anchor="middle" font-size="24.3">Set size</text>
<text x="939" y="583.7" text-anchor="middle" font-weight="bold" fill="#231f20" font-size="53">ID05</text>
<text x="12" y="583" font-weight="bold" font-size="51.5">b</text>
</g>
<g>
<path d="M171.3 1172.4 A111.2 111.2 0 0 1 249.93 1204.97 L203.12 1251.78 A45 45 0 0 0 171.3 1238.6 Z" fill="#56b6e8" stroke="#fff" stroke-width="2.8" stroke-linejoin="round"/>
<path d="M249.93 1204.97 A111.2 111.2 0 0 1 265.19 1224.02 L209.29 1259.49 A45 45 0 0 0 203.12 1251.78 Z" fill="#000000" stroke="#fff" stroke-width="2.8" stroke-linejoin="round"/>
<path d="M265.19 1224.02 A111.2 111.2 0 1 1 60.66 1272.44 L126.53 1279.08 A45 45 0 1 0 209.29 1259.49 Z" fill="#d73b31" stroke="#fff" stroke-width="2.8" stroke-linejoin="round"/>
<path d="M60.66 1272.44 A111.2 111.2 0 0 1 75.23 1227.6 L132.42 1260.94 A45 45 0 0 0 126.53 1279.08 Z" fill="#cccccc" stroke="#fff" stroke-width="2.8" stroke-linejoin="round"/>
<path d="M75.23 1227.6 A111.2 111.2 0 0 1 148.41 1174.78 L162.04 1239.56 A45 45 0 0 0 132.42 1260.94 Z" fill="#a6cd6c" stroke="#fff" stroke-width="2.8" stroke-linejoin="round"/>
<path d="M148.41 1174.78 A111.2 111.2 0 0 1 171.3 1172.4 L171.3 1238.6 A45 45 0 0 0 162.04 1239.56 Z" fill="#edc9c6" stroke="#fff" stroke-width="2.8" stroke-linejoin="round"/>
<rect x="186.2" y="1169.8" width="77.9" height="26.2" rx="3" ry="3" fill="#fff" stroke="#000" stroke-width="1.7"/>
<text x="225.15" y="1190.5" text-anchor="middle" font-size="20.5">12.5 %</text>
<rect x="110.9" y="1163.6" width="65.4" height="25.8" rx="3" ry="3" fill="#fff" stroke="#000" stroke-width="1.7"/>
<text x="143.6" y="1184.1" text-anchor="middle" font-size="20.5">3.3 %</text>
<rect x="62.2" y="1216.9" width="76.4" height="26.1" rx="3" ry="3" fill="#fff" stroke="#000" stroke-width="1.7"/>
<text x="100.4" y="1237.55" text-anchor="middle" font-size="20.5">13.3 %</text>
<rect x="226.5" y="1233.6" width="65.3" height="26.2" rx="3" ry="3" fill="#fff" stroke="#000" stroke-width="1.7"/>
<text x="259.15" y="1254.3" text-anchor="middle" font-size="20.5">3.5 %</text>
<rect x="37.1" y="1261.9" width="65.4" height="26.1" rx="3" ry="3" fill="#fff" stroke="#000" stroke-width="1.7"/>
<text x="69.8" y="1282.55" text-anchor="middle" font-size="20.5">6.8 %</text>
<rect x="134.7" y="1376.4" width="77.1" height="25.6" rx="3" ry="3" fill="#fff" stroke="#000" stroke-width="1.7"/>
<text x="173.25" y="1396.8" text-anchor="middle" font-size="20.5">60.6 %</text>
<text x="164.5" y="1131.5" text-anchor="middle" font-size="21.3">Total mutations: 368</text>
<rect x="306" y="1212.5" width="20.2" height="20.2" fill="#56b6e8"/>
<text x="336.6" y="1229.9" font-size="20.9">C&gt;A</text>
<rect x="306" y="1238.7" width="20.2" height="20.2" fill="#000000"/>
<text x="336.6" y="1256.1" font-size="20.9">C&gt;G</text>
<rect x="306" y="1264.9" width="20.2" height="20.2" fill="#d73b31"/>
<text x="336.6" y="1282.3" font-size="20.9">C&gt;T</text>
<rect x="306" y="1291.1" width="20.2" height="20.2" fill="#cccccc"/>
<text x="336.6" y="1308.5" font-size="20.9">T&gt;A</text>
<rect x="306" y="1317.3" width="20.2" height="20.2" fill="#a6cd6c"/>
<text x="336.6" y="1334.7" font-size="20.9">T&gt;C</text>
<rect x="306" y="1343.5" width="20.2" height="20.2" fill="#edc9c6"/>
<text x="336.6" y="1360.9" font-size="20.9">T&gt;G</text>
<text x="11.7" y="1097.9" font-weight="bold" font-size="51.5">c</text>
</g>
<g>
<rect x="136.2" y="1524.5" width="128.65" height="44.4" fill="#619cff"/>
<text x="0.5" y="1552.7" font-size="23.3">Signature 1</text>
<text x="268.59" y="1556.3" font-size="32.6">54.1%</text>
<rect x="136.2" y="1579.4" width="86.08" height="44.4" fill="#00ba38"/>
<text x="0.5" y="1607.6" font-size="23.3">Signature 5</text>
<text x="226.92" y="1615.7" font-size="32.6">36.2%</text>
<rect x="136.2" y="1633" width="22.83" height="44.7" fill="#f8766d"/>
<text x="0.5" y="1661.2" font-size="23.3">Signature 7</text>
<text x="165" y="1668.8" font-size="32.6">9.6%</text>
<line x1="135.1" y1="1686.9" x2="375.5" y2="1686.9" stroke="#000" stroke-width="2.7"/>
<line x1="136.4" y1="1686.9" x2="136.4" y2="1697.5" stroke="#000" stroke-width="2.6"/>
<text x="136.8" y="1721.6" text-anchor="middle" font-size="28.8">0</text>
<line x1="195.85" y1="1686.9" x2="195.85" y2="1697.5" stroke="#000" stroke-width="2.6"/>
<text x="185.4" y="1721.6" text-anchor="middle" font-size="28.8">25</text>
<line x1="255.3" y1="1686.9" x2="255.3" y2="1697.5" stroke="#000" stroke-width="2.6"/>
<text x="244.2" y="1721.6" text-anchor="middle" font-size="28.8">50</text>
<line x1="314.75" y1="1686.9" x2="314.75" y2="1697.5" stroke="#000" stroke-width="2.6"/>
<text x="304" y="1721.6" text-anchor="middle" font-size="28.8">75</text>
<line x1="374.2" y1="1686.9" x2="374.2" y2="1697.5" stroke="#000" stroke-width="2.6"/>
<text x="369" y="1721.6" text-anchor="middle" font-size="28.8">100</text>
<text x="205.5" y="1911.8" text-anchor="middle" font-size="33.3">Cosine Similarity: 0.952</text>
</g>
<g>
<rect x="517.9" y="1115.8" width="201" height="30.9" fill="#d9d9d9"/>
<text x="618.4" y="1137.8" text-anchor="middle" fill="#111" font-size="18.2" stroke="#111" stroke-width="0.3">C&gt;A</text>
<rect x="726.4" y="1115.8" width="201" height="30.9" fill="#d9d9d9"/>
<text x="826.9" y="1137.8" text-anchor="middle" fill="#111" font-size="18.2" stroke="#111" stroke-width="0.3">C&gt;G</text>
<rect x="934.9" y="1115.8" width="201" height="30.9" fill="#d9d9d9"/>
<text x="1035.4" y="1137.8" text-anchor="middle" fill="#111" font-size="18.2" stroke="#111" stroke-width="0.3">C&gt;T</text>
<rect x="1143.4" y="1115.8" width="201" height="30.9" fill="#d9d9d9"/>
<text x="1243.9" y="1137.8" text-anchor="middle" fill="#111" font-size="18.2" stroke="#111" stroke-width="0.3">T&gt;A</text>
<rect x="1351.9" y="1115.8" width="201" height="30.9" fill="#d9d9d9"/>
<text x="1452.4" y="1137.8" text-anchor="middle" fill="#111" font-size="18.2" stroke="#111" stroke-width="0.3">T&gt;C</text>
<rect x="1560.4" y="1115.8" width="201" height="30.9" fill="#d9d9d9"/>
<text x="1660.9" y="1137.8" text-anchor="middle" fill="#111" font-size="18.2" stroke="#111" stroke-width="0.3">T&gt;G</text>
<g fill="#56b6e8"><rect x="519.2" y="1385.57" width="12.62" height="6.43"/><rect x="531.57" y="1372.7" width="12.62" height="19.3"/><rect x="543.94" y="1372.7" width="12.62" height="19.3"/><rect x="556.31" y="1372.7" width="12.62" height="19.3"/><rect x="568.68" y="1359.84" width="12.62" height="32.16"/><rect x="581.05" y="1379.14" width="12.62" height="12.86"/><rect x="593.42" y="1366.27" width="12.62" height="25.73"/><rect x="605.79" y="1372.7" width="12.62" height="19.3"/><rect x="618.16" y="1359.84" width="12.62" height="32.16"/><rect x="630.53" y="1366.27" width="12.62" height="25.73"/><rect x="642.9" y="1385.57" width="12.62" height="6.43"/><rect x="655.27" y="1379.14" width="12.62" height="12.86"/><rect x="667.64" y="1372.7" width="12.62" height="19.3"/><rect x="680.01" y="1385.57" width="12.62" height="6.43"/><rect x="692.38" y="1379.14" width="12.62" height="12.86"/><rect x="704.75" y="1366.27" width="12.37" height="25.73"/></g>
<g stroke="#fff" stroke-width="1" opacity="0.75"><line x1="531.57" y1="1385.57" x2="531.57" y2="1392"/><line x1="556.31" y1="1372.7" x2="556.31" y2="1392"/><line x1="581.05" y1="1359.84" x2="581.05" y2="1392"/><line x1="605.79" y1="1366.27" x2="605.79" y2="1392"/><line x1="630.53" y1="1359.84" x2="630.53" y2="1392"/><line x1="655.27" y1="1385.57" x2="655.27" y2="1392"/><line x1="680.01" y1="1372.7" x2="680.01" y2="1392"/><line x1="704.75" y1="1379.14" x2="704.75" y2="1392"/></g>
<g fill="#000000"><rect x="727.7" y="1385.57" width="12.62" height="6.43"/><rect x="740.37" y="1391.1" width="11.77" height="0.9" fill="#555" opacity="1"/><rect x="752.74" y="1391.1" width="11.77" height="0.9" fill="#555" opacity="1"/><rect x="764.81" y="1385.57" width="12.62" height="6.43"/><rect x="777.48" y="1391.1" width="11.77" height="0.9" fill="#555" opacity="1"/><rect x="789.85" y="1391.1" width="11.77" height="0.9" fill="#555" opacity="1"/><rect x="802.22" y="1391.1" width="11.77" height="0.9" fill="#555" opacity="1"/><rect x="814.59" y="1391.1" width="11.77" height="0.9" fill="#555" opacity="1"/><rect x="826.66" y="1379.14" width="12.62" height="12.86"/><rect x="839.03" y="1385.57" width="12.62" height="6.43"/><rect x="851.4" y="1379.14" width="12.62" height="12.86"/><rect x="863.77" y="1385.57" width="12.62" height="6.43"/><rect x="876.14" y="1379.14" width="12.62" height="12.86"/><rect x="888.51" y="1379.14" width="12.62" height="12.86"/><rect x="900.88" y="1385.57" width="12.62" height="6.43"/><rect x="913.55" y="1391.1" width="11.77" height="0.9" fill="#555" opacity="1"/></g>
<g fill="#d73b31"><rect x="936.2" y="1295.52" width="12.62" height="96.48"/><rect x="948.57" y="1359.84" width="12.62" height="32.16"/><rect x="960.94" y="1160.45" width="12.62" height="231.55"/><rect x="973.31" y="1308.38" width="12.62" height="83.62"/><rect x="985.68" y="1340.54" width="12.62" height="51.46"/><rect x="998.05" y="1346.98" width="12.62" height="45.02"/><rect x="1010.42" y="1244.06" width="12.62" height="147.94"/><rect x="1022.79" y="1289.09" width="12.62" height="102.91"/><rect x="1035.16" y="1340.54" width="12.62" height="51.46"/><rect x="1047.53" y="1346.98" width="12.62" height="45.02"/><rect x="1059.9" y="1276.22" width="12.62" height="115.78"/><rect x="1072.27" y="1327.68" width="12.62" height="64.32"/><rect x="1084.64" y="1321.25" width="12.62" height="70.75"/><rect x="1097.01" y="1308.38" width="12.62" height="83.62"/><rect x="1109.38" y="1244.06" width="12.62" height="147.94"/><rect x="1121.75" y="1327.68" width="12.37" height="64.32"/></g>
<g stroke="#fff" stroke-width="1" opacity="0.75"><line x1="960.94" y1="1359.84" x2="960.94" y2="1392"/><line x1="985.68" y1="1308.38" x2="985.68" y2="1392"/><line x1="1010.42" y1="1346.98" x2="1010.42" y2="1392"/><line x1="1035.16" y1="1289.09" x2="1035.16" y2="1392"/><line x1="1059.9" y1="1346.98" x2="1059.9" y2="1392"/><line x1="1084.64" y1="1327.68" x2="1084.64" y2="1392"/><line x1="1109.38" y1="1308.38" x2="1109.38" y2="1392"/></g>
<g fill="#cccccc"><rect x="1144.7" y="1385.57" width="12.62" height="6.43"/><rect x="1157.37" y="1391.2" width="11.77" height="0.8" fill="#cccccc" opacity="0.6"/><rect x="1169.44" y="1366.27" width="12.62" height="25.73"/><rect x="1181.81" y="1379.14" width="12.62" height="12.86"/><rect x="1194.18" y="1385.57" width="12.62" height="6.43"/><rect x="1206.55" y="1385.57" width="12.62" height="6.43"/><rect x="1218.92" y="1372.7" width="12.62" height="19.3"/><rect x="1231.29" y="1372.7" width="12.62" height="19.3"/><rect x="1243.66" y="1385.57" width="12.62" height="6.43"/><rect x="1256.03" y="1366.27" width="12.62" height="25.73"/><rect x="1268.4" y="1379.14" width="12.62" height="12.86"/><rect x="1281.07" y="1391.2" width="11.77" height="0.8" fill="#cccccc" opacity="0.6"/><rect x="1293.44" y="1391.2" width="11.77" height="0.8" fill="#cccccc" opacity="0.6"/><rect x="1305.51" y="1379.14" width="12.62" height="12.86"/><rect x="1318.18" y="1391.2" width="11.77" height="0.8" fill="#cccccc" opacity="0.6"/><rect x="1330.25" y="1385.57" width="12.37" height="6.43"/></g>
<g stroke="#fff" stroke-width="1" opacity="0.75"><line x1="1194.18" y1="1379.14" x2="1194.18" y2="1392"/><line x1="1218.92" y1="1385.57" x2="1218.92" y2="1392"/><line x1="1243.66" y1="1372.7" x2="1243.66" y2="1392"/><line x1="1268.4" y1="1366.27" x2="1268.4" y2="1392"/><line x1="1317.88" y1="1379.14" x2="1317.88" y2="1392"/></g>
<g fill="#a6cd6c"><rect x="1353.2" y="1372.7" width="12.62" height="19.3"/><rect x="1365.57" y="1372.7" width="12.62" height="19.3"/><rect x="1377.94" y="1379.14" width="12.62" height="12.86"/><rect x="1390.31" y="1334.11" width="12.62" height="57.89"/><rect x="1402.68" y="1353.41" width="12.62" height="38.59"/><rect x="1415.35" y="1391.2" width="11.77" height="0.8" fill="#a6cd6c" opacity="0.6"/><rect x="1427.42" y="1366.27" width="12.62" height="25.73"/><rect x="1439.79" y="1372.7" width="12.62" height="19.3"/><rect x="1452.16" y="1359.84" width="12.62" height="32.16"/><rect x="1464.53" y="1372.7" width="12.62" height="19.3"/><rect x="1476.9" y="1385.57" width="12.62" height="6.43"/><rect x="1489.27" y="1385.57" width="12.62" height="6.43"/><rect x="1501.64" y="1379.14" width="12.62" height="12.86"/><rect x="1514.01" y="1372.7" width="12.62" height="19.3"/><rect x="1526.38" y="1385.57" width="12.62" height="6.43"/><rect x="1538.75" y="1372.7" width="12.37" height="19.3"/></g>
<g stroke="#fff" stroke-width="1" opacity="0.75"><line x1="1377.94" y1="1372.7" x2="1377.94" y2="1392"/><line x1="1402.68" y1="1334.11" x2="1402.68" y2="1392"/><line x1="1452.16" y1="1372.7" x2="1452.16" y2="1392"/><line x1="1476.9" y1="1372.7" x2="1476.9" y2="1392"/><line x1="1501.64" y1="1385.57" x2="1501.64" y2="1392"/><line x1="1526.38" y1="1372.7" x2="1526.38" y2="1392"/></g>
<g fill="#edc9c6"><rect x="1561.7" y="1366.27" width="12.62" height="25.73"/><rect x="1574.37" y="1391.2" width="11.77" height="0.8" fill="#edc9c6" opacity="0.6"/><rect x="1586.44" y="1379.14" width="12.62" height="12.86"/><rect x="1599.11" y="1391.2" width="11.77" height="0.8" fill="#edc9c6" opacity="0.6"/><rect x="1611.48" y="1391.2" width="11.77" height="0.8" fill="#edc9c6" opacity="0.6"/><rect x="1623.55" y="1385.57" width="12.62" height="6.43"/><rect x="1636.22" y="1391.2" width="11.77" height="0.8" fill="#edc9c6" opacity="0.6"/><rect x="1648.59" y="1391.2" width="11.77" height="0.8" fill="#edc9c6" opacity="0.6"/><rect x="1660.96" y="1391.2" width="11.77" height="0.8" fill="#edc9c6" opacity="0.6"/><rect x="1673.03" y="1385.57" width="12.62" height="6.43"/><rect x="1685.7" y="1391.2" width="11.77" height="0.8" fill="#edc9c6" opacity="0.6"/><rect x="1698.07" y="1391.2" width="11.77" height="0.8" fill="#edc9c6" opacity="0.6"/><rect x="1710.44" y="1391.2" width="11.77" height="0.8" fill="#edc9c6" opacity="0.6"/><rect x="1722.51" y="1385.57" width="12.62" height="6.43"/><rect x="1734.88" y="1379.14" width="12.62" height="12.86"/><rect x="1747.25" y="1385.57" width="12.37" height="6.43"/></g>
<g stroke="#fff" stroke-width="1" opacity="0.75"><line x1="1635.92" y1="1385.57" x2="1635.92" y2="1392"/><line x1="1685.4" y1="1385.57" x2="1685.4" y2="1392"/><line x1="1734.88" y1="1385.57" x2="1734.88" y2="1392"/></g>
<line x1="518" y1="1153.9" x2="518" y2="1392.5" stroke="#000" stroke-width="2.8"/>
<line x1="511.5" y1="1390.5" x2="518" y2="1390.5" stroke="#000" stroke-width="2.8"/>
<text x="504.5" y="1403.2" text-anchor="end" font-size="31.3">0.0</text>
<line x1="511.5" y1="1332.83" x2="518" y2="1332.83" stroke="#000" stroke-width="2.8"/>
<text x="504.5" y="1344.03" text-anchor="end" font-size="31.3">2.5</text>
<line x1="511.5" y1="1273.65" x2="518" y2="1273.65" stroke="#000" stroke-width="2.8"/>
<text x="504.5" y="1284.85" text-anchor="end" font-size="31.3">5.0</text>
<line x1="511.5" y1="1214.47" x2="518" y2="1214.47" stroke="#000" stroke-width="2.8"/>
<text x="504.5" y="1225.67" text-anchor="end" font-size="31.3">7.5</text>
<line x1="511.5" y1="1155.3" x2="518" y2="1155.3" stroke="#000" stroke-width="2.8"/>
<text x="504.5" y="1166.5" text-anchor="end" font-size="31.3">10.0</text>
<text text-anchor="middle" transform="translate(434.3 1266.2) rotate(-90)" font-size="33.3">Observed spectrum (%)</text>
</g>
<g>
<rect x="517.9" y="1443.5" width="201" height="30.3" fill="#d9d9d9"/>
<text x="618.4" y="1465.9" text-anchor="middle" fill="#111" font-size="18.2" stroke="#111" stroke-width="0.3">C&gt;A</text>
<rect x="726.4" y="1443.5" width="201" height="30.3" fill="#d9d9d9"/>
<text x="826.9" y="1465.9" text-anchor="middle" fill="#111" font-size="18.2" stroke="#111" stroke-width="0.3">C&gt;G</text>
<rect x="934.9" y="1443.5" width="201" height="30.3" fill="#d9d9d9"/>
<text x="1035.4" y="1465.9" text-anchor="middle" fill="#111" font-size="18.2" stroke="#111" stroke-width="0.3">C&gt;T</text>
<rect x="1143.4" y="1443.5" width="201" height="30.3" fill="#d9d9d9"/>
<text x="1243.9" y="1465.9" text-anchor="middle" fill="#111" font-size="18.2" stroke="#111" stroke-width="0.3">T&gt;A</text>
<rect x="1351.9" y="1443.5" width="201" height="30.3" fill="#d9d9d9"/>
<text x="1452.4" y="1465.9" text-anchor="middle" fill="#111" font-size="18.2" stroke="#111" stroke-width="0.3">T&gt;C</text>
<rect x="1560.4" y="1443.5" width="201" height="30.3" fill="#d9d9d9"/>
<text x="1660.9" y="1465.9" text-anchor="middle" fill="#111" font-size="18.2" stroke="#111" stroke-width="0.3">T&gt;G</text>
<g fill="#56b6e8"><rect x="519.2" y="1692.27" width="12.62" height="27.43"/><rect x="531.57" y="1700.31" width="12.62" height="19.39"/><rect x="543.94" y="1715.44" width="12.62" height="4.26"/><rect x="556.31" y="1703.62" width="12.62" height="16.08"/><rect x="568.68" y="1702.91" width="12.62" height="16.79"/><rect x="581.05" y="1705.75" width="12.62" height="13.95"/><rect x="593.42" y="1715.44" width="12.62" height="4.26"/><rect x="605.79" y="1700.31" width="12.62" height="19.39"/><rect x="618.16" y="1698.65" width="12.62" height="21.05"/><rect x="630.53" y="1704.33" width="12.62" height="15.37"/><rect x="642.9" y="1716.39" width="12.62" height="3.31"/><rect x="655.27" y="1705.04" width="12.62" height="14.66"/><rect x="667.64" y="1690.85" width="12.62" height="28.85"/><rect x="680.01" y="1694.63" width="12.62" height="25.07"/><rect x="692.38" y="1712.84" width="12.62" height="6.86"/><rect x="704.75" y="1683.99" width="12.37" height="35.71"/></g>
<g stroke="#fff" stroke-width="1" opacity="0.75"><line x1="543.94" y1="1700.31" x2="543.94" y2="1719.7"/><line x1="568.68" y1="1703.62" x2="568.68" y2="1719.7"/><line x1="593.42" y1="1705.75" x2="593.42" y2="1719.7"/><line x1="618.16" y1="1700.31" x2="618.16" y2="1719.7"/><line x1="642.9" y1="1704.33" x2="642.9" y2="1719.7"/><line x1="667.64" y1="1705.04" x2="667.64" y2="1719.7"/><line x1="692.38" y1="1694.63" x2="692.38" y2="1719.7"/></g>
<g fill="#000000"><rect x="727.7" y="1707.4" width="12.62" height="12.3"/><rect x="740.37" y="1718.8" width="11.77" height="0.9" fill="#555" opacity="1"/><rect x="752.74" y="1718.8" width="11.77" height="0.9" fill="#555" opacity="1"/><rect x="764.81" y="1705.75" width="12.62" height="13.95"/><rect x="777.48" y="1718.8" width="11.77" height="0.9" fill="#555" opacity="1"/><rect x="789.85" y="1718.8" width="11.77" height="0.9" fill="#555" opacity="1"/><rect x="802.22" y="1718.8" width="11.77" height="0.9" fill="#555" opacity="1"/><rect x="814.59" y="1718.8" width="11.77" height="0.9" fill="#555" opacity="1"/><rect x="826.66" y="1714.02" width="12.62" height="5.68"/><rect x="839.03" y="1711.66" width="12.62" height="8.04"/><rect x="851.4" y="1718.52" width="12.62" height="1.18"/><rect x="863.77" y="1713.08" width="12.62" height="6.62"/><rect x="876.14" y="1714.73" width="12.62" height="4.97"/><rect x="888.51" y="1710" width="12.62" height="9.7"/><rect x="900.88" y="1718.04" width="12.62" height="1.66"/><rect x="913.55" y="1718.8" width="11.77" height="0.9" fill="#555" opacity="1"/></g>
<g fill="#d73b31"><rect x="936.2" y="1663.18" width="12.62" height="56.52"/><rect x="948.57" y="1686.12" width="12.62" height="33.58"/><rect x="960.94" y="1485.57" width="12.62" height="234.13"/><rect x="973.31" y="1688.48" width="12.62" height="31.22"/><rect x="985.68" y="1656.55" width="12.62" height="63.15"/><rect x="998.05" y="1657.97" width="12.62" height="61.73"/><rect x="1010.42" y="1581.82" width="12.62" height="137.88"/><rect x="1022.79" y="1662.23" width="12.62" height="57.47"/><rect x="1035.16" y="1670.27" width="12.62" height="49.43"/><rect x="1047.53" y="1664.6" width="12.62" height="55.1"/><rect x="1059.9" y="1575.91" width="12.62" height="143.79"/><rect x="1072.27" y="1676.66" width="12.62" height="43.04"/><rect x="1084.64" y="1664.6" width="12.62" height="55.1"/><rect x="1097.01" y="1613.75" width="12.62" height="105.95"/><rect x="1109.38" y="1593.88" width="12.62" height="125.82"/><rect x="1121.75" y="1672.87" width="12.37" height="46.83"/></g>
<g stroke="#fff" stroke-width="1" opacity="0.75"><line x1="960.94" y1="1686.12" x2="960.94" y2="1719.7"/><line x1="985.68" y1="1688.48" x2="985.68" y2="1719.7"/><line x1="1010.42" y1="1657.97" x2="1010.42" y2="1719.7"/><line x1="1035.16" y1="1662.23" x2="1035.16" y2="1719.7"/><line x1="1059.9" y1="1664.6" x2="1059.9" y2="1719.7"/><line x1="1084.64" y1="1676.66" x2="1084.64" y2="1719.7"/><line x1="1109.38" y1="1613.75" x2="1109.38" y2="1719.7"/></g>
<g fill="#cccccc"><rect x="1144.7" y="1706.69" width="12.62" height="13.01"/><rect x="1157.37" y="1718.9" width="11.77" height="0.8" fill="#cccccc" opacity="0.6"/><rect x="1169.44" y="1705.98" width="12.62" height="13.72"/><rect x="1181.81" y="1698.65" width="12.62" height="21.05"/><rect x="1194.18" y="1713.91" width="12.62" height="5.79"/><rect x="1206.55" y="1711.42" width="12.62" height="8.28"/><rect x="1218.92" y="1708.35" width="12.62" height="11.35"/><rect x="1231.29" y="1707.4" width="12.62" height="12.3"/><rect x="1243.66" y="1713.08" width="12.62" height="6.62"/><rect x="1256.03" y="1715.44" width="12.62" height="4.26"/><rect x="1268.4" y="1712.37" width="12.62" height="7.33"/><rect x="1281.07" y="1718.9" width="11.77" height="0.8" fill="#cccccc" opacity="0.6"/><rect x="1293.44" y="1718.9" width="11.77" height="0.8" fill="#cccccc" opacity="0.6"/><rect x="1305.51" y="1710.71" width="12.62" height="8.99"/><rect x="1318.18" y="1718.9" width="11.77" height="0.8" fill="#cccccc" opacity="0.6"/><rect x="1330.25" y="1704.09" width="12.37" height="15.61"/></g>
<g stroke="#fff" stroke-width="1" opacity="0.75"><line x1="1194.18" y1="1698.65" x2="1194.18" y2="1719.7"/><line x1="1218.92" y1="1711.42" x2="1218.92" y2="1719.7"/><line x1="1243.66" y1="1707.4" x2="1243.66" y2="1719.7"/><line x1="1268.4" y1="1715.44" x2="1268.4" y2="1719.7"/><line x1="1317.88" y1="1710.71" x2="1317.88" y2="1719.7"/></g>
<g fill="#a6cd6c"><rect x="1353.2" y="1671.45" width="12.62" height="48.25"/><rect x="1365.57" y="1699.6" width="12.62" height="20.1"/><rect x="1377.94" y="1681.86" width="12.62" height="37.84"/><rect x="1390.31" y="1684.46" width="12.62" height="35.24"/><rect x="1402.68" y="1701.96" width="12.62" height="17.74"/><rect x="1415.35" y="1718.9" width="11.77" height="0.8" fill="#a6cd6c" opacity="0.6"/><rect x="1427.42" y="1693.92" width="12.62" height="25.78"/><rect x="1439.79" y="1693.21" width="12.62" height="26.49"/><rect x="1452.16" y="1690.85" width="12.62" height="28.85"/><rect x="1464.53" y="1701.96" width="12.62" height="17.74"/><rect x="1476.9" y="1701.02" width="12.62" height="18.68"/><rect x="1489.27" y="1690.85" width="12.62" height="28.85"/><rect x="1501.64" y="1693.92" width="12.62" height="25.78"/><rect x="1514.01" y="1700.31" width="12.62" height="19.39"/><rect x="1526.38" y="1697.94" width="12.62" height="21.76"/><rect x="1538.75" y="1696.29" width="12.37" height="23.41"/></g>
<g stroke="#fff" stroke-width="1" opacity="0.75"><line x1="1377.94" y1="1699.6" x2="1377.94" y2="1719.7"/><line x1="1402.68" y1="1684.46" x2="1402.68" y2="1719.7"/><line x1="1452.16" y1="1693.21" x2="1452.16" y2="1719.7"/><line x1="1476.9" y1="1701.96" x2="1476.9" y2="1719.7"/><line x1="1501.64" y1="1690.85" x2="1501.64" y2="1719.7"/><line x1="1526.38" y1="1700.31" x2="1526.38" y2="1719.7"/></g>
<g fill="#edc9c6"><rect x="1561.7" y="1714.73" width="12.62" height="4.97"/><rect x="1574.37" y="1718.9" width="11.77" height="0.8" fill="#edc9c6" opacity="0.6"/><rect x="1586.44" y="1713.08" width="12.62" height="6.62"/><rect x="1599.11" y="1718.9" width="11.77" height="0.8" fill="#edc9c6" opacity="0.6"/><rect x="1611.48" y="1718.9" width="11.77" height="0.8" fill="#edc9c6" opacity="0.6"/><rect x="1623.55" y="1713.91" width="12.62" height="5.79"/><rect x="1636.22" y="1718.9" width="11.77" height="0.8" fill="#edc9c6" opacity="0.6"/><rect x="1648.59" y="1718.9" width="11.77" height="0.8" fill="#edc9c6" opacity="0.6"/><rect x="1660.96" y="1718.9" width="11.77" height="0.8" fill="#edc9c6" opacity="0.6"/><rect x="1673.33" y="1718.9" width="11.77" height="0.8" fill="#edc9c6" opacity="0.6"/><rect x="1685.7" y="1718.9" width="11.77" height="0.8" fill="#edc9c6" opacity="0.6"/><rect x="1698.07" y="1718.9" width="11.77" height="0.8" fill="#edc9c6" opacity="0.6"/><rect x="1710.44" y="1718.9" width="11.77" height="0.8" fill="#edc9c6" opacity="0.6"/><rect x="1722.51" y="1713.08" width="12.62" height="6.62"/><rect x="1734.88" y="1711.42" width="12.62" height="8.28"/><rect x="1747.25" y="1702.67" width="12.37" height="17.03"/></g>
<g stroke="#fff" stroke-width="1" opacity="0.75"><line x1="1635.92" y1="1713.91" x2="1635.92" y2="1719.7"/><line x1="1734.88" y1="1713.08" x2="1734.88" y2="1719.7"/></g>
<line x1="518" y1="1481.8" x2="518" y2="1720.2" stroke="#000" stroke-width="2.8"/>
<line x1="511.5" y1="1718.2" x2="518" y2="1718.2" stroke="#000" stroke-width="2.8"/>
<text x="507.8" y="1730.9" text-anchor="end" font-size="31.3">0.0</text>
<line x1="511.5" y1="1660.58" x2="518" y2="1660.58" stroke="#000" stroke-width="2.8"/>
<text x="507.8" y="1671.78" text-anchor="end" font-size="31.3">2.5</text>
<line x1="511.5" y1="1601.45" x2="518" y2="1601.45" stroke="#000" stroke-width="2.8"/>
<text x="507.8" y="1612.65" text-anchor="end" font-size="31.3">5.0</text>
<line x1="511.5" y1="1542.33" x2="518" y2="1542.33" stroke="#000" stroke-width="2.8"/>
<text x="507.8" y="1553.53" text-anchor="end" font-size="31.3">7.5</text>
<line x1="511.5" y1="1483.2" x2="518" y2="1483.2" stroke="#000" stroke-width="2.8"/>
<text x="507.8" y="1494.4" text-anchor="end" font-size="31.3">10.0</text>
<text text-anchor="middle" transform="translate(434.3 1597.3) rotate(-90)" font-size="33.3">MLE signatures (%)</text>
</g>
<g>
<rect x="520.1" y="1772" width="200.6" height="30.7" fill="#d9d9d9"/>
<text x="620.4" y="1794" text-anchor="middle" fill="#111" font-size="18.2" stroke="#111" stroke-width="0.3">C&gt;A</text>
<rect x="728.3" y="1772" width="200.6" height="30.7" fill="#d9d9d9"/>
<text x="828.6" y="1794" text-anchor="middle" fill="#111" font-size="18.2" stroke="#111" stroke-width="0.3">C&gt;G</text>
<rect x="936.5" y="1772" width="200.6" height="30.7" fill="#d9d9d9"/>
<text x="1036.8" y="1794" text-anchor="middle" fill="#111" font-size="18.2" stroke="#111" stroke-width="0.3">C&gt;T</text>
<rect x="1144.7" y="1772" width="200.6" height="30.7" fill="#d9d9d9"/>
<text x="1245" y="1794" text-anchor="middle" fill="#111" font-size="18.2" stroke="#111" stroke-width="0.3">T&gt;A</text>
<rect x="1352.9" y="1772" width="200.6" height="30.7" fill="#d9d9d9"/>
<text x="1453.2" y="1794" text-anchor="middle" fill="#111" font-size="18.2" stroke="#111" stroke-width="0.3">T&gt;C</text>
<rect x="1561.1" y="1772" width="200.6" height="30.7" fill="#d9d9d9"/>
<text x="1661.4" y="1794" text-anchor="middle" fill="#111" font-size="18.2" stroke="#111" stroke-width="0.3">T&gt;G</text>
<g fill="#56b6e8"><rect x="522.4" y="1951.1" width="12.58" height="16.12"/><rect x="535.03" y="1950.3" width="11.73" height="0.8" fill="#56b6e8" opacity="0.6"/><rect x="547.06" y="1939.57" width="12.58" height="11.53"/><rect x="559.39" y="1948.65" width="12.58" height="2.45"/><rect x="571.72" y="1939.33" width="12.58" height="11.77"/><rect x="584.05" y="1951.1" width="12.58" height="0.84"/><rect x="596.38" y="1934.64" width="12.58" height="16.46"/><rect x="609.01" y="1950.3" width="11.73" height="0.8" fill="#56b6e8" opacity="0.6"/><rect x="621.04" y="1942.59" width="12.58" height="8.51"/><rect x="633.37" y="1943.17" width="12.58" height="7.93"/><rect x="645.7" y="1948.71" width="12.58" height="2.39"/><rect x="658.03" y="1951.1" width="12.58" height="1.39"/><rect x="670.36" y="1951.1" width="12.58" height="7.35"/><rect x="682.69" y="1951.1" width="12.58" height="14.31"/><rect x="695.02" y="1946.5" width="12.58" height="4.6"/><rect x="707.35" y="1951.1" width="12.33" height="7.68"/></g>
<g stroke="#fff" stroke-width="1" opacity="0.75"><line x1="571.72" y1="1948.65" x2="571.72" y2="1951.1"/><line x1="596.38" y1="1951.1" x2="596.38" y2="1951.94"/><line x1="645.7" y1="1943.17" x2="645.7" y2="1951.1"/><line x1="670.36" y1="1951.1" x2="670.36" y2="1952.49"/><line x1="695.02" y1="1951.1" x2="695.02" y2="1965.41"/></g>
<g fill="#000000"><rect x="730.6" y="1951.1" width="12.58" height="4.51"/><rect x="743.23" y="1950.2" width="11.73" height="0.9" fill="#555" opacity="1"/><rect x="755.56" y="1950.2" width="11.73" height="0.9" fill="#555" opacity="1"/><rect x="767.59" y="1951.1" width="12.58" height="5.78"/><rect x="780.22" y="1950.2" width="11.73" height="0.9" fill="#555" opacity="1"/><rect x="792.55" y="1950.2" width="11.73" height="0.9" fill="#555" opacity="1"/><rect x="804.88" y="1950.2" width="11.73" height="0.9" fill="#555" opacity="1"/><rect x="817.21" y="1950.2" width="11.73" height="0.9" fill="#555" opacity="1"/><rect x="829.24" y="1945.59" width="12.58" height="5.51"/><rect x="841.57" y="1951.1" width="12.58" height="1.24"/><rect x="853.9" y="1942.14" width="12.58" height="8.96"/><rect x="866.53" y="1950.2" width="11.73" height="0.9" fill="#555" opacity="1"/><rect x="878.56" y="1945.05" width="12.58" height="6.05"/><rect x="890.89" y="1948.68" width="12.58" height="2.42"/><rect x="903.22" y="1947.44" width="12.58" height="3.66"/><rect x="915.85" y="1950.2" width="11.73" height="0.9" fill="#555" opacity="1"/></g>
<g fill="#d73b31"><rect x="938.8" y="1920.5" width="12.58" height="30.6"/><rect x="951.13" y="1951.1" width="12.58" height="1.11"/><rect x="963.46" y="1951.1" width="12.58" height="2.13"/><rect x="975.79" y="1910.94" width="12.58" height="40.16"/><rect x="988.12" y="1951.1" width="12.58" height="9"/><rect x="1000.45" y="1951.1" width="12.58" height="12.85"/><rect x="1012.78" y="1943.48" width="12.58" height="7.62"/><rect x="1025.11" y="1916.29" width="12.58" height="34.81"/><rect x="1037.44" y="1949.58" width="12.58" height="1.52"/><rect x="1049.77" y="1951.1" width="12.58" height="7.77"/><rect x="1062.1" y="1951.1" width="12.58" height="21.57"/><rect x="1074.43" y="1934.81" width="12.58" height="16.29"/><rect x="1086.76" y="1939.14" width="12.58" height="11.96"/><rect x="1099.09" y="1951.1" width="12.58" height="17.2"/><rect x="1111.42" y="1934.22" width="12.58" height="16.88"/><rect x="1123.75" y="1937.72" width="12.33" height="13.38"/></g>
<g stroke="#fff" stroke-width="1" opacity="0.75"><line x1="963.46" y1="1951.1" x2="963.46" y2="1952.21"/><line x1="988.12" y1="1910.94" x2="988.12" y2="1951.1"/><line x1="1012.78" y1="1951.1" x2="1012.78" y2="1963.95"/><line x1="1037.44" y1="1916.29" x2="1037.44" y2="1951.1"/><line x1="1062.1" y1="1951.1" x2="1062.1" y2="1958.87"/><line x1="1086.76" y1="1934.81" x2="1086.76" y2="1951.1"/><line x1="1111.42" y1="1951.1" x2="1111.42" y2="1968.3"/></g>
<g fill="#cccccc"><rect x="1147" y="1951.1" width="12.58" height="5.05"/><rect x="1159.63" y="1950.3" width="11.73" height="0.8" fill="#cccccc" opacity="0.6"/><rect x="1171.66" y="1941.9" width="12.58" height="9.2"/><rect x="1183.99" y="1951.1" width="12.58" height="6.29"/><rect x="1196.62" y="1950.3" width="11.73" height="0.8" fill="#cccccc" opacity="0.6"/><rect x="1208.65" y="1951.1" width="12.58" height="1.42"/><rect x="1220.98" y="1945.02" width="12.58" height="6.08"/><rect x="1233.31" y="1945.74" width="12.58" height="5.36"/><rect x="1245.94" y="1950.3" width="11.73" height="0.8" fill="#cccccc" opacity="0.6"/><rect x="1257.97" y="1934.64" width="12.58" height="16.46"/><rect x="1270.3" y="1946.86" width="12.58" height="4.24"/><rect x="1282.93" y="1950.3" width="11.73" height="0.8" fill="#cccccc" opacity="0.6"/><rect x="1295.26" y="1950.3" width="11.73" height="0.8" fill="#cccccc" opacity="0.6"/><rect x="1307.29" y="1948.13" width="12.58" height="2.97"/><rect x="1319.92" y="1950.3" width="11.73" height="0.8" fill="#cccccc" opacity="0.6"/><rect x="1331.95" y="1951.1" width="12.33" height="7.05"/></g>
<g stroke="#fff" stroke-width="1" opacity="0.75"><line x1="1196.32" y1="1951.1" x2="1196.32" y2="1957.39"/><line x1="1220.98" y1="1951.1" x2="1220.98" y2="1952.52"/><line x1="1245.64" y1="1945.74" x2="1245.64" y2="1951.1"/><line x1="1270.3" y1="1934.64" x2="1270.3" y2="1951.1"/><line x1="1319.62" y1="1948.13" x2="1319.62" y2="1951.1"/></g>
<g fill="#a6cd6c"><rect x="1355.2" y="1951.1" width="12.58" height="22.23"/><rect x="1367.83" y="1950.3" width="11.73" height="0.8" fill="#a6cd6c" opacity="0.6"/><rect x="1379.86" y="1951.1" width="12.58" height="19.18"/><rect x="1392.19" y="1933.75" width="12.58" height="17.35"/><rect x="1404.52" y="1935.12" width="12.58" height="15.98"/><rect x="1417.15" y="1950.3" width="11.73" height="0.8" fill="#a6cd6c" opacity="0.6"/><rect x="1429.48" y="1950.3" width="11.73" height="0.8" fill="#a6cd6c" opacity="0.6"/><rect x="1441.51" y="1951.1" width="12.58" height="5.53"/><rect x="1453.84" y="1948.58" width="12.58" height="2.52"/><rect x="1466.17" y="1949.92" width="12.58" height="1.18"/><rect x="1478.5" y="1951.1" width="12.58" height="9.41"/><rect x="1490.83" y="1951.1" width="12.58" height="17.21"/><rect x="1503.16" y="1951.1" width="12.58" height="9.92"/><rect x="1515.79" y="1950.3" width="11.73" height="0.8" fill="#a6cd6c" opacity="0.6"/><rect x="1527.82" y="1951.1" width="12.58" height="11.77"/><rect x="1540.15" y="1951.1" width="12.33" height="3.17"/></g>
<g stroke="#fff" stroke-width="1" opacity="0.75"><line x1="1404.52" y1="1933.75" x2="1404.52" y2="1951.1"/><line x1="1453.84" y1="1951.1" x2="1453.84" y2="1956.63"/><line x1="1478.5" y1="1949.92" x2="1478.5" y2="1951.1"/><line x1="1503.16" y1="1951.1" x2="1503.16" y2="1968.31"/></g>
<g fill="#edc9c6"><rect x="1563.4" y="1935.18" width="12.58" height="15.92"/><rect x="1576.03" y="1950.3" width="11.73" height="0.8" fill="#edc9c6" opacity="0.6"/><rect x="1588.06" y="1946.32" width="12.58" height="4.78"/><rect x="1600.69" y="1950.3" width="11.73" height="0.8" fill="#edc9c6" opacity="0.6"/><rect x="1613.02" y="1950.3" width="11.73" height="0.8" fill="#edc9c6" opacity="0.6"/><rect x="1625.35" y="1950.3" width="11.73" height="0.8" fill="#edc9c6" opacity="0.6"/><rect x="1637.68" y="1950.3" width="11.73" height="0.8" fill="#edc9c6" opacity="0.6"/><rect x="1650.01" y="1950.3" width="11.73" height="0.8" fill="#edc9c6" opacity="0.6"/><rect x="1662.34" y="1950.3" width="11.73" height="0.8" fill="#edc9c6" opacity="0.6"/><rect x="1674.37" y="1946.89" width="12.58" height="4.21"/><rect x="1687" y="1950.3" width="11.73" height="0.8" fill="#edc9c6" opacity="0.6"/><rect x="1699.33" y="1950.3" width="11.73" height="0.8" fill="#edc9c6" opacity="0.6"/><rect x="1711.66" y="1950.3" width="11.73" height="0.8" fill="#edc9c6" opacity="0.6"/><rect x="1723.99" y="1950.3" width="11.73" height="0.8" fill="#edc9c6" opacity="0.6"/><rect x="1736.02" y="1947.59" width="12.58" height="3.51"/><rect x="1748.35" y="1951.1" width="12.33" height="8.14"/></g>
<g stroke="#fff" stroke-width="1" opacity="0.75"><line x1="1686.7" y1="1946.89" x2="1686.7" y2="1951.1"/></g>
<line x1="518" y1="1813.57" x2="518" y2="1951.6" stroke="#000" stroke-width="2.8"/>
<line x1="511.5" y1="1949.6" x2="518" y2="1949.6" stroke="#000" stroke-width="2.8"/>
<text x="507.8" y="1962.3" text-anchor="end" font-size="31.3">0.0</text>
<line x1="511.5" y1="1905.72" x2="518" y2="1905.72" stroke="#000" stroke-width="2.8"/>
<text x="507.8" y="1916.92" text-anchor="end" font-size="31.3">2.5</text>
<line x1="511.5" y1="1860.35" x2="518" y2="1860.35" stroke="#000" stroke-width="2.8"/>
<text x="507.8" y="1871.55" text-anchor="end" font-size="31.3">5.0</text>
<line x1="511.5" y1="1814.97" x2="518" y2="1814.97" stroke="#000" stroke-width="2.8"/>
<text x="507.8" y="1826.17" text-anchor="end" font-size="31.3">7.5</text>
<text text-anchor="middle" transform="translate(434.5 1880.3) rotate(-90)" font-size="33.3">Residuals (%)</text>
<g font-size="8.7" font-weight="bold" fill="#2b2b2b" stroke="#2b2b2b" stroke-width="0.12" text-anchor="end">
<text transform="translate(530.86 1977.8) rotate(-90)">AC&gt;AA</text>
<text transform="translate(543.19 1977.8) rotate(-90)">AC&gt;AC</text>
<text transform="translate(555.52 1977.8) rotate(-90)">AC&gt;AG</text>
<text transform="translate(567.85 1977.8) rotate(-90)">AC&gt;AT</text>
<text transform="translate(580.18 1977.8) rotate(-90)">CC&gt;AA</text>
<text transform="translate(592.51 1977.8) rotate(-90)">CC&gt;AC</text>
<text transform="translate(604.84 1977.8) rotate(-90)">CC&gt;AG</text>
<text transform="translate(617.17 1977.8) rotate(-90)">CC&gt;AT</text>
<text transform="translate(629.5 1977.8) rotate(-90)">GC&gt;AA</text>
<text transform="translate(641.83 1977.8) rotate(-90)">GC&gt;AC</text>
<text transform="translate(654.16 1977.8) rotate(-90)">GC&gt;AG</text>
<text transform="translate(666.49 1977.8) rotate(-90)">GC&gt;AT</text>
<text transform="translate(678.82 1977.8) rotate(-90)">TC&gt;AA</text>
<text transform="translate(691.15 1977.8) rotate(-90)">TC&gt;AC</text>
<text transform="translate(703.48 1977.8) rotate(-90)">TC&gt;AG</text>
<text transform="translate(715.81 1977.8) rotate(-90)">TC&gt;AT</text>
<text transform="translate(739.06 1977.8) rotate(-90)">AC&gt;GA</text>
<text transform="translate(751.39 1977.8) rotate(-90)">AC&gt;GC</text>
<text transform="translate(763.72 1977.8) rotate(-90)">AC&gt;GG</text>
<text transform="translate(776.05 1977.8) rotate(-90)">AC&gt;GT</text>
<text transform="translate(788.38 1977.8) rotate(-90)">CC&gt;GA</text>
<text transform="translate(800.71 1977.8) rotate(-90)">CC&gt;GC</text>
<text transform="translate(813.04 1977.8) rotate(-90)">CC&gt;GG</text>
<text transform="translate(825.37 1977.8) rotate(-90)">CC&gt;GT</text>
<text transform="translate(837.7 1977.8) rotate(-90)">GC&gt;GA</text>
<text transform="translate(850.03 1977.8) rotate(-90)">GC&gt;GC</text>
<text transform="translate(862.36 1977.8) rotate(-90)">GC&gt;GG</text>
<text transform="translate(874.69 1977.8) rotate(-90)">GC&gt;GT</text>
<text transform="translate(887.02 1977.8) rotate(-90)">TC&gt;GA</text>
<text transform="translate(899.35 1977.8) rotate(-90)">TC&gt;GC</text>
<text transform="translate(911.68 1977.8) rotate(-90)">TC&gt;GG</text>
<text transform="translate(924.01 1977.8) rotate(-90)">TC&gt;GT</text>
<text transform="translate(947.26 1977.8) rotate(-90)">AC&gt;TA</text>
<text transform="translate(959.59 1977.8) rotate(-90)">AC&gt;TC</text>
<text transform="translate(971.92 1977.8) rotate(-90)">AC&gt;TG</text>
<text transform="translate(984.25 1977.8) rotate(-90)">AC&gt;TT</text>
<text transform="translate(996.58 1977.8) rotate(-90)">CC&gt;TA</text>
<text transform="translate(1008.91 1977.8) rotate(-90)">CC&gt;TC</text>
<text transform="translate(1021.24 1977.8) rotate(-90)">CC&gt;TG</text>
<text transform="translate(1033.57 1977.8) rotate(-90)">CC&gt;TT</text>
<text transform="translate(1045.9 1977.8) rotate(-90)">GC&gt;TA</text>
<text transform="translate(1058.23 1977.8) rotate(-90)">GC&gt;TC</text>
<text transform="translate(1070.56 1977.8) rotate(-90)">GC&gt;TG</text>
<text transform="translate(1082.89 1977.8) rotate(-90)">GC&gt;TT</text>
<text transform="translate(1095.22 1977.8) rotate(-90)">TC&gt;TA</text>
<text transform="translate(1107.55 1977.8) rotate(-90)">TC&gt;TC</text>
<text transform="translate(1119.88 1977.8) rotate(-90)">TC&gt;TG</text>
<text transform="translate(1132.21 1977.8) rotate(-90)">TC&gt;TT</text>
<text transform="translate(1155.46 1977.8) rotate(-90)">AT&gt;AA</text>
<text transform="translate(1167.79 1977.8) rotate(-90)">AT&gt;AC</text>
<text transform="translate(1180.12 1977.8) rotate(-90)">AT&gt;AG</text>
<text transform="translate(1192.45 1977.8) rotate(-90)">AT&gt;AT</text>
<text transform="translate(1204.78 1977.8) rotate(-90)">CT&gt;AA</text>
<text transform="translate(1217.11 1977.8) rotate(-90)">CT&gt;AC</text>
<text transform="translate(1229.44 1977.8) rotate(-90)">CT&gt;AG</text>
<text transform="translate(1241.77 1977.8) rotate(-90)">CT&gt;AT</text>
<text transform="translate(1254.1 1977.8) rotate(-90)">GT&gt;AA</text>
<text transform="translate(1266.43 1977.8) rotate(-90)">GT&gt;AC</text>
<text transform="translate(1278.76 1977.8) rotate(-90)">GT&gt;AG</text>
<text transform="translate(1291.09 1977.8) rotate(-90)">GT&gt;AT</text>
<text transform="translate(1303.42 1977.8) rotate(-90)">TT&gt;AA</text>
<text transform="translate(1315.75 1977.8) rotate(-90)">TT&gt;AC</text>
<text transform="translate(1328.08 1977.8) rotate(-90)">TT&gt;AG</text>
<text transform="translate(1340.41 1977.8) rotate(-90)">TT&gt;AT</text>
<text transform="translate(1363.66 1977.8) rotate(-90)">AT&gt;CA</text>
<text transform="translate(1375.99 1977.8) rotate(-90)">AT&gt;CC</text>
<text transform="translate(1388.33 1977.8) rotate(-90)">AT&gt;CG</text>
<text transform="translate(1400.65 1977.8) rotate(-90)">AT&gt;CT</text>
<text transform="translate(1412.98 1977.8) rotate(-90)">CT&gt;CA</text>
<text transform="translate(1425.32 1977.8) rotate(-90)">CT&gt;CC</text>
<text transform="translate(1437.64 1977.8) rotate(-90)">CT&gt;CG</text>
<text transform="translate(1449.97 1977.8) rotate(-90)">CT&gt;CT</text>
<text transform="translate(1462.31 1977.8) rotate(-90)">GT&gt;CA</text>
<text transform="translate(1474.63 1977.8) rotate(-90)">GT&gt;CC</text>
<text transform="translate(1486.96 1977.8) rotate(-90)">GT&gt;CG</text>
<text transform="translate(1499.29 1977.8) rotate(-90)">GT&gt;CT</text>
<text transform="translate(1511.62 1977.8) rotate(-90)">TT&gt;CA</text>
<text transform="translate(1523.95 1977.8) rotate(-90)">TT&gt;CC</text>
<text transform="translate(1536.29 1977.8) rotate(-90)">TT&gt;CG</text>
<text transform="translate(1548.62 1977.8) rotate(-90)">TT&gt;CT</text>
<text transform="translate(1571.86 1977.8) rotate(-90)">AT&gt;GA</text>
<text transform="translate(1584.19 1977.8) rotate(-90)">AT&gt;GC</text>
<text transform="translate(1596.52 1977.8) rotate(-90)">AT&gt;GG</text>
<text transform="translate(1608.85 1977.8) rotate(-90)">AT&gt;GT</text>
<text transform="translate(1621.18 1977.8) rotate(-90)">CT&gt;GA</text>
<text transform="translate(1633.51 1977.8) rotate(-90)">CT&gt;GC</text>
<text transform="translate(1645.84 1977.8) rotate(-90)">CT&gt;GG</text>
<text transform="translate(1658.17 1977.8) rotate(-90)">CT&gt;GT</text>
<text transform="translate(1670.5 1977.8) rotate(-90)">GT&gt;GA</text>
<text transform="translate(1682.83 1977.8) rotate(-90)">GT&gt;GC</text>
<text transform="translate(1695.16 1977.8) rotate(-90)">GT&gt;GG</text>
<text transform="translate(1707.49 1977.8) rotate(-90)">GT&gt;GT</text>
<text transform="translate(1719.82 1977.8) rotate(-90)">TT&gt;GA</text>
<text transform="translate(1732.15 1977.8) rotate(-90)">TT&gt;GC</text>
<text transform="translate(1744.48 1977.8) rotate(-90)">TT&gt;GG</text>
<text transform="translate(1756.81 1977.8) rotate(-90)">TT&gt;GT</text>
</g>
</g>
<g>
<line x1="353.17" y1="2073" x2="353.17" y2="2440.2" stroke="#b5121b" stroke-width="1.8" stroke-dasharray="6.6 4"/>
<g fill="#d9d9d9" stroke="#000" stroke-width="1.8"><rect x="106.86" y="2300.74" width="10.26" height="139.46"/><rect x="117.13" y="2388.82" width="10.26" height="51.38"/><rect x="127.39" y="2418.18" width="10.26" height="22.02"/><rect x="137.65" y="2418.18" width="10.26" height="22.02"/><rect x="147.91" y="2410.84" width="10.26" height="29.36"/><rect x="168.44" y="2410.84" width="10.26" height="29.36"/><rect x="188.97" y="2432.86" width="10.26" height="7.34"/><rect x="209.49" y="2432.86" width="10.26" height="7.34"/><rect x="219.76" y="2418.18" width="10.26" height="22.02"/><rect x="250.54" y="2432.86" width="10.26" height="7.34"/><rect x="322.39" y="2432.86" width="10.26" height="7.34"/><rect x="332.65" y="2432.86" width="10.26" height="7.34"/><rect x="342.91" y="2425.52" width="10.26" height="14.68"/><rect x="353.17" y="2432.86" width="10.26" height="7.34"/><rect x="363.44" y="2425.52" width="10.26" height="14.68"/><rect x="373.7" y="2425.52" width="10.26" height="14.68"/><rect x="383.96" y="2418.18" width="10.26" height="22.02"/><rect x="394.23" y="2425.52" width="10.26" height="14.68"/></g>
<line x1="96.6" y1="2072" x2="96.6" y2="2441.2" stroke="#000" stroke-width="2"/>
<line x1="95.7" y1="2440.2" x2="713.38" y2="2440.2" stroke="#000" stroke-width="2"/>
<line x1="96.6" y1="2440.2" x2="96.6" y2="2448.2" stroke="#000" stroke-width="2"/>
<text x="96.6" y="2480.8" text-anchor="middle" font-size="37.5">0</text>
<line x1="199.23" y1="2440.2" x2="199.23" y2="2448.2" stroke="#000" stroke-width="2"/>
<text x="199.23" y="2480.8" text-anchor="middle" font-size="37.5">0.1</text>
<line x1="301.86" y1="2440.2" x2="301.86" y2="2448.2" stroke="#000" stroke-width="2"/>
<text x="301.86" y="2480.8" text-anchor="middle" font-size="37.5">0.2</text>
<line x1="404.49" y1="2440.2" x2="404.49" y2="2448.2" stroke="#000" stroke-width="2"/>
<text x="404.49" y="2480.8" text-anchor="middle" font-size="37.5">0.3</text>
<line x1="507.12" y1="2440.2" x2="507.12" y2="2448.2" stroke="#000" stroke-width="2"/>
<text x="507.12" y="2480.8" text-anchor="middle" font-size="37.5">0.4</text>
<line x1="609.75" y1="2440.2" x2="609.75" y2="2448.2" stroke="#000" stroke-width="2"/>
<text x="609.75" y="2480.8" text-anchor="middle" font-size="37.5">0.5</text>
<line x1="712.38" y1="2440.2" x2="712.38" y2="2448.2" stroke="#000" stroke-width="2"/>
<text x="712.38" y="2480.8" text-anchor="middle" font-size="37.5">0.6</text>
<text x="404.49" y="2517.8" text-anchor="middle" font-size="37.5">AF</text>
<line x1="85.6" y1="2440.2" x2="96.6" y2="2440.2" stroke="#000" stroke-width="2"/>
<text text-anchor="middle" transform="translate(84.2 2438.2) rotate(-90)" font-size="37.5">0</text>
<line x1="85.6" y1="2366.8" x2="96.6" y2="2366.8" stroke="#000" stroke-width="2"/>
<text text-anchor="middle" transform="translate(84.2 2364.8) rotate(-90)" font-size="37.5">10</text>
<line x1="85.6" y1="2293.4" x2="96.6" y2="2293.4" stroke="#000" stroke-width="2"/>
<text text-anchor="middle" transform="translate(84.2 2291.4) rotate(-90)" font-size="37.5">20</text>
<line x1="85.6" y1="2220" x2="96.6" y2="2220" stroke="#000" stroke-width="2"/>
<text text-anchor="middle" transform="translate(84.2 2218) rotate(-90)" font-size="37.5">30</text>
<line x1="85.6" y1="2146.6" x2="96.6" y2="2146.6" stroke="#000" stroke-width="2"/>
<text text-anchor="middle" transform="translate(84.2 2144.6) rotate(-90)" font-size="37.5">40</text>
<line x1="85.6" y1="2073.2" x2="96.6" y2="2073.2" stroke="#000" stroke-width="2"/>
<text text-anchor="middle" transform="translate(84.2 2071.2) rotate(-90)" font-size="37.5">50</text>
<text text-anchor="middle" transform="translate(37.9 2258.3) rotate(-90)" font-size="39">Frequency</text>
<text x="12.5" y="2058.8" font-weight="bold" font-size="51.5">d</text>
</g>
<g>
<line x1="1070.53" y1="2073" x2="1070.53" y2="2440.2" stroke="#b5121b" stroke-width="1.8" stroke-dasharray="6.6 4"/>
<g fill="#d9d9d9" stroke="#000" stroke-width="1.8"><rect x="824.21" y="2183.3" width="10.26" height="256.9"/><rect x="834.48" y="2264.04" width="10.26" height="176.16"/><rect x="844.74" y="2300.74" width="10.26" height="139.46"/><rect x="855" y="2330.1" width="10.26" height="110.1"/><rect x="865.27" y="2403.5" width="10.26" height="36.7"/><rect x="875.53" y="2396.16" width="10.26" height="44.04"/><rect x="885.79" y="2396.16" width="10.26" height="44.04"/><rect x="896.05" y="2249.36" width="10.26" height="190.84"/><rect x="906.32" y="2418.18" width="10.26" height="22.02"/><rect x="916.58" y="2432.86" width="10.26" height="7.34"/><rect x="926.84" y="2418.18" width="10.26" height="22.02"/><rect x="937.11" y="2432.86" width="10.26" height="7.34"/><rect x="947.37" y="2432.86" width="10.26" height="7.34"/><rect x="967.89" y="2410.84" width="10.26" height="29.36"/><rect x="978.16" y="2418.18" width="10.26" height="22.02"/><rect x="988.42" y="2418.18" width="10.26" height="22.02"/><rect x="998.68" y="2425.52" width="10.26" height="14.68"/><rect x="1019.21" y="2418.18" width="10.26" height="22.02"/><rect x="1029.47" y="2432.86" width="10.26" height="7.34"/><rect x="1039.74" y="2425.52" width="10.26" height="14.68"/><rect x="1050" y="2425.52" width="10.26" height="14.68"/><rect x="1060.26" y="2425.52" width="10.26" height="14.68"/><rect x="1070.53" y="2432.86" width="10.26" height="7.34"/><rect x="1080.79" y="2425.52" width="10.26" height="14.68"/><rect x="1111.58" y="2425.52" width="10.26" height="14.68"/><rect x="1121.84" y="2432.86" width="10.26" height="7.34"/><rect x="1132.1" y="2418.18" width="10.26" height="22.02"/><rect x="1142.37" y="2418.18" width="10.26" height="22.02"/><rect x="1152.63" y="2359.46" width="10.26" height="80.74"/><rect x="1162.89" y="2432.86" width="10.26" height="7.34"/><rect x="1183.42" y="2432.86" width="10.26" height="7.34"/><rect x="1193.68" y="2432.86" width="10.26" height="7.34"/></g>
<line x1="813.95" y1="2072" x2="813.95" y2="2441.2" stroke="#000" stroke-width="2"/>
<line x1="805" y1="2440.2" x2="1430.73" y2="2440.2" stroke="#000" stroke-width="2"/>
<line x1="813.95" y1="2440.2" x2="813.95" y2="2448.2" stroke="#000" stroke-width="2"/>
<text x="813.95" y="2480.8" text-anchor="middle" font-size="37.5">0</text>
<line x1="916.58" y1="2440.2" x2="916.58" y2="2448.2" stroke="#000" stroke-width="2"/>
<text x="916.58" y="2480.8" text-anchor="middle" font-size="37.5">0.1</text>
<line x1="1019.21" y1="2440.2" x2="1019.21" y2="2448.2" stroke="#000" stroke-width="2"/>
<text x="1019.21" y="2480.8" text-anchor="middle" font-size="37.5">0.2</text>
<line x1="1121.84" y1="2440.2" x2="1121.84" y2="2448.2" stroke="#000" stroke-width="2"/>
<text x="1121.84" y="2480.8" text-anchor="middle" font-size="37.5">0.3</text>
<line x1="1224.47" y1="2440.2" x2="1224.47" y2="2448.2" stroke="#000" stroke-width="2"/>
<text x="1224.47" y="2480.8" text-anchor="middle" font-size="37.5">0.4</text>
<line x1="1327.1" y1="2440.2" x2="1327.1" y2="2448.2" stroke="#000" stroke-width="2"/>
<text x="1327.1" y="2480.8" text-anchor="middle" font-size="37.5">0.5</text>
<line x1="1429.73" y1="2440.2" x2="1429.73" y2="2448.2" stroke="#000" stroke-width="2"/>
<text x="1429.73" y="2480.8" text-anchor="middle" font-size="37.5">0.6</text>
<text x="1121.84" y="2517.8" text-anchor="middle" font-size="37.5">AF</text>
<text x="772.5" y="2058.8" font-weight="bold" font-size="51.5">e</text>
</g>
</svg>
</body></html>
